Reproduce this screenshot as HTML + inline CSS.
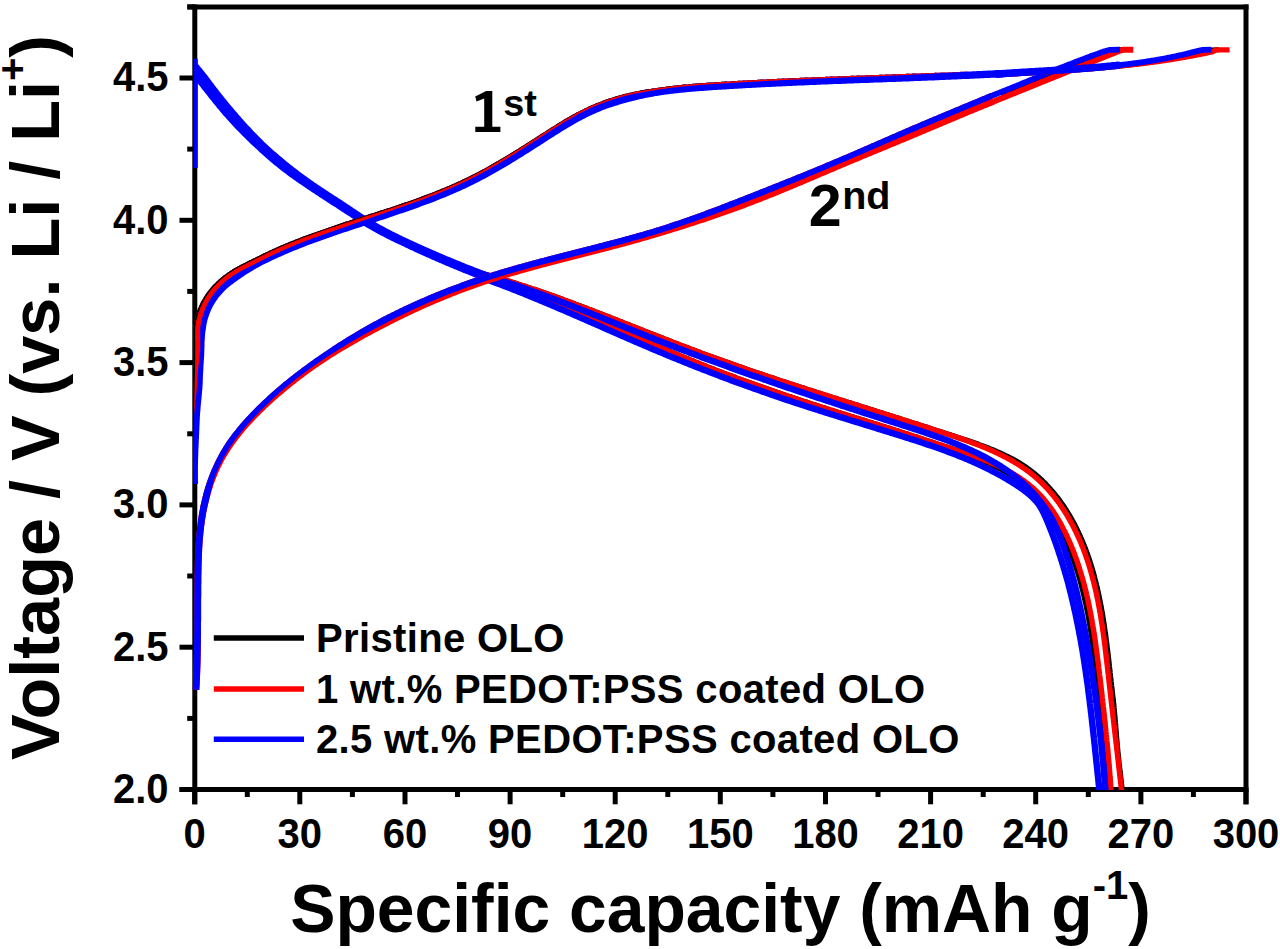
<!DOCTYPE html>
<html><head><meta charset="utf-8"><title>Voltage profile</title>
<style>html,body{margin:0;padding:0;background:#fff;}body{width:1280px;height:949px;overflow:hidden;font-family:"Liberation Sans",sans-serif;}svg{display:block;}</style>
</head><body>
<svg width="1280" height="949" viewBox="0 0 1280 949"><defs><clipPath id="pc"><rect x="192.5" y="0" width="1060" height="790"/></clipPath><clipPath id="pcC"><rect x="193.8" y="0" width="1060" height="792"/></clipPath></defs><line x1="187.4" y1="6.9" x2="1248.5" y2="6.9" stroke="#000" stroke-width="5"/><line x1="194.8" y1="4.4" x2="194.8" y2="804.3" stroke="#000" stroke-width="5"/><line x1="1246" y1="4.4" x2="1246" y2="804.3" stroke="#000" stroke-width="5"/><line x1="179.5" y1="789.5" x2="1248.5" y2="789.5" stroke="#000" stroke-width="5"/><line x1="194.7" y1="789.5" x2="194.7" y2="804.3" stroke="#000" stroke-width="5"/><line x1="247.3" y1="789.5" x2="247.3" y2="797" stroke="#000" stroke-width="5"/><line x1="299.8" y1="789.5" x2="299.8" y2="804.3" stroke="#000" stroke-width="5"/><line x1="352.4" y1="789.5" x2="352.4" y2="797" stroke="#000" stroke-width="5"/><line x1="405.0" y1="789.5" x2="405.0" y2="804.3" stroke="#000" stroke-width="5"/><line x1="457.5" y1="789.5" x2="457.5" y2="797" stroke="#000" stroke-width="5"/><line x1="510.1" y1="789.5" x2="510.1" y2="804.3" stroke="#000" stroke-width="5"/><line x1="562.7" y1="789.5" x2="562.7" y2="797" stroke="#000" stroke-width="5"/><line x1="615.2" y1="789.5" x2="615.2" y2="804.3" stroke="#000" stroke-width="5"/><line x1="667.8" y1="789.5" x2="667.8" y2="797" stroke="#000" stroke-width="5"/><line x1="720.3" y1="789.5" x2="720.3" y2="804.3" stroke="#000" stroke-width="5"/><line x1="772.9" y1="789.5" x2="772.9" y2="797" stroke="#000" stroke-width="5"/><line x1="825.5" y1="789.5" x2="825.5" y2="804.3" stroke="#000" stroke-width="5"/><line x1="878.0" y1="789.5" x2="878.0" y2="797" stroke="#000" stroke-width="5"/><line x1="930.6" y1="789.5" x2="930.6" y2="804.3" stroke="#000" stroke-width="5"/><line x1="983.2" y1="789.5" x2="983.2" y2="797" stroke="#000" stroke-width="5"/><line x1="1035.7" y1="789.5" x2="1035.7" y2="804.3" stroke="#000" stroke-width="5"/><line x1="1088.3" y1="789.5" x2="1088.3" y2="797" stroke="#000" stroke-width="5"/><line x1="1140.9" y1="789.5" x2="1140.9" y2="804.3" stroke="#000" stroke-width="5"/><line x1="1193.4" y1="789.5" x2="1193.4" y2="797" stroke="#000" stroke-width="5"/><line x1="1246.0" y1="789.5" x2="1246.0" y2="804.3" stroke="#000" stroke-width="5"/><line x1="179.5" y1="789.5" x2="194.8" y2="789.5" stroke="#000" stroke-width="5"/><line x1="187.2" y1="718.4" x2="194.8" y2="718.4" stroke="#000" stroke-width="5"/><line x1="179.5" y1="647.2" x2="194.8" y2="647.2" stroke="#000" stroke-width="5"/><line x1="187.2" y1="576.0" x2="194.8" y2="576.0" stroke="#000" stroke-width="5"/><line x1="179.5" y1="504.9" x2="194.8" y2="504.9" stroke="#000" stroke-width="5"/><line x1="187.2" y1="433.8" x2="194.8" y2="433.8" stroke="#000" stroke-width="5"/><line x1="179.5" y1="362.6" x2="194.8" y2="362.6" stroke="#000" stroke-width="5"/><line x1="187.2" y1="291.4" x2="194.8" y2="291.4" stroke="#000" stroke-width="5"/><line x1="179.5" y1="220.3" x2="194.8" y2="220.3" stroke="#000" stroke-width="5"/><line x1="187.2" y1="149.1" x2="194.8" y2="149.1" stroke="#000" stroke-width="5"/><line x1="179.5" y1="78.0" x2="194.8" y2="78.0" stroke="#000" stroke-width="5"/><line x1="187.2" y1="6.9" x2="194.8" y2="6.9" stroke="#000" stroke-width="5"/><g clip-path="url(#pc)"><path d="M480.0 272.9L481.4 273.3L482.8 273.7L484.3 274.1L485.7 274.5L487.2 274.9L488.6 275.3L490.0 275.7L491.5 276.1L492.9 276.5L494.3 276.9L495.8 277.3L497.2 277.7L498.6 278.1L500.1 278.6L501.5 279.0L502.9 279.4L504.3 279.8L505.8 280.3L507.2 280.7L508.6 281.1L510.1 281.6L511.5 282.0L512.9 282.5L514.3 282.9L515.8 283.4L517.2 283.8L518.6 284.3L520.0 284.7L521.5 285.2L522.9 285.7L524.3 286.1L525.7 286.6L527.2 287.1L528.6 287.5L530.0 288.0L531.4 288.5L532.8 289.0L534.3 289.4L535.7 289.9L537.1 290.4L538.5 290.9L539.9 291.4L541.3 291.9L542.8 292.4L544.2 292.9L545.6 293.4L547.0 293.9L548.4 294.4L549.8 294.9L551.3 295.4L552.7 295.9L554.1 296.4L555.5 296.9L556.9 297.4L558.3 297.9L559.7 298.4L561.2 298.9L562.6 299.4L564.0 300.0L565.4 300.5L566.8 301.0L568.2 301.5L569.6 302.0L571.0 302.6L572.5 303.1L573.9 303.6L575.3 304.2L576.7 304.7L578.1 305.2L579.5 305.7L580.9 306.3L582.3 306.8L583.7 307.3L585.1 307.9L586.5 308.4L588.0 309.0L589.4 309.5L590.8 310.0L592.2 310.6L593.6 311.1L595.0 311.7L596.4 312.2L597.8 312.8L599.2 313.3L600.6 313.8L602.0 314.4L603.4 314.9L604.8 315.5L606.2 316.0L607.6 316.6L609.1 317.1L610.5 317.7L611.9 318.2L613.3 318.8L614.7 319.3L616.1 319.9L617.5 320.4L618.9 321.0L620.3 321.5L621.7 322.1L623.1 322.7L624.5 323.2L625.9 323.8L627.3 324.3L628.7 324.9L630.1 325.4L631.5 326.0L632.9 326.5L634.3 327.1L635.7 327.6L637.1 328.2L638.5 328.8L639.9 329.3L641.3 329.9L642.7 330.4L644.2 331.0L645.6 331.5L647.0 332.1L648.4 332.6L649.8 333.2L651.2 333.7L652.6 334.3L654.0 334.8L655.4 335.4L656.8 335.9L658.2 336.5L659.6 337.0L661.0 337.6L662.4 338.1L663.8 338.7L665.2 339.2L666.6 339.8L668.0 340.3L669.4 340.9L670.8 341.4L672.2 342.0L673.6 342.5L675.0 343.1L676.4 343.6L677.8 344.1L679.2 344.7L680.6 345.2L682.0 345.8L683.4 346.3L684.9 346.8L686.3 347.4L687.7 347.9L689.1 348.4L690.5 349.0L691.9 349.5L693.3 350.0L694.7 350.6L696.1 351.1L697.5 351.6L698.9 352.1L700.3 352.7L701.7 353.2L703.1 353.7L704.5 354.2L705.9 354.8L707.3 355.3L708.7 355.8L710.2 356.3L711.6 356.8L713.0 357.3L714.4 357.8L715.8 358.3L717.2 358.9L718.6 359.4L720.0 359.9L721.4 360.4L722.8 360.9L724.2 361.4L725.6 361.9L727.1 362.4L728.5 362.9L729.9 363.4L731.3 363.9L732.7 364.4L734.1 364.9L735.5 365.4L736.9 365.9L738.3 366.4L739.8 366.8L741.2 367.3L742.6 367.8L744.0 368.3L745.4 368.8L746.8 369.3L748.2 369.8L749.6 370.3L751.0 370.7L752.5 371.2L753.9 371.7L755.3 372.2L756.7 372.7L758.1 373.2L759.5 373.6L760.9 374.1L762.4 374.6L763.8 375.1L765.2 375.5L766.6 376.0L768.0 376.5L769.4 377.0L770.9 377.4L772.3 377.9L773.7 378.4L775.1 378.9L776.5 379.3L777.9 379.8L779.4 380.3L780.8 380.7L782.2 381.2L783.6 381.7L785.0 382.1L786.4 382.6L787.9 383.1L789.3 383.5L790.7 384.0L792.1 384.4L793.5 384.9L795.0 385.4L796.4 385.8L797.8 386.3L799.2 386.8L800.7 387.2L802.1 387.7L803.5 388.1L804.9 388.6L806.3 389.1L807.8 389.5L809.2 390.0L810.6 390.4L812.0 390.9L813.5 391.3L814.9 391.8L816.3 392.3L817.7 392.7L819.2 393.2L820.6 393.6L822.0 394.1L823.4 394.5L824.9 395.0L826.3 395.4L827.7 395.9L829.1 396.4L830.6 396.8L832.0 397.3L833.4 397.7L834.9 398.2L836.3 398.6L837.7 399.1L839.1 399.5L840.6 400.0L842.0 400.4L843.4 400.9L844.9 401.3L846.3 401.8L847.7 402.2L849.2 402.7L850.6 403.1L852.0 403.6L853.4 404.0L854.9 404.5L856.3 404.9L857.7 405.4L859.2 405.9L860.6 406.3L862.1 406.8L863.5 407.2L864.9 407.7L866.4 408.1L867.8 408.6L869.2 409.0L870.7 409.5L872.1 409.9L873.5 410.4L875.0 410.8L876.4 411.3L877.9 411.7L879.3 412.2L880.7 412.7L882.2 413.1L883.6 413.6L885.0 414.0L886.5 414.5L887.9 414.9L889.4 415.4L890.8 415.8L892.3 416.3L893.7 416.8L895.1 417.2L896.6 417.7L898.0 418.1L899.5 418.6L900.9 419.0L902.4 419.5L903.8 420.0L905.2 420.4L906.7 420.9L908.1 421.3L909.6 421.8L911.0 422.3L912.5 422.7L913.9 423.2L915.4 423.7L916.8 424.1L918.3 424.6L919.7 425.1L921.2 425.5L922.6 426.0L924.1 426.5L925.5 426.9L927.0 427.4L928.4 427.9L929.9 428.3L931.3 428.8L932.8 429.3L934.2 429.7L935.7 430.2L937.1 430.7L938.6 431.2L940.0 431.6L941.5 432.1L943.0 432.6L944.4 433.0L945.9 433.5L947.3 434.0L948.8 434.4L950.3 434.9L951.7 435.4L953.2 435.8L954.6 436.3L956.1 436.8L957.5 437.3L959.0 437.7L960.5 438.2L961.9 438.7L963.4 439.2L964.8 439.7L966.3 440.1L967.7 440.6L969.2 441.1L970.6 441.6L972.0 442.1L973.5 442.6L974.9 443.1L976.4 443.6L977.8 444.1L979.2 444.7L980.6 445.2L982.1 445.7L983.5 446.2L984.9 446.8L986.3 447.3L987.7 447.9L989.1 448.4L990.5 449.0L991.9 449.5L993.3 450.1L994.7 450.7L996.1 451.3L997.5 451.9L998.9 452.5L1000.2 453.1L1001.6 453.7L1002.9 454.3L1004.3 455.0L1005.6 455.6L1007.0 456.3L1008.3 456.9L1009.7 457.6L1011.0 458.3L1012.3 459.0L1013.6 459.7L1014.9 460.4L1016.2 461.1L1017.5 461.9L1018.7 462.6L1020.0 463.4L1021.3 464.2L1022.5 465.0L1023.7 465.8L1025.0 466.6L1026.2 467.4L1027.4 468.3L1028.6 469.2L1029.8 470.0L1030.9 470.9L1032.1 471.8L1033.3 472.8L1034.4 473.7L1035.5 474.6L1036.7 475.6L1037.8 476.5L1038.9 477.5L1040.0 478.5L1041.1 479.5L1042.1 480.5L1043.2 481.6L1044.2 482.6L1045.3 483.6L1046.3 484.7L1047.3 485.8L1048.3 486.9L1049.3 488.0L1050.3 489.1L1051.3 490.2L1052.3 491.3L1053.2 492.4L1054.2 493.6L1055.1 494.7L1056.0 495.9L1057.0 497.1L1057.9 498.2L1058.8 499.4L1059.7 500.6L1060.5 501.9L1061.4 503.1L1062.3 504.3L1063.1 505.5L1064.0 506.8L1064.8 508.0L1065.6 509.3L1066.4 510.5L1067.2 511.8L1068.0 513.1L1068.8 514.4L1069.6 515.7L1070.3 517.0L1071.1 518.3L1071.8 519.6L1072.5 520.9L1073.3 522.3L1074.0 523.6L1074.7 524.9L1075.4 526.3L1076.1 527.6L1076.7 529.0L1077.4 530.4L1078.1 531.7L1078.7 533.1L1079.4 534.5L1080.0 535.9L1080.6 537.3L1081.2 538.6L1081.8 540.0L1082.4 541.4L1083.0 542.8L1083.6 544.3L1084.2 545.7L1084.7 547.1L1085.3 548.5L1085.8 549.9L1086.3 551.4L1086.9 552.8L1087.4 554.2L1087.9 555.6L1088.4 557.1L1088.9 558.5L1089.4 560.0L1089.8 561.4L1090.3 562.9L1090.8 564.3L1091.2 565.8L1091.7 567.2L1092.1 568.7L1092.5 570.1L1092.9 571.6L1093.4 573.1L1093.8 574.5L1094.2 576.0L1094.6 577.5L1094.9 578.9L1095.3 580.4L1095.7 581.9L1096.1 583.4L1096.4 584.9L1096.8 586.3L1097.1 587.8L1097.5 589.3L1097.8 590.8L1098.1 592.3L1098.5 593.8L1098.8 595.3L1099.1 596.8L1099.4 598.3L1099.7 599.8L1100.0 601.3L1100.3 602.8L1100.6 604.3L1100.9 605.8L1101.2 607.3L1101.4 608.8L1101.7 610.3L1102.0 611.8L1102.2 613.3L1102.5 614.8L1102.7 616.3L1103.0 617.8L1103.2 619.4L1103.5 620.9L1103.7 622.4L1103.9 623.9L1104.2 625.4L1104.4 626.9L1104.6 628.4L1104.8 629.9L1105.0 631.5L1105.2 633.0L1105.5 634.5L1105.7 636.0L1105.9 637.5L1106.1 639.0L1106.3 640.6L1106.5 642.1L1106.7 643.6L1106.8 645.1L1107.0 646.6L1107.2 648.1L1107.4 649.6L1107.6 651.2L1107.8 652.7L1108.0 654.2L1108.1 655.7L1108.3 657.2L1108.5 658.7L1108.7 660.2L1108.8 661.7L1109.0 663.2L1109.2 664.8L1109.3 666.3L1109.5 667.8L1109.7 669.3L1109.9 670.8L1110.0 672.3L1110.2 673.8L1110.4 675.3L1110.5 676.8L1110.7 678.3L1110.9 679.8L1111.0 681.3L1111.2 682.8L1111.4 684.3L1111.5 685.8L1111.7 687.2L1111.9 688.7L1112.0 690.2L1112.2 691.7L1112.4 693.2L1112.5 694.7L1112.7 696.2L1112.9 697.6L1113.1 699.1L1113.2 700.6L1113.4 702.1L1113.6 703.6L1113.7 705.1L1113.9 706.5L1114.0 708.0L1114.2 709.5L1114.3 711.0L1114.4 712.5L1114.6 713.9L1114.7 715.4L1114.8 716.9L1115.0 718.4L1115.1 719.9L1115.2 721.3L1115.3 722.8L1115.5 724.3L1115.6 725.8L1115.7 727.3L1115.8 728.7L1115.9 730.2L1116.1 731.7L1116.2 733.2L1116.3 734.7L1116.4 736.1L1116.5 737.6L1116.7 739.1L1116.8 740.6L1116.9 742.1L1117.1 743.6L1117.2 745.0L1117.3 746.5L1117.5 748.0L1117.6 749.5L1117.7 751.0L1117.9 752.4L1118.0 753.9L1118.2 755.4L1118.4 756.9L1118.5 758.4L1118.7 759.9L1118.9 761.3L1119.0 762.8L1119.2 764.3L1119.4 765.8L1119.5 767.3L1119.7 768.8L1119.9 770.3L1120.0 771.7L1120.2 773.2L1120.4 774.7L1120.5 776.2L1120.7 777.7L1120.9 779.2L1121.1 780.7L1121.2 782.2L1121.4 783.7L1121.6 785.2L1121.7 786.7L1121.9 788.2L1122.1 789.7L1122.2 791.2L1122.4 792.7" fill="none" stroke="#000" stroke-width="5.4" stroke-linejoin="round"/><path d="M480.0 275.5L481.4 276.0L482.9 276.4L484.3 276.9L485.7 277.4L487.1 277.8L488.6 278.3L490.0 278.8L491.4 279.3L492.8 279.8L494.3 280.3L495.7 280.7L497.1 281.2L498.5 281.7L499.9 282.2L501.4 282.7L502.8 283.2L504.2 283.7L505.6 284.3L507.0 284.8L508.4 285.3L509.8 285.8L511.2 286.3L512.6 286.9L514.1 287.4L515.5 287.9L516.9 288.4L518.3 289.0L519.7 289.5L521.1 290.0L522.5 290.6L523.9 291.1L525.3 291.7L526.7 292.2L528.1 292.8L529.5 293.3L530.9 293.9L532.3 294.4L533.7 295.0L535.1 295.5L536.5 296.1L537.9 296.6L539.3 297.2L540.7 297.8L542.1 298.3L543.4 298.9L544.8 299.5L546.2 300.0L547.6 300.6L549.0 301.2L550.4 301.7L551.8 302.3L553.2 302.9L554.6 303.4L556.0 304.0L557.4 304.6L558.8 305.2L560.2 305.7L561.5 306.3L562.9 306.9L564.3 307.5L565.7 308.0L567.1 308.6L568.5 309.2L569.9 309.8L571.3 310.3L572.7 310.9L574.0 311.5L575.4 312.1L576.8 312.7L578.2 313.2L579.6 313.8L581.0 314.4L582.4 315.0L583.8 315.5L585.2 316.1L586.5 316.7L587.9 317.3L589.3 317.8L590.7 318.4L592.1 319.0L593.5 319.6L594.9 320.1L596.3 320.7L597.7 321.3L599.1 321.9L600.4 322.4L601.8 323.0L603.2 323.6L604.6 324.2L606.0 324.7L607.4 325.3L608.8 325.9L610.2 326.5L611.5 327.0L612.9 327.6L614.3 328.2L615.7 328.8L617.1 329.3L618.5 329.9L619.9 330.5L621.3 331.1L622.6 331.6L624.0 332.2L625.4 332.8L626.8 333.4L628.2 334.0L629.6 334.5L630.9 335.1L632.3 335.7L633.7 336.3L635.1 336.8L636.5 337.4L637.9 338.0L639.2 338.6L640.6 339.2L642.0 339.7L643.4 340.3L644.8 340.9L646.1 341.5L647.5 342.1L648.9 342.7L650.3 343.2L651.6 343.8L653.0 344.4L654.4 345.0L655.8 345.6L657.2 346.1L658.5 346.7L659.9 347.3L661.3 347.9L662.7 348.5L664.0 349.1L665.4 349.6L666.8 350.2L668.2 350.8L669.5 351.4L670.9 352.0L672.3 352.5L673.7 353.1L675.1 353.7L676.4 354.3L677.8 354.8L679.2 355.4L680.6 356.0L682.0 356.6L683.3 357.1L684.7 357.7L686.1 358.3L687.5 358.9L688.9 359.4L690.3 360.0L691.6 360.6L693.0 361.1L694.4 361.7L695.8 362.2L697.2 362.8L698.6 363.4L700.0 363.9L701.4 364.5L702.8 365.0L704.2 365.6L705.5 366.1L706.9 366.7L708.3 367.2L709.7 367.8L711.1 368.3L712.5 368.9L713.9 369.4L715.3 370.0L716.7 370.5L718.1 371.1L719.5 371.6L720.9 372.1L722.3 372.7L723.7 373.2L725.2 373.7L726.6 374.3L728.0 374.8L729.4 375.3L730.8 375.9L732.2 376.4L733.6 376.9L735.0 377.4L736.4 378.0L737.8 378.5L739.2 379.0L740.7 379.5L742.1 380.0L743.5 380.5L744.9 381.1L746.3 381.6L747.7 382.1L749.1 382.6L750.6 383.1L752.0 383.6L753.4 384.1L754.8 384.6L756.2 385.1L757.7 385.6L759.1 386.1L760.5 386.6L761.9 387.1L763.3 387.6L764.8 388.1L766.2 388.6L767.6 389.1L769.0 389.6L770.4 390.1L771.9 390.6L773.3 391.1L774.7 391.6L776.1 392.1L777.6 392.6L779.0 393.1L780.4 393.6L781.8 394.0L783.3 394.5L784.7 395.0L786.1 395.5L787.5 396.0L789.0 396.5L790.4 396.9L791.8 397.4L793.3 397.9L794.7 398.4L796.1 398.8L797.5 399.3L799.0 399.8L800.4 400.3L801.8 400.7L803.3 401.2L804.7 401.7L806.1 402.1L807.5 402.6L809.0 403.1L810.4 403.5L811.8 404.0L813.3 404.5L814.7 404.9L816.1 405.4L817.6 405.8L819.0 406.3L820.4 406.8L821.8 407.2L823.3 407.7L824.7 408.1L826.1 408.6L827.6 409.0L829.0 409.5L830.4 410.0L831.9 410.4L833.3 410.9L834.7 411.3L836.1 411.8L837.6 412.2L839.0 412.7L840.4 413.1L841.9 413.6L843.3 414.0L844.7 414.4L846.1 414.9L847.6 415.3L849.0 415.8L850.4 416.2L851.8 416.7L853.3 417.1L854.7 417.5L856.1 418.0L857.6 418.4L859.0 418.9L860.4 419.3L861.8 419.8L863.3 420.2L864.7 420.6L866.1 421.1L867.5 421.5L869.0 422.0L870.4 422.4L871.8 422.8L873.2 423.3L874.7 423.7L876.1 424.2L877.5 424.6L878.9 425.1L880.3 425.5L881.8 426.0L883.2 426.4L884.6 426.8L886.0 427.3L887.5 427.7L888.9 428.2L890.3 428.6L891.7 429.1L893.1 429.5L894.6 430.0L896.0 430.5L897.4 430.9L898.8 431.4L900.2 431.8L901.7 432.3L903.1 432.7L904.5 433.2L905.9 433.7L907.3 434.1L908.8 434.6L910.2 435.1L911.6 435.5L913.0 436.0L914.4 436.5L915.9 436.9L917.3 437.4L918.7 437.9L920.1 438.3L921.6 438.8L923.0 439.3L924.4 439.8L925.8 440.2L927.3 440.7L928.7 441.2L930.1 441.6L931.6 442.1L933.0 442.6L934.4 443.1L935.9 443.6L937.3 444.0L938.8 444.5L940.2 445.0L941.7 445.5L943.1 446.0L944.6 446.5L946.0 446.9L947.5 447.4L948.9 447.9L950.4 448.4L951.8 448.9L953.3 449.4L954.7 449.9L956.2 450.4L957.7 450.9L959.1 451.4L960.6 451.9L962.0 452.5L963.5 453.0L964.9 453.5L966.4 454.0L967.8 454.6L969.2 455.1L970.7 455.6L972.1 456.2L973.6 456.7L975.0 457.3L976.4 457.9L977.8 458.4L979.2 459.0L980.7 459.6L982.1 460.2L983.5 460.8L984.9 461.4L986.3 462.0L987.6 462.6L989.0 463.2L990.4 463.9L991.8 464.5L993.1 465.2L994.5 465.8L995.8 466.5L997.2 467.2L998.5 467.8L999.8 468.5L1001.1 469.2L1002.4 469.9L1003.7 470.7L1005.0 471.4L1006.3 472.1L1007.6 472.9L1008.8 473.6L1010.1 474.4L1011.3 475.2L1012.6 476.0L1013.8 476.8L1015.0 477.6L1016.2 478.4L1017.4 479.2L1018.6 480.0L1019.7 480.9L1020.9 481.7L1022.0 482.6L1023.2 483.5L1024.3 484.4L1025.4 485.2L1026.5 486.1L1027.6 487.1L1028.7 488.0L1029.8 488.9L1030.8 489.9L1031.9 490.8L1032.9 491.8L1034.0 492.8L1035.0 493.7L1036.0 494.7L1037.0 495.8L1038.0 496.8L1038.9 497.8L1039.9 498.9L1040.9 500.0L1041.8 501.1L1042.7 502.2L1043.6 503.3L1044.5 504.4L1045.4 505.5L1046.3 506.7L1047.2 507.8L1048.0 509.0L1048.9 510.2L1049.7 511.4L1050.6 512.6L1051.4 513.8L1052.2 515.0L1053.0 516.3L1053.8 517.5L1054.5 518.7L1055.3 520.0L1056.0 521.3L1056.8 522.6L1057.5 523.8L1058.2 525.1L1059.0 526.4L1059.7 527.8L1060.4 529.1L1061.0 530.4L1061.7 531.7L1062.4 533.1L1063.0 534.4L1063.7 535.8L1064.3 537.1L1065.0 538.5L1065.6 539.8L1066.2 541.2L1066.8 542.6L1067.4 544.0L1068.0 545.3L1068.6 546.7L1069.1 548.1L1069.7 549.5L1070.3 550.9L1070.8 552.3L1071.3 553.7L1071.9 555.1L1072.4 556.5L1072.9 557.9L1073.4 559.3L1073.9 560.7L1074.4 562.2L1074.9 563.6L1075.4 565.0L1075.8 566.4L1076.3 567.8L1076.8 569.3L1077.2 570.7L1077.7 572.1L1078.1 573.6L1078.5 575.0L1079.0 576.4L1079.4 577.9L1079.8 579.3L1080.2 580.7L1080.6 582.2L1081.0 583.6L1081.4 585.1L1081.7 586.5L1082.1 588.0L1082.5 589.4L1082.9 590.9L1083.2 592.3L1083.6 593.8L1083.9 595.2L1084.3 596.7L1084.6 598.2L1084.9 599.6L1085.2 601.1L1085.6 602.5L1085.9 604.0L1086.2 605.5L1086.5 606.9L1086.8 608.4L1087.1 609.9L1087.4 611.4L1087.7 612.8L1088.0 614.3L1088.2 615.8L1088.5 617.3L1088.8 618.7L1089.0 620.2L1089.3 621.7L1089.6 623.2L1089.8 624.6L1090.1 626.1L1090.3 627.6L1090.6 629.1L1090.8 630.6L1091.0 632.1L1091.3 633.6L1091.5 635.0L1091.7 636.5L1092.0 638.0L1092.2 639.5L1092.4 641.0L1092.6 642.5L1092.8 644.0L1093.0 645.5L1093.3 646.9L1093.5 648.4L1093.7 649.9L1093.9 651.4L1094.1 652.9L1094.3 654.4L1094.5 655.9L1094.7 657.4L1094.8 658.9L1095.0 660.4L1095.2 661.9L1095.4 663.4L1095.6 664.9L1095.8 666.3L1096.0 667.8L1096.1 669.3L1096.3 670.8L1096.5 672.3L1096.7 673.8L1096.9 675.3L1097.0 676.8L1097.2 678.3L1097.4 679.8L1097.6 681.3L1097.7 682.8L1097.9 684.3L1098.1 685.7L1098.3 687.2L1098.4 688.7L1098.6 690.2L1098.8 691.7L1099.0 693.2L1099.1 694.7L1099.3 696.2L1099.5 697.6L1099.6 699.1L1099.8 700.6L1100.0 702.1L1100.1 703.6L1100.3 705.1L1100.5 706.6L1100.6 708.0L1100.8 709.5L1101.0 711.0L1101.1 712.5L1101.3 714.0L1101.4 715.5L1101.6 717.0L1101.8 718.4L1101.9 719.9L1102.1 721.4L1102.2 722.9L1102.4 724.4L1102.5 725.9L1102.7 727.4L1102.8 728.8L1103.0 730.3L1103.2 731.8L1103.3 733.3L1103.5 734.8L1103.6 736.3L1103.8 737.8L1103.9 739.2L1104.0 740.7L1104.2 742.2L1104.3 743.7L1104.5 745.2L1104.6 746.7L1104.8 748.2L1104.9 749.7L1105.0 751.2L1105.2 752.7L1105.3 754.1L1105.5 755.6L1105.6 757.1L1105.7 758.6L1105.9 760.1L1106.0 761.6L1106.1 763.1L1106.2 764.6L1106.4 766.1L1106.5 767.6L1106.6 769.1L1106.8 770.6L1106.9 772.1L1107.0 773.6L1107.1 775.1L1107.2 776.6L1107.4 778.1L1107.5 779.6L1107.6 781.1L1107.7 782.6L1107.8 784.1L1107.9 785.6L1108.0 787.2L1108.2 788.7L1108.3 790.2L1108.4 791.7L1108.5 793.2" fill="none" stroke="#000" stroke-width="5.4" stroke-linejoin="round"/><path d="M480.0 272.9L481.4 273.3L482.8 273.7L484.3 274.1L485.7 274.5L487.2 274.9L488.6 275.3L490.0 275.7L491.5 276.1L492.9 276.5L494.3 276.9L495.8 277.3L497.2 277.7L498.6 278.1L500.1 278.6L501.5 279.0L502.9 279.4L504.3 279.8L505.8 280.3L507.2 280.7L508.6 281.1L510.1 281.6L511.5 282.0L512.9 282.5L514.3 282.9L515.8 283.4L517.2 283.8L518.6 284.3L520.0 284.7L521.5 285.2L522.9 285.7L524.3 286.1L525.7 286.6L527.2 287.1L528.6 287.5L530.0 288.0L531.4 288.5L532.8 289.0L534.3 289.4L535.7 289.9L537.1 290.4L538.5 290.9L539.9 291.4L541.3 291.9L542.8 292.4L544.2 292.9L545.6 293.4L547.0 293.9L548.4 294.4L549.8 294.9L551.3 295.4L552.7 295.9L554.1 296.4L555.5 296.9L556.9 297.4L558.3 297.9L559.7 298.4L561.2 298.9L562.6 299.4L564.0 300.0L565.4 300.5L566.8 301.0L568.2 301.5L569.6 302.0L571.0 302.6L572.5 303.1L573.9 303.6L575.3 304.2L576.7 304.7L578.1 305.2L579.5 305.7L580.9 306.3L582.3 306.8L583.7 307.3L585.1 307.9L586.5 308.4L588.0 309.0L589.4 309.5L590.8 310.0L592.2 310.6L593.6 311.1L595.0 311.7L596.4 312.2L597.8 312.8L599.2 313.3L600.6 313.8L602.0 314.4L603.4 314.9L604.8 315.5L606.2 316.0L607.6 316.6L609.1 317.1L610.5 317.7L611.9 318.2L613.3 318.8L614.7 319.3L616.1 319.9L617.5 320.4L618.9 321.0L620.3 321.5L621.7 322.1L623.1 322.7L624.5 323.2L625.9 323.8L627.3 324.3L628.7 324.9L630.1 325.4L631.5 326.0L632.9 326.5L634.3 327.1L635.7 327.6L637.1 328.2L638.5 328.8L639.9 329.3L641.3 329.9L642.7 330.4L644.2 331.0L645.6 331.5L647.0 332.1L648.4 332.6L649.8 333.2L651.2 333.7L652.6 334.3L654.0 334.8L655.4 335.4L656.8 335.9L658.2 336.5L659.6 337.0L661.0 337.6L662.4 338.1L663.8 338.7L665.2 339.2L666.6 339.8L668.0 340.3L669.4 340.9L670.8 341.4L672.2 342.0L673.6 342.5L675.0 343.1L676.4 343.6L677.8 344.1L679.2 344.7L680.6 345.2L682.0 345.8L683.4 346.3L684.9 346.8L686.3 347.4L687.7 347.9L689.1 348.4L690.5 349.0L691.9 349.5L693.3 350.0L694.7 350.6L696.1 351.1L697.5 351.6L698.9 352.1L700.3 352.7L701.7 353.2L703.1 353.7L704.5 354.2L705.9 354.8L707.3 355.3L708.7 355.8L710.2 356.3L711.6 356.8L713.0 357.3L714.4 357.8L715.8 358.3L717.2 358.9L718.6 359.4L720.0 359.9L721.4 360.4L722.8 360.9L724.2 361.4L725.6 361.9L727.1 362.4L728.5 362.9L729.9 363.4L731.3 363.9L732.7 364.4L734.1 364.9L735.5 365.4L736.9 365.9L738.3 366.4L739.8 366.8L741.2 367.3L742.6 367.8L744.0 368.3L745.4 368.8L746.8 369.3L748.2 369.8L749.6 370.3L751.0 370.7L752.5 371.2L753.9 371.7L755.3 372.2L756.7 372.7L758.1 373.2L759.5 373.6L760.9 374.1L762.4 374.6L763.8 375.1L765.2 375.5L766.6 376.0L768.0 376.5L769.4 377.0L770.9 377.4L772.3 377.9L773.7 378.4L775.1 378.9L776.5 379.3L777.9 379.8L779.4 380.3L780.8 380.7L782.2 381.2L783.6 381.7L785.0 382.1L786.4 382.6L787.9 383.1L789.3 383.5L790.7 384.0L792.1 384.4L793.5 384.9L795.0 385.4L796.4 385.8L797.8 386.3L799.2 386.8L800.7 387.2L802.1 387.7L803.5 388.1L804.9 388.6L806.3 389.1L807.8 389.5L809.2 390.0L810.6 390.4L812.0 390.9L813.5 391.3L814.9 391.8L816.3 392.3L817.7 392.7L819.2 393.2L820.6 393.6L822.0 394.1L823.4 394.5L824.9 395.0L826.3 395.4L827.7 395.9L829.1 396.4L830.6 396.8L832.0 397.3L833.4 397.7L834.9 398.2L836.3 398.6L837.7 399.1L839.1 399.5L840.6 400.0L842.0 400.4L843.4 400.9L844.9 401.3L846.3 401.8L847.7 402.2L849.2 402.7L850.6 403.1L852.0 403.6L853.4 404.0L854.9 404.5L856.3 404.9L857.7 405.4L859.2 405.9L860.6 406.3L862.1 406.8L863.5 407.2L864.9 407.7L866.4 408.1L867.8 408.6L869.2 409.0L870.7 409.5L872.1 409.9L873.5 410.4L875.0 410.8L876.4 411.3L877.9 411.7L879.3 412.2L880.7 412.7L882.2 413.1L883.6 413.6L885.0 414.0L886.5 414.5L887.9 414.9L889.4 415.4L890.8 415.8L892.3 416.3L893.7 416.8L895.1 417.2L896.6 417.7L898.0 418.1L899.5 418.6L900.9 419.0L902.4 419.5L903.8 420.0L905.2 420.4L906.7 420.9L908.1 421.3L909.6 421.8L911.0 422.3L912.5 422.7L913.9 423.2L915.4 423.7L916.8 424.1L918.3 424.6L919.7 425.1L921.2 425.5L922.6 426.0L924.1 426.5L925.5 426.9L927.0 427.4L928.4 427.9L929.9 428.3L931.3 428.8L932.8 429.3L934.2 429.7L935.7 430.2L937.1 430.7L938.6 431.2L940.0 431.6L941.5 432.1L942.9 432.6L944.4 433.1L945.9 433.5L947.3 434.0L948.8 434.5L950.2 435.0L951.7 435.5L953.1 436.0L954.6 436.4L956.0 436.9L957.5 437.4L958.9 437.9L960.4 438.4L961.8 438.9L963.3 439.4L964.7 439.9L966.1 440.5L967.6 441.0L969.0 441.5L970.4 442.0L971.9 442.6L973.3 443.1L974.7 443.6L976.1 444.2L977.6 444.7L979.0 445.3L980.4 445.8L981.8 446.4L983.2 447.0L984.6 447.5L986.0 448.1L987.4 448.7L988.8 449.3L990.1 449.9L991.5 450.5L992.9 451.1L994.2 451.7L995.6 452.3L997.0 453.0L998.3 453.6L999.6 454.3L1001.0 454.9L1002.3 455.6L1003.6 456.3L1005.0 456.9L1006.3 457.6L1007.6 458.3L1008.9 459.0L1010.2 459.7L1011.4 460.5L1012.7 461.2L1014.0 461.9L1015.2 462.7L1016.5 463.5L1017.7 464.2L1019.0 465.0L1020.2 465.8L1021.4 466.6L1022.6 467.4L1023.8 468.2L1025.0 469.1L1026.2 469.9L1027.4 470.8L1028.6 471.6L1029.7 472.5L1030.9 473.4L1032.0 474.3L1033.1 475.2L1034.3 476.2L1035.4 477.1L1036.5 478.0L1037.5 479.0L1038.6 480.0L1039.7 481.0L1040.7 482.0L1041.8 483.0L1042.8 484.0L1043.9 485.0L1044.9 486.1L1045.9 487.2L1046.9 488.2L1047.9 489.3L1048.8 490.4L1049.8 491.5L1050.8 492.6L1051.7 493.7L1052.6 494.8L1053.6 496.0L1054.5 497.1L1055.4 498.3L1056.3 499.5L1057.2 500.6L1058.0 501.8L1058.9 503.0L1059.8 504.2L1060.6 505.4L1061.5 506.7L1062.3 507.9L1063.1 509.1L1063.9 510.4L1064.7 511.6L1065.5 512.9L1066.3 514.1L1067.1 515.4L1067.8 516.7L1068.6 518.0L1069.3 519.3L1070.1 520.6L1070.8 521.9L1071.5 523.2L1072.2 524.5L1072.9 525.9L1073.6 527.2L1074.3 528.5L1074.9 529.9L1075.6 531.2L1076.3 532.6L1076.9 534.0L1077.5 535.3L1078.2 536.7L1078.8 538.1L1079.4 539.4L1080.0 540.8L1080.6 542.2L1081.2 543.6L1081.7 545.0L1082.3 546.4L1082.9 547.8L1083.4 549.2L1083.9 550.6L1084.5 552.0L1085.0 553.5L1085.5 554.9L1086.0 556.3L1086.5 557.7L1087.0 559.2L1087.5 560.6L1087.9 562.0L1088.4 563.5L1088.9 564.9L1089.3 566.3L1089.7 567.8L1090.2 569.2L1090.6 570.7L1091.0 572.1L1091.4 573.6L1091.8 575.1L1092.2 576.5L1092.6 578.0L1093.0 579.5L1093.4 580.9L1093.8 582.4L1094.1 583.9L1094.5 585.3L1094.8 586.8L1095.2 588.3L1095.5 589.8L1095.9 591.2L1096.2 592.7L1096.5 594.2L1096.8 595.7L1097.1 597.2L1097.5 598.7L1097.8 600.2L1098.1 601.7L1098.3 603.2L1098.6 604.7L1098.9 606.1L1099.2 607.6L1099.5 609.1L1099.7 610.6L1100.0 612.1L1100.3 613.6L1100.5 615.2L1100.8 616.7L1101.0 618.2L1101.2 619.7L1101.5 621.2L1101.7 622.7L1102.0 624.2L1102.2 625.7L1102.4 627.2L1102.6 628.7L1102.8 630.2L1103.1 631.7L1103.3 633.3L1103.5 634.8L1103.7 636.3L1103.9 637.8L1104.1 639.3L1104.3 640.8L1104.5 642.3L1104.7 643.8L1104.9 645.3L1105.1 646.9L1105.2 648.4L1105.4 649.9L1105.6 651.4L1105.8 652.9L1106.0 654.4L1106.1 655.9L1106.3 657.4L1106.5 658.9L1106.7 660.5L1106.8 662.0L1107.0 663.5L1107.2 665.0L1107.4 666.5L1107.5 668.0L1107.7 669.5L1107.9 671.0L1108.0 672.5L1108.2 674.0L1108.4 675.5L1108.5 677.0L1108.7 678.5L1108.9 680.0L1109.0 681.5L1109.2 683.0L1109.4 684.5L1109.5 686.0L1109.7 687.5L1109.9 689.0L1110.1 690.4L1110.2 691.9L1110.4 693.4L1110.6 694.9L1110.7 696.4L1110.9 697.9L1111.1 699.4L1111.2 700.8L1111.4 702.3L1111.6 703.8L1111.8 705.3L1111.9 706.8L1112.1 708.2L1112.3 709.7L1112.4 711.2L1112.6 712.7L1112.8 714.1L1112.9 715.6L1113.1 717.1L1113.3 718.6L1113.5 720.1L1113.6 721.5L1113.8 723.0L1114.0 724.5L1114.1 726.0L1114.3 727.4L1114.5 728.9L1114.7 730.4L1114.8 731.8L1115.0 733.3L1115.2 734.8L1115.3 736.3L1115.5 737.7L1115.7 739.2L1115.9 740.7L1116.0 742.2L1116.2 743.6L1116.4 745.1L1116.5 746.6L1116.7 748.1L1116.9 749.6L1117.1 751.0L1117.2 752.5L1117.4 754.0L1117.6 755.5L1117.7 757.0L1117.9 758.4L1118.1 759.9L1118.3 761.4L1118.4 762.9L1118.6 764.4L1118.8 765.9L1118.9 767.3L1119.1 768.8L1119.3 770.3L1119.4 771.8L1119.6 773.3L1119.8 774.8L1120.0 776.3L1120.1 777.8L1120.3 779.3L1120.5 780.8L1120.6 782.3L1120.8 783.8L1121.0 785.3L1121.1 786.8L1121.3 788.3L1121.5 789.8L1121.6 791.3L1121.8 792.8" fill="none" stroke="#f00" stroke-width="5.4" stroke-linejoin="round"/><path d="M480.0 275.5L481.4 276.0L482.9 276.4L484.3 276.9L485.7 277.4L487.1 277.8L488.6 278.3L490.0 278.8L491.4 279.3L492.8 279.8L494.3 280.3L495.7 280.7L497.1 281.2L498.5 281.7L499.9 282.2L501.4 282.7L502.8 283.2L504.2 283.7L505.6 284.3L507.0 284.8L508.4 285.3L509.8 285.8L511.2 286.3L512.6 286.9L514.1 287.4L515.5 287.9L516.9 288.4L518.3 289.0L519.7 289.5L521.1 290.0L522.5 290.6L523.9 291.1L525.3 291.7L526.7 292.2L528.1 292.8L529.5 293.3L530.9 293.9L532.3 294.4L533.7 295.0L535.1 295.5L536.5 296.1L537.9 296.6L539.3 297.2L540.7 297.8L542.1 298.3L543.4 298.9L544.8 299.5L546.2 300.0L547.6 300.6L549.0 301.2L550.4 301.7L551.8 302.3L553.2 302.9L554.6 303.4L556.0 304.0L557.4 304.6L558.8 305.2L560.2 305.7L561.5 306.3L562.9 306.9L564.3 307.5L565.7 308.0L567.1 308.6L568.5 309.2L569.9 309.8L571.3 310.3L572.7 310.9L574.0 311.5L575.4 312.1L576.8 312.7L578.2 313.2L579.6 313.8L581.0 314.4L582.4 315.0L583.8 315.5L585.2 316.1L586.5 316.7L587.9 317.3L589.3 317.8L590.7 318.4L592.1 319.0L593.5 319.6L594.9 320.1L596.3 320.7L597.7 321.3L599.1 321.9L600.4 322.4L601.8 323.0L603.2 323.6L604.6 324.2L606.0 324.7L607.4 325.3L608.8 325.9L610.2 326.5L611.5 327.0L612.9 327.6L614.3 328.2L615.7 328.8L617.1 329.3L618.5 329.9L619.9 330.5L621.3 331.1L622.6 331.6L624.0 332.2L625.4 332.8L626.8 333.4L628.2 334.0L629.6 334.5L630.9 335.1L632.3 335.7L633.7 336.3L635.1 336.8L636.5 337.4L637.9 338.0L639.2 338.6L640.6 339.2L642.0 339.7L643.4 340.3L644.8 340.9L646.1 341.5L647.5 342.1L648.9 342.7L650.3 343.2L651.6 343.8L653.0 344.4L654.4 345.0L655.8 345.6L657.2 346.1L658.5 346.7L659.9 347.3L661.3 347.9L662.7 348.5L664.0 349.1L665.4 349.6L666.8 350.2L668.2 350.8L669.5 351.4L670.9 352.0L672.3 352.5L673.7 353.1L675.1 353.7L676.4 354.3L677.8 354.8L679.2 355.4L680.6 356.0L682.0 356.6L683.3 357.1L684.7 357.7L686.1 358.3L687.5 358.9L688.9 359.4L690.3 360.0L691.6 360.6L693.0 361.1L694.4 361.7L695.8 362.2L697.2 362.8L698.6 363.4L700.0 363.9L701.4 364.5L702.8 365.0L704.2 365.6L705.5 366.1L706.9 366.7L708.3 367.2L709.7 367.8L711.1 368.3L712.5 368.9L713.9 369.4L715.3 370.0L716.7 370.5L718.1 371.1L719.5 371.6L720.9 372.1L722.3 372.7L723.7 373.2L725.2 373.7L726.6 374.3L728.0 374.8L729.4 375.3L730.8 375.9L732.2 376.4L733.6 376.9L735.0 377.4L736.4 378.0L737.8 378.5L739.2 379.0L740.7 379.5L742.1 380.0L743.5 380.5L744.9 381.1L746.3 381.6L747.7 382.1L749.1 382.6L750.6 383.1L752.0 383.6L753.4 384.1L754.8 384.6L756.2 385.1L757.7 385.6L759.1 386.1L760.5 386.6L761.9 387.1L763.3 387.6L764.8 388.1L766.2 388.6L767.6 389.1L769.0 389.6L770.4 390.1L771.9 390.6L773.3 391.1L774.7 391.6L776.1 392.1L777.6 392.6L779.0 393.1L780.4 393.6L781.8 394.0L783.3 394.5L784.7 395.0L786.1 395.5L787.5 396.0L789.0 396.5L790.4 396.9L791.8 397.4L793.3 397.9L794.7 398.4L796.1 398.8L797.5 399.3L799.0 399.8L800.4 400.3L801.8 400.7L803.3 401.2L804.7 401.7L806.1 402.1L807.5 402.6L809.0 403.1L810.4 403.5L811.8 404.0L813.3 404.5L814.7 404.9L816.1 405.4L817.6 405.8L819.0 406.3L820.4 406.8L821.8 407.2L823.3 407.7L824.7 408.1L826.1 408.6L827.6 409.0L829.0 409.5L830.4 410.0L831.9 410.4L833.3 410.9L834.7 411.3L836.1 411.8L837.6 412.2L839.0 412.7L840.4 413.1L841.9 413.6L843.3 414.0L844.7 414.4L846.1 414.9L847.6 415.3L849.0 415.8L850.4 416.2L851.8 416.7L853.3 417.1L854.7 417.5L856.1 418.0L857.6 418.4L859.0 418.9L860.4 419.3L861.8 419.8L863.3 420.2L864.7 420.6L866.1 421.1L867.5 421.5L869.0 422.0L870.4 422.4L871.8 422.8L873.2 423.3L874.7 423.7L876.1 424.2L877.5 424.6L878.9 425.1L880.3 425.5L881.8 426.0L883.2 426.4L884.6 426.8L886.0 427.3L887.5 427.7L888.9 428.2L890.3 428.6L891.7 429.1L893.1 429.5L894.6 430.0L896.0 430.5L897.4 430.9L898.8 431.4L900.2 431.8L901.7 432.3L903.1 432.7L904.5 433.2L905.9 433.7L907.3 434.1L908.8 434.6L910.2 435.1L911.6 435.5L913.0 436.0L914.4 436.5L915.9 436.9L917.3 437.4L918.7 437.9L920.1 438.3L921.6 438.8L923.0 439.3L924.4 439.8L925.8 440.2L927.3 440.7L928.7 441.2L930.1 441.6L931.6 442.1L933.0 442.6L934.5 443.1L935.9 443.5L937.3 444.0L938.8 444.5L940.2 444.9L941.7 445.4L943.1 445.9L944.6 446.3L946.1 446.8L947.5 447.3L949.0 447.8L950.4 448.2L951.9 448.7L953.4 449.2L954.8 449.7L956.3 450.1L957.8 450.6L959.2 451.1L960.7 451.6L962.1 452.1L963.6 452.6L965.1 453.1L966.5 453.6L968.0 454.1L969.4 454.6L970.9 455.1L972.3 455.6L973.8 456.1L975.2 456.6L976.7 457.2L978.1 457.7L979.5 458.2L981.0 458.8L982.4 459.3L983.8 459.9L985.2 460.4L986.7 461.0L988.1 461.6L989.5 462.2L990.9 462.8L992.3 463.4L993.7 464.0L995.0 464.6L996.4 465.2L997.8 465.8L999.2 466.5L1000.5 467.1L1001.9 467.8L1003.2 468.4L1004.5 469.1L1005.9 469.8L1007.2 470.5L1008.5 471.2L1009.8 471.9L1011.1 472.6L1012.4 473.4L1013.7 474.1L1014.9 474.9L1016.2 475.7L1017.4 476.4L1018.7 477.2L1019.9 478.0L1021.1 478.9L1022.3 479.7L1023.5 480.5L1024.7 481.4L1025.9 482.3L1027.0 483.1L1028.2 484.0L1029.3 485.0L1030.4 485.9L1031.6 486.8L1032.7 487.8L1033.8 488.7L1034.8 489.7L1035.9 490.7L1036.9 491.7L1038.0 492.8L1039.0 493.8L1040.0 494.9L1041.0 495.9L1042.0 497.0L1043.0 498.1L1043.9 499.2L1044.9 500.4L1045.8 501.5L1046.7 502.6L1047.6 503.8L1048.5 505.0L1049.4 506.2L1050.3 507.4L1051.2 508.6L1052.0 509.8L1052.9 511.0L1053.7 512.2L1054.5 513.5L1055.3 514.7L1056.1 516.0L1056.9 517.3L1057.7 518.6L1058.5 519.9L1059.2 521.2L1060.0 522.5L1060.7 523.8L1061.4 525.1L1062.1 526.4L1062.8 527.8L1063.5 529.1L1064.2 530.5L1064.9 531.8L1065.6 533.2L1066.2 534.6L1066.9 535.9L1067.5 537.3L1068.1 538.7L1068.8 540.1L1069.4 541.5L1070.0 542.9L1070.6 544.3L1071.2 545.7L1071.7 547.1L1072.3 548.5L1072.9 549.9L1073.4 551.3L1074.0 552.7L1074.5 554.1L1075.0 555.5L1075.5 557.0L1076.1 558.4L1076.6 559.8L1077.1 561.2L1077.5 562.7L1078.0 564.1L1078.5 565.5L1079.0 567.0L1079.4 568.4L1079.9 569.9L1080.3 571.3L1080.8 572.7L1081.2 574.2L1081.6 575.6L1082.1 577.1L1082.5 578.5L1082.9 580.0L1083.3 581.4L1083.7 582.9L1084.1 584.4L1084.5 585.8L1084.8 587.3L1085.2 588.7L1085.6 590.2L1085.9 591.7L1086.3 593.1L1086.6 594.6L1087.0 596.1L1087.3 597.5L1087.7 599.0L1088.0 600.5L1088.3 601.9L1088.6 603.4L1088.9 604.9L1089.2 606.4L1089.5 607.9L1089.8 609.3L1090.1 610.8L1090.4 612.3L1090.7 613.8L1091.0 615.3L1091.3 616.7L1091.5 618.2L1091.8 619.7L1092.1 621.2L1092.3 622.7L1092.6 624.2L1092.8 625.7L1093.1 627.2L1093.3 628.6L1093.6 630.1L1093.8 631.6L1094.0 633.1L1094.3 634.6L1094.5 636.1L1094.7 637.6L1095.0 639.1L1095.2 640.6L1095.4 642.1L1095.6 643.6L1095.8 645.1L1096.0 646.6L1096.2 648.1L1096.4 649.6L1096.6 651.0L1096.8 652.5L1097.0 654.0L1097.2 655.5L1097.4 657.0L1097.6 658.5L1097.8 660.0L1098.0 661.5L1098.2 663.0L1098.4 664.5L1098.6 666.0L1098.7 667.5L1098.9 669.0L1099.1 670.5L1099.3 672.0L1099.5 673.5L1099.6 675.0L1099.8 676.5L1100.0 678.0L1100.2 679.5L1100.3 680.9L1100.5 682.4L1100.7 683.9L1100.9 685.4L1101.0 686.9L1101.2 688.4L1101.4 689.9L1101.6 691.4L1101.7 692.9L1101.9 694.4L1102.1 695.8L1102.2 697.3L1102.4 698.8L1102.6 700.3L1102.7 701.8L1102.9 703.3L1103.1 704.8L1103.2 706.3L1103.4 707.7L1103.6 709.2L1103.7 710.7L1103.9 712.2L1104.1 713.7L1104.2 715.2L1104.4 716.7L1104.5 718.1L1104.7 719.6L1104.9 721.1L1105.0 722.6L1105.2 724.1L1105.3 725.6L1105.5 727.1L1105.6 728.6L1105.8 730.0L1105.9 731.5L1106.1 733.0L1106.2 734.5L1106.4 736.0L1106.5 737.5L1106.7 739.0L1106.8 740.5L1107.0 742.0L1107.1 743.4L1107.3 744.9L1107.4 746.4L1107.6 747.9L1107.7 749.4L1107.8 750.9L1108.0 752.4L1108.1 753.9L1108.2 755.4L1108.4 756.9L1108.5 758.4L1108.6 759.9L1108.8 761.4L1108.9 762.9L1109.0 764.4L1109.2 765.9L1109.3 767.4L1109.4 768.9L1109.5 770.4L1109.7 771.9L1109.8 773.4L1109.9 774.9L1110.0 776.4L1110.2 777.9L1110.3 779.4L1110.4 780.9L1110.5 782.4L1110.6 783.9L1110.7 785.4L1110.8 787.0L1110.9 788.5L1111.1 790.0L1111.2 791.5L1111.3 793.0" fill="none" stroke="#f00" stroke-width="5.4" stroke-linejoin="round"/><path d="M480.0 274.2L481.4 274.6L482.8 275.0L484.3 275.4L485.7 275.8L487.2 276.3L488.6 276.7L490.0 277.1L491.5 277.5L492.9 278.0L494.3 278.4L495.7 278.9L497.2 279.3L498.6 279.7L500.0 280.2L501.5 280.6L502.9 281.1L504.3 281.6L505.7 282.0L507.2 282.5L508.6 282.9L510.0 283.4L511.4 283.9L512.9 284.4L514.3 284.8L515.7 285.3L517.1 285.8L518.5 286.3L520.0 286.8L521.4 287.3L522.8 287.7L524.2 288.2L525.6 288.7L527.1 289.2L528.5 289.7L529.9 290.2L531.3 290.7L532.7 291.2L534.1 291.7L535.6 292.2L537.0 292.8L538.4 293.3L539.8 293.8L541.2 294.3L542.6 294.8L544.0 295.3L545.4 295.9L546.8 296.4L548.3 296.9L549.7 297.4L551.1 298.0L552.5 298.5L553.9 299.0L555.3 299.6L556.7 300.1L558.1 300.6L559.5 301.2L560.9 301.7L562.3 302.2L563.7 302.8L565.1 303.3L566.5 303.9L567.9 304.4L569.4 305.0L570.8 305.5L572.2 306.1L573.6 306.6L575.0 307.2L576.4 307.7L577.8 308.3L579.2 308.8L580.6 309.4L582.0 309.9L583.4 310.5L584.8 311.0L586.2 311.6L587.6 312.1L589.0 312.7L590.4 313.3L591.8 313.8L593.2 314.4L594.6 314.9L596.0 315.5L597.4 316.1L598.8 316.6L600.2 317.2L601.6 317.8L603.0 318.3L604.4 318.9L605.8 319.4L607.2 320.0L608.6 320.6L610.0 321.1L611.4 321.7L612.8 322.3L614.2 322.8L615.6 323.4L616.9 324.0L618.3 324.5L619.7 325.1L621.1 325.7L622.5 326.2L623.9 326.8L625.3 327.4L626.7 327.9L628.1 328.5L629.5 329.1L630.9 329.6L632.3 330.2L633.7 330.7L635.1 331.3L636.5 331.9L637.9 332.4L639.3 333.0L640.7 333.6L642.1 334.1L643.5 334.7L644.9 335.2L646.3 335.8L647.7 336.4L649.1 336.9L650.5 337.5L651.9 338.0L653.3 338.6L654.7 339.1L656.1 339.7L657.5 340.2L658.9 340.8L660.3 341.3L661.7 341.9L663.1 342.4L664.5 343.0L665.9 343.5L667.3 344.1L668.7 344.6L670.1 345.2L671.5 345.7L672.9 346.2L674.3 346.8L675.7 347.3L677.1 347.9L678.5 348.4L679.9 348.9L681.3 349.5L682.7 350.0L684.1 350.5L685.5 351.1L686.9 351.6L688.3 352.1L689.7 352.7L691.1 353.2L692.5 353.7L693.9 354.2L695.3 354.8L696.7 355.3L698.1 355.8L699.5 356.3L700.9 356.9L702.3 357.4L703.7 357.9L705.1 358.4L706.5 358.9L707.9 359.5L709.4 360.0L710.8 360.5L712.2 361.0L713.6 361.5L715.0 362.0L716.4 362.6L717.8 363.1L719.2 363.6L720.6 364.1L722.0 364.6L723.4 365.1L724.8 365.6L726.2 366.1L727.6 366.6L729.1 367.1L730.5 367.7L731.9 368.2L733.3 368.7L734.7 369.2L736.1 369.7L737.5 370.2L738.9 370.7L740.3 371.2L741.7 371.7L743.2 372.2L744.6 372.7L746.0 373.2L747.4 373.7L748.8 374.2L750.2 374.7L751.6 375.2L753.0 375.7L754.5 376.2L755.9 376.6L757.3 377.1L758.7 377.6L760.1 378.1L761.5 378.6L762.9 379.1L764.4 379.6L765.8 380.1L767.2 380.6L768.6 381.1L770.0 381.6L771.4 382.0L772.9 382.5L774.3 383.0L775.7 383.5L777.1 384.0L778.5 384.5L779.9 385.0L781.4 385.4L782.8 385.9L784.2 386.4L785.6 386.9L787.0 387.4L788.5 387.9L789.9 388.3L791.3 388.8L792.7 389.3L794.1 389.8L795.6 390.3L797.0 390.7L798.4 391.2L799.8 391.7L801.3 392.2L802.7 392.6L804.1 393.1L805.5 393.6L806.9 394.1L808.4 394.5L809.8 395.0L811.2 395.5L812.6 396.0L814.1 396.4L815.5 396.9L816.9 397.4L818.3 397.9L819.8 398.3L821.2 398.8L822.6 399.3L824.1 399.8L825.5 400.2L826.9 400.7L828.3 401.2L829.8 401.6L831.2 402.1L832.6 402.6L834.1 403.0L835.5 403.5L836.9 404.0L838.4 404.5L839.8 404.9L841.2 405.4L842.6 405.9L844.1 406.3L845.5 406.8L846.9 407.3L848.4 407.7L849.8 408.2L851.2 408.7L852.7 409.1L854.1 409.6L855.6 410.1L857.0 410.5L858.4 411.0L859.9 411.5L861.3 411.9L862.7 412.4L864.2 412.9L865.6 413.3L867.0 413.8L868.5 414.2L869.9 414.7L871.4 415.2L872.8 415.6L874.2 416.1L875.7 416.6L877.1 417.0L878.6 417.5L880.0 418.0L881.4 418.4L882.9 418.9L884.3 419.4L885.8 419.8L887.2 420.3L888.7 420.7L890.1 421.2L891.5 421.7L893.0 422.1L894.4 422.6L895.9 423.1L897.3 423.5L898.8 424.0L900.2 424.5L901.7 424.9L903.1 425.4L904.6 425.8L906.0 426.3L907.5 426.8L908.9 427.2L910.4 427.7L911.8 428.2L913.2 428.6L914.7 429.1L916.1 429.6L917.6 430.1L919.0 430.5L920.5 431.0L921.9 431.5L923.4 432.0L924.8 432.4L926.2 432.9L927.7 433.4L929.1 433.9L930.6 434.4L932.0 434.9L933.4 435.4L934.9 435.9L936.3 436.4L937.7 436.9L939.1 437.4L940.6 437.9L942.0 438.4L943.4 439.0L944.8 439.5L946.2 440.0L947.6 440.5L949.1 441.1L950.5 441.6L951.9 442.2L953.3 442.7L954.7 443.3L956.1 443.8L957.5 444.4L958.9 445.0L960.2 445.5L961.6 446.1L963.0 446.7L964.4 447.3L965.8 447.9L967.1 448.5L968.5 449.1L969.8 449.7L971.2 450.3L972.6 451.0L973.9 451.6L975.3 452.2L976.6 452.9L977.9 453.5L979.3 454.2L980.6 454.9L981.9 455.5L983.2 456.2L984.6 456.9L985.9 457.6L987.2 458.3L988.5 459.0L989.8 459.7L991.0 460.5L992.3 461.2L993.6 462.0L994.9 462.7L996.1 463.5L997.4 464.2L998.7 465.0L999.9 465.8L1001.2 466.6L1002.4 467.4L1003.6 468.2L1004.8 469.1L1006.1 469.9L1007.3 470.8L1008.5 471.6L1009.7 472.5L1010.9 473.4L1012.1 474.2L1013.2 475.1L1014.4 476.1L1015.6 477.0L1016.7 477.9L1017.9 478.8L1019.0 479.8L1020.2 480.8L1021.3 481.7L1022.4 482.7L1023.5 483.7L1024.6 484.7L1025.7 485.7L1026.8 486.7L1027.9 487.8L1028.9 488.8L1030.0 489.9L1031.0 491.0L1032.1 492.0L1033.1 493.1L1034.1 494.2L1035.1 495.3L1036.1 496.4L1037.1 497.6L1038.0 498.7L1039.0 499.9L1039.9 501.0L1040.8 502.2L1041.7 503.4L1042.6 504.6L1043.5 505.8L1044.4 507.0L1045.3 508.2L1046.1 509.4L1046.9 510.7L1047.7 511.9L1048.5 513.2L1049.3 514.4L1050.1 515.7L1050.8 517.0L1051.6 518.3L1052.3 519.6L1053.0 520.9L1053.7 522.3L1054.3 523.6L1055.0 525.0L1055.6 526.3L1056.2 527.7L1056.8 529.0L1057.4 530.4L1058.0 531.8L1058.6 533.2L1059.2 534.6L1059.7 536.0L1060.2 537.4L1060.8 538.8L1061.3 540.2L1061.8 541.6L1062.3 543.1L1062.8 544.5L1063.3 545.9L1063.8 547.3L1064.3 548.8L1064.7 550.2L1065.2 551.6L1065.7 553.1L1066.1 554.5L1066.6 556.0L1067.0 557.4L1067.5 558.9L1067.9 560.3L1068.4 561.8L1068.8 563.2L1069.2 564.6L1069.7 566.1L1070.1 567.6L1070.5 569.0L1070.9 570.5L1071.3 571.9L1071.7 573.4L1072.1 574.8L1072.5 576.3L1072.9 577.8L1073.3 579.2L1073.7 580.7L1074.1 582.1L1074.5 583.6L1074.8 585.1L1075.2 586.5L1075.6 588.0L1075.9 589.5L1076.3 590.9L1076.7 592.4L1077.0 593.9L1077.4 595.3L1077.7 596.8L1078.0 598.3L1078.4 599.7L1078.7 601.2L1079.1 602.7L1079.4 604.2L1079.7 605.6L1080.0 607.1L1080.4 608.6L1080.7 610.0L1081.0 611.5L1081.3 613.0L1081.6 614.5L1081.9 615.9L1082.2 617.4L1082.5 618.9L1082.8 620.3L1083.1 621.8L1083.4 623.3L1083.7 624.8L1084.0 626.2L1084.3 627.7L1084.6 629.2L1084.9 630.6L1085.1 632.1L1085.4 633.6L1085.7 635.1L1086.0 636.5L1086.2 638.0L1086.5 639.5L1086.8 640.9L1087.0 642.4L1087.3 643.9L1087.6 645.4L1087.8 646.8L1088.1 648.3L1088.3 649.8L1088.6 651.3L1088.8 652.7L1089.1 654.2L1089.3 655.7L1089.6 657.2L1089.8 658.6L1090.0 660.1L1090.3 661.6L1090.5 663.1L1090.7 664.5L1091.0 666.0L1091.2 667.5L1091.4 669.0L1091.7 670.5L1091.9 671.9L1092.1 673.4L1092.4 674.9L1092.6 676.4L1092.8 677.9L1093.0 679.3L1093.2 680.8L1093.5 682.3L1093.7 683.8L1093.9 685.3L1094.1 686.8L1094.3 688.3L1094.5 689.7L1094.7 691.2L1094.9 692.7L1095.2 694.2L1095.4 695.7L1095.6 697.2L1095.8 698.7L1096.0 700.2L1096.2 701.7L1096.4 703.2L1096.6 704.7L1096.8 706.1L1097.0 707.6L1097.2 709.1L1097.3 710.6L1097.5 712.1L1097.7 713.6L1097.9 715.1L1098.1 716.6L1098.3 718.1L1098.5 719.6L1098.7 721.1L1098.8 722.6L1099.0 724.1L1099.2 725.6L1099.4 727.1L1099.5 728.6L1099.7 730.1L1099.9 731.6L1100.1 733.1L1100.2 734.6L1100.4 736.1L1100.6 737.6L1100.7 739.1L1100.9 740.6L1101.1 742.1L1101.2 743.6L1101.4 745.1L1101.5 746.6L1101.7 748.1L1101.8 749.6L1102.0 751.1L1102.1 752.6L1102.3 754.1L1102.4 755.6L1102.6 757.1L1102.7 758.6L1102.9 760.1L1103.0 761.6L1103.2 763.1L1103.3 764.6L1103.4 766.1L1103.6 767.6L1103.7 769.1L1103.8 770.6L1104.0 772.1L1104.1 773.6L1104.2 775.1L1104.3 776.6L1104.5 778.1L1104.6 779.6L1104.7 781.0L1104.8 782.5L1104.9 784.0L1105.0 785.5L1105.2 787.0L1105.3 788.5L1105.4 790.0L1105.5 791.5L1105.6 793.0" fill="none" stroke="#00f" stroke-width="6.4" stroke-linejoin="round"/><path d="M480.1 277.0L481.5 277.5L482.9 278.0L484.3 278.5L485.8 279.1L487.2 279.6L488.6 280.1L490.0 280.6L491.4 281.1L492.8 281.7L494.2 282.2L495.6 282.7L497.0 283.2L498.5 283.8L499.9 284.3L501.3 284.8L502.7 285.4L504.1 285.9L505.5 286.4L506.9 287.0L508.3 287.5L509.7 288.1L511.1 288.6L512.5 289.2L513.9 289.7L515.3 290.3L516.7 290.8L518.1 291.4L519.5 291.9L520.9 292.5L522.3 293.1L523.7 293.6L525.0 294.2L526.4 294.7L527.8 295.3L529.2 295.9L530.6 296.4L532.0 297.0L533.4 297.6L534.8 298.2L536.2 298.7L537.6 299.3L539.0 299.9L540.3 300.5L541.7 301.0L543.1 301.6L544.5 302.2L545.9 302.8L547.3 303.4L548.7 304.0L550.0 304.5L551.4 305.1L552.8 305.7L554.2 306.3L555.6 306.9L557.0 307.5L558.3 308.1L559.7 308.7L561.1 309.2L562.5 309.8L563.9 310.4L565.3 311.0L566.6 311.6L568.0 312.2L569.4 312.8L570.8 313.4L572.2 314.0L573.5 314.6L574.9 315.2L576.3 315.8L577.7 316.4L579.0 317.0L580.4 317.6L581.8 318.2L583.2 318.8L584.6 319.4L585.9 320.0L587.3 320.6L588.7 321.2L590.1 321.8L591.4 322.4L592.8 323.0L594.2 323.6L595.6 324.2L596.9 324.8L598.3 325.4L599.7 326.0L601.1 326.6L602.5 327.2L603.8 327.9L605.2 328.5L606.6 329.1L608.0 329.7L609.3 330.3L610.7 330.9L612.1 331.5L613.5 332.1L614.8 332.7L616.2 333.3L617.6 333.9L619.0 334.5L620.3 335.1L621.7 335.7L623.1 336.3L624.5 336.9L625.9 337.5L627.2 338.1L628.6 338.7L630.0 339.3L631.4 339.9L632.7 340.5L634.1 341.1L635.5 341.7L636.9 342.3L638.3 342.9L639.6 343.5L641.0 344.0L642.4 344.6L643.8 345.2L645.2 345.8L646.5 346.4L647.9 347.0L649.3 347.6L650.7 348.2L652.1 348.8L653.4 349.4L654.8 349.9L656.2 350.5L657.6 351.1L659.0 351.7L660.4 352.3L661.7 352.8L663.1 353.4L664.5 354.0L665.9 354.6L667.3 355.2L668.7 355.7L670.1 356.3L671.4 356.9L672.8 357.4L674.2 358.0L675.6 358.6L677.0 359.1L678.4 359.7L679.8 360.3L681.2 360.8L682.6 361.4L684.0 362.0L685.3 362.5L686.7 363.1L688.1 363.6L689.5 364.2L690.9 364.8L692.3 365.3L693.7 365.9L695.1 366.4L696.5 367.0L697.9 367.5L699.3 368.1L700.7 368.6L702.1 369.2L703.5 369.7L704.9 370.3L706.3 370.8L707.7 371.3L709.1 371.9L710.5 372.4L711.9 373.0L713.3 373.5L714.7 374.0L716.1 374.6L717.5 375.1L718.9 375.6L720.3 376.2L721.7 376.7L723.1 377.2L724.5 377.8L725.9 378.3L727.3 378.8L728.7 379.3L730.1 379.9L731.5 380.4L732.9 380.9L734.3 381.4L735.7 381.9L737.1 382.5L738.5 383.0L740.0 383.5L741.4 384.0L742.8 384.5L744.2 385.0L745.6 385.5L747.0 386.1L748.4 386.6L749.8 387.1L751.2 387.6L752.6 388.1L754.1 388.6L755.5 389.1L756.9 389.6L758.3 390.1L759.7 390.6L761.1 391.1L762.6 391.6L764.0 392.1L765.4 392.6L766.8 393.1L768.2 393.6L769.6 394.1L771.1 394.6L772.5 395.0L773.9 395.5L775.3 396.0L776.7 396.5L778.2 397.0L779.6 397.5L781.0 398.0L782.4 398.4L783.8 398.9L785.3 399.4L786.7 399.9L788.1 400.3L789.5 400.8L791.0 401.3L792.4 401.8L793.8 402.2L795.2 402.7L796.7 403.2L798.1 403.6L799.5 404.1L801.0 404.6L802.4 405.0L803.8 405.5L805.3 406.0L806.7 406.4L808.1 406.9L809.5 407.4L811.0 407.8L812.4 408.3L813.8 408.7L815.3 409.2L816.7 409.6L818.1 410.1L819.6 410.6L821.0 411.0L822.4 411.5L823.9 411.9L825.3 412.4L826.7 412.8L828.2 413.3L829.6 413.7L831.0 414.2L832.5 414.6L833.9 415.1L835.4 415.5L836.8 416.0L838.2 416.4L839.7 416.9L841.1 417.3L842.5 417.7L844.0 418.2L845.4 418.6L846.8 419.1L848.3 419.5L849.7 420.0L851.2 420.4L852.6 420.9L854.0 421.3L855.5 421.8L856.9 422.2L858.4 422.6L859.8 423.1L861.2 423.5L862.7 424.0L864.1 424.4L865.5 424.9L867.0 425.3L868.4 425.7L869.9 426.2L871.3 426.6L872.7 427.1L874.2 427.5L875.6 428.0L877.0 428.4L878.5 428.9L879.9 429.3L881.4 429.8L882.8 430.2L884.2 430.6L885.7 431.1L887.1 431.5L888.5 432.0L890.0 432.4L891.4 432.9L892.9 433.3L894.3 433.8L895.7 434.2L897.2 434.7L898.6 435.1L900.0 435.6L901.5 436.0L902.9 436.5L904.3 436.9L905.8 437.4L907.2 437.8L908.7 438.3L910.1 438.8L911.5 439.2L912.9 439.7L914.4 440.1L915.8 440.6L917.2 441.1L918.7 441.5L920.1 442.0L921.5 442.5L923.0 442.9L924.4 443.4L925.8 443.9L927.2 444.4L928.7 444.9L930.1 445.3L931.5 445.8L932.9 446.3L934.3 446.8L935.8 447.3L937.2 447.8L938.6 448.3L940.0 448.8L941.4 449.3L942.8 449.8L944.2 450.3L945.6 450.8L947.1 451.4L948.5 451.9L949.9 452.4L951.3 452.9L952.7 453.5L954.1 454.0L955.5 454.6L956.9 455.1L958.3 455.7L959.6 456.2L961.0 456.8L962.4 457.3L963.8 457.9L965.2 458.5L966.6 459.1L967.9 459.6L969.3 460.2L970.7 460.8L972.1 461.4L973.4 462.0L974.8 462.6L976.2 463.2L977.5 463.9L978.9 464.5L980.2 465.1L981.6 465.8L983.0 466.4L984.3 467.1L985.7 467.7L987.0 468.4L988.3 469.0L989.7 469.7L991.0 470.4L992.3 471.1L993.7 471.8L995.0 472.5L996.3 473.2L997.6 473.9L999.0 474.6L1000.3 475.3L1001.6 476.1L1002.9 476.8L1004.2 477.6L1005.5 478.3L1006.8 479.1L1008.1 479.9L1009.4 480.6L1010.7 481.4L1011.9 482.2L1013.2 483.0L1014.5 483.8L1015.8 484.6L1017.0 485.5L1018.3 486.3L1019.6 487.2L1020.8 488.0L1022.1 488.9L1023.3 489.8L1024.5 490.7L1025.7 491.6L1026.9 492.5L1028.0 493.4L1029.2 494.4L1030.3 495.4L1031.4 496.4L1032.5 497.4L1033.5 498.4L1034.5 499.5L1035.5 500.6L1036.5 501.7L1037.4 502.8L1038.3 503.9L1039.1 505.1L1039.9 506.3L1040.7 507.6L1041.4 508.8L1042.1 510.1L1042.8 511.4L1043.5 512.7L1044.1 514.0L1044.7 515.4L1045.3 516.7L1045.9 518.1L1046.5 519.5L1047.1 520.8L1047.7 522.2L1048.2 523.6L1048.8 525.0L1049.4 526.4L1049.9 527.8L1050.5 529.2L1051.0 530.6L1051.6 532.0L1052.1 533.4L1052.7 534.8L1053.2 536.2L1053.7 537.6L1054.2 539.1L1054.8 540.5L1055.3 541.9L1055.8 543.3L1056.3 544.8L1056.8 546.2L1057.3 547.6L1057.8 549.0L1058.3 550.5L1058.7 551.9L1059.2 553.4L1059.7 554.8L1060.2 556.2L1060.6 557.7L1061.1 559.1L1061.5 560.5L1062.0 562.0L1062.4 563.4L1062.9 564.9L1063.3 566.3L1063.7 567.8L1064.2 569.2L1064.6 570.6L1065.0 572.1L1065.4 573.5L1065.9 575.0L1066.3 576.4L1066.7 577.9L1067.1 579.3L1067.5 580.8L1067.9 582.2L1068.3 583.7L1068.6 585.1L1069.0 586.6L1069.4 588.0L1069.8 589.5L1070.1 591.0L1070.5 592.4L1070.9 593.9L1071.2 595.3L1071.6 596.8L1071.9 598.3L1072.3 599.7L1072.6 601.2L1073.0 602.6L1073.3 604.1L1073.7 605.6L1074.0 607.0L1074.3 608.5L1074.6 610.0L1075.0 611.4L1075.3 612.9L1075.6 614.4L1075.9 615.8L1076.2 617.3L1076.5 618.8L1076.8 620.2L1077.1 621.7L1077.4 623.2L1077.7 624.6L1078.0 626.1L1078.3 627.6L1078.6 629.1L1078.9 630.5L1079.2 632.0L1079.4 633.5L1079.7 635.0L1080.0 636.4L1080.3 637.9L1080.5 639.4L1080.8 640.9L1081.1 642.3L1081.3 643.8L1081.6 645.3L1081.8 646.8L1082.1 648.2L1082.3 649.7L1082.6 651.2L1082.8 652.7L1083.1 654.2L1083.3 655.7L1083.5 657.1L1083.8 658.6L1084.0 660.1L1084.2 661.6L1084.5 663.1L1084.7 664.6L1084.9 666.0L1085.1 667.5L1085.4 669.0L1085.6 670.5L1085.8 672.0L1086.0 673.5L1086.2 675.0L1086.4 676.4L1086.6 677.9L1086.8 679.4L1087.0 680.9L1087.3 682.4L1087.5 683.9L1087.7 685.4L1087.9 686.9L1088.1 688.4L1088.2 689.8L1088.4 691.3L1088.6 692.8L1088.8 694.3L1089.0 695.8L1089.2 697.3L1089.4 698.8L1089.6 700.3L1089.8 701.8L1089.9 703.3L1090.1 704.8L1090.3 706.3L1090.5 707.7L1090.7 709.2L1090.8 710.7L1091.0 712.2L1091.2 713.7L1091.4 715.2L1091.5 716.7L1091.7 718.2L1091.9 719.7L1092.0 721.2L1092.2 722.7L1092.4 724.2L1092.5 725.7L1092.7 727.2L1092.9 728.7L1093.0 730.2L1093.2 731.7L1093.4 733.2L1093.5 734.7L1093.7 736.2L1093.9 737.7L1094.0 739.1L1094.2 740.6L1094.3 742.1L1094.5 743.6L1094.7 745.1L1094.8 746.6L1095.0 748.1L1095.1 749.6L1095.3 751.1L1095.4 752.6L1095.6 754.1L1095.8 755.6L1095.9 757.1L1096.1 758.6L1096.2 760.1L1096.4 761.6L1096.5 763.1L1096.7 764.6L1096.9 766.1L1097.0 767.6L1097.2 769.1L1097.3 770.6L1097.5 772.1L1097.6 773.6L1097.8 775.1L1098.0 776.6L1098.1 778.1L1098.3 779.6L1098.4 781.1L1098.6 782.6L1098.7 784.1L1098.9 785.6L1099.1 787.0L1099.2 788.5L1099.4 790.0L1099.5 791.5L1099.7 793.0" fill="none" stroke="#00f" stroke-width="6.4" stroke-linejoin="round"/><g clip-path="url(#pcC)"><path d="M192.5 58.2L193.6 59.4L194.6 60.5L195.7 61.6L196.7 62.8L197.8 63.9L198.8 65.1L199.8 66.3L200.8 67.5L201.8 68.6L202.7 69.8L203.7 71.0L204.7 72.2L205.6 73.4L206.6 74.6L207.5 75.8L208.4 77.1L209.4 78.3L210.3 79.5L211.2 80.7L212.1 81.9L213.0 83.1L213.9 84.3L214.8 85.5L215.8 86.7L216.7 87.9L217.6 89.1L218.5 90.3L219.4 91.4L220.3 92.6L221.2 93.8L222.2 95.0L223.1 96.1L224.0 97.3L225.0 98.4L225.9 99.6L226.9 100.8L227.8 101.9L228.7 103.1L229.7 104.2L230.6 105.3L231.6 106.5L232.6 107.6L233.5 108.8L234.5 109.9L235.4 111.0L236.4 112.1L237.4 113.3L238.4 114.4L239.3 115.5L240.3 116.6L241.3 117.7L242.3 118.9L243.3 120.0L244.2 121.1L245.2 122.2L246.2 123.3L247.2 124.4L248.2 125.5L249.2 126.5L250.3 127.6L251.3 128.7L252.3 129.8L253.3 130.9L254.3 131.9L255.4 133.0L256.4 134.1L257.4 135.1L258.5 136.2L259.5 137.2L260.6 138.3L261.6 139.3L262.7 140.3L263.7 141.4L264.8 142.4L265.9 143.4L267.0 144.4L268.0 145.4L269.1 146.4L270.2 147.4L271.3 148.4L272.4 149.4L273.5 150.4L274.6 151.4L275.8 152.3L276.9 153.3L278.0 154.3L279.1 155.2L280.2 156.2L281.4 157.1L282.5 158.1L283.6 159.0L284.8 160.0L285.9 160.9L287.1 161.9L288.2 162.8L289.4 163.7L290.5 164.7L291.7 165.6L292.9 166.5L294.0 167.4L295.2 168.3L296.4 169.2L297.6 170.1L298.7 171.0L299.9 171.9L301.1 172.8L302.3 173.7L303.5 174.6L304.7 175.5L306.0 176.3L307.2 177.2L308.4 178.1L309.6 178.9L310.8 179.8L312.1 180.7L313.3 181.5L314.5 182.4L315.8 183.2L317.0 184.1L318.2 184.9L319.5 185.7L320.7 186.6L322.0 187.4L323.3 188.2L324.5 189.1L325.8 189.9L327.0 190.7L328.3 191.6L329.6 192.4L330.8 193.2L332.1 194.0L333.3 194.9L334.6 195.7L335.9 196.5L337.1 197.3L338.4 198.2L339.7 199.0L340.9 199.8L342.2 200.6L343.5 201.5L344.7 202.3L346.0 203.1L347.2 204.0L348.5 204.8L349.8 205.6L351.0 206.5L352.3 207.3L353.5 208.2L354.8 209.0L356.0 209.8L357.3 210.7L358.5 211.5L359.8 212.3L361.0 213.2L362.2 214.0L363.5 214.8L364.7 215.6L366.0 216.4L367.2 217.2L368.5 218.0L369.7 218.7L371.0 219.5L372.2 220.3L373.5 221.0L374.8 221.8L376.0 222.5L377.3 223.3L378.6 224.0L379.9 224.7L381.2 225.4L382.5 226.1L383.8 226.8L385.1 227.5L386.4 228.2L387.7 228.9L389.0 229.6L390.4 230.3L391.7 231.0L393.0 231.7L394.3 232.3L395.7 233.0L397.0 233.6L398.4 234.3L399.7 235.0L401.0 235.6L402.4 236.3L403.7 236.9L405.1 237.5L406.5 238.2L407.8 238.8L409.2 239.4L410.5 240.1L411.9 240.7L413.3 241.3L414.6 242.0L416.0 242.6L417.4 243.2L418.7 243.8L420.1 244.4L421.5 245.1L422.9 245.7L424.2 246.3L425.6 246.9L427.0 247.5L428.4 248.1L429.7 248.7L431.1 249.3L432.5 249.9L433.9 250.5L435.3 251.1L436.6 251.7L438.0 252.3L439.4 252.9L440.8 253.5L442.2 254.1L443.6 254.7L445.0 255.3L446.4 255.9L447.7 256.4L449.1 257.0L450.5 257.6L451.9 258.2L453.3 258.7L454.7 259.3L456.1 259.9L457.5 260.5L458.9 261.0L460.3 261.6L461.7 262.2L463.1 262.7L464.5 263.3L465.8 263.9L467.2 264.4L468.6 265.0L470.0 265.5L471.4 266.1L472.8 266.6L474.2 267.2L475.6 267.7L477.0 268.3L478.4 268.8L479.8 269.3L481.2 269.9L482.7 270.4L484.1 270.9L485.5 271.4L486.9 271.9L488.3 272.4L489.7 272.9L491.1 273.4L492.5 273.9L493.9 274.4L495.3 274.9L496.8 275.5L498.2 276.0L499.6 276.5L501.0 277.0L502.4 277.5L503.8 278.0L505.2 278.5L506.6 279.0L503.2 288.4L501.8 287.9L500.4 287.3L499.0 286.8L497.6 286.3L496.2 285.8L494.7 285.2L493.3 284.7L491.9 284.1L490.5 283.6L489.1 283.0L487.7 282.5L486.3 281.9L484.9 281.4L483.5 280.8L482.1 280.3L480.7 279.7L479.3 279.1L477.9 278.6L476.5 278.0L475.1 277.4L473.7 276.9L472.3 276.3L470.9 275.8L469.4 275.2L468.0 274.6L466.6 274.1L465.2 273.5L463.8 272.9L462.4 272.4L461.0 271.8L459.6 271.2L458.2 270.7L456.8 270.1L455.4 269.5L454.0 268.9L452.6 268.3L451.2 267.8L449.8 267.2L448.4 266.6L447.0 266.0L445.6 265.4L444.2 264.8L442.8 264.2L441.4 263.6L440.0 263.0L438.6 262.4L437.2 261.8L435.8 261.2L434.4 260.6L433.1 260.0L431.7 259.4L430.3 258.8L428.9 258.1L427.5 257.5L426.1 256.9L424.7 256.3L423.4 255.7L422.0 255.0L420.6 254.4L419.2 253.8L417.8 253.2L416.4 252.5L415.1 251.9L413.7 251.3L412.3 250.6L410.9 250.0L409.6 249.4L408.2 248.7L406.8 248.1L405.4 247.4L404.1 246.8L402.7 246.1L401.3 245.5L400.0 244.8L398.6 244.2L397.2 243.5L395.9 242.9L394.5 242.2L393.1 241.6L391.8 240.9L390.4 240.2L389.0 239.5L387.7 238.9L386.3 238.2L385.0 237.5L383.6 236.8L382.3 236.1L380.9 235.4L379.6 234.7L378.3 234.0L376.9 233.2L375.6 232.5L374.2 231.8L372.9 231.0L371.6 230.3L370.3 229.5L369.0 228.8L367.6 228.0L366.3 227.2L365.0 226.5L363.7 225.7L362.4 224.9L361.1 224.1L359.8 223.2L358.5 222.4L357.3 221.6L356.0 220.8L354.7 220.0L353.5 219.1L352.2 218.3L351.0 217.5L349.7 216.6L348.4 215.8L347.2 215.0L345.9 214.2L344.7 213.4L343.4 212.5L342.2 211.7L340.9 210.9L339.6 210.1L338.4 209.3L337.1 208.4L335.9 207.6L334.6 206.8L333.3 206.0L332.0 205.2L330.8 204.4L329.5 203.5L328.2 202.7L327.0 201.9L325.7 201.1L324.4 200.2L323.2 199.4L321.9 198.6L320.6 197.8L319.3 196.9L318.1 196.1L316.8 195.3L315.5 194.4L314.3 193.6L313.0 192.7L311.7 191.9L310.5 191.1L309.2 190.2L307.9 189.4L306.7 188.5L305.4 187.7L304.2 186.8L302.9 186.0L301.6 185.1L300.4 184.3L299.1 183.4L297.9 182.5L296.6 181.7L295.4 180.8L294.1 179.9L292.9 179.0L291.6 178.1L290.4 177.3L289.2 176.4L287.9 175.5L286.7 174.5L285.5 173.6L284.3 172.7L283.1 171.8L281.9 170.9L280.7 169.9L279.5 169.0L278.3 168.0L277.1 167.1L275.9 166.1L274.7 165.2L273.5 164.2L272.4 163.2L271.2 162.2L270.0 161.3L268.9 160.3L267.7 159.3L266.6 158.3L265.5 157.3L264.3 156.3L263.2 155.2L262.1 154.2L260.9 153.2L259.8 152.2L258.7 151.2L257.6 150.1L256.4 149.1L255.3 148.1L254.2 147.0L253.1 146.0L252.0 145.0L250.9 143.9L249.8 142.9L248.7 141.8L247.6 140.7L246.5 139.7L245.4 138.6L244.4 137.5L243.3 136.5L242.2 135.4L241.1 134.3L240.1 133.2L239.0 132.1L237.9 131.1L236.9 130.0L235.8 128.9L234.8 127.8L233.7 126.7L232.7 125.5L231.7 124.4L230.6 123.3L229.6 122.2L228.6 121.1L227.6 119.9L226.5 118.8L225.5 117.6L224.5 116.5L223.5 115.4L222.5 114.2L221.5 113.0L220.5 111.9L219.6 110.7L218.6 109.6L217.6 108.4L216.6 107.2L215.7 106.0L214.7 104.8L213.7 103.7L212.8 102.5L211.8 101.3L210.9 100.1L209.9 98.9L209.0 97.7L208.0 96.5L207.1 95.3L206.1 94.1L205.2 92.9L204.3 91.7L203.3 90.6L202.4 89.4L201.5 88.2L200.6 87.0L199.6 85.8L198.7 84.7L197.8 83.5L196.8 82.3L195.9 81.2L195.0 80.0L194.0 78.9L193.1 77.8L192.2 76.6L191.2 75.5L190.3 74.4L189.3 73.3L188.4 72.2L187.4 71.1L186.4 70.0L185.5 69.0L184.5 67.9L183.4 66.8Z" fill="#00f"/></g><path d="M1001.1 95.2L1002.0 94.8L1002.9 94.5L1003.9 94.1L1004.8 93.7L1005.8 93.4L1006.7 93.0L1007.6 92.6L1008.6 92.2L1009.5 91.9L1010.5 91.5L1011.4 91.1L1012.3 90.7L1013.3 90.4L1014.2 90.0L1015.2 89.6L1016.1 89.2L1017.0 88.9L1018.0 88.5L1018.9 88.1L1019.9 87.7L1020.8 87.4L1021.7 87.0L1022.7 86.6L1023.6 86.2L1024.6 85.8L1025.5 85.5L1026.4 85.1L1027.4 84.7L1028.3 84.3L1029.3 84.0L1030.2 83.6L1031.1 83.2L1032.1 82.8L1033.0 82.4L1034.0 82.1L1034.9 81.7L1035.8 81.3L1036.8 80.9L1037.7 80.5L1038.6 80.2L1039.6 79.8L1040.5 79.4L1041.5 79.0L1042.4 78.6L1043.3 78.3L1044.3 77.9L1045.2 77.5L1046.1 77.1L1047.1 76.7L1048.0 76.4L1049.0 76.0L1049.9 75.6L1050.8 75.2L1051.8 74.8L1052.7 74.5L1053.7 74.1L1054.6 73.7L1055.5 73.3L1056.5 72.9L1057.4 72.6L1058.3 72.2L1059.3 71.8L1060.2 71.4L1061.2 71.0L1062.1 70.7L1063.0 70.3L1064.0 69.9L1064.9 69.5L1065.8 69.1L1066.8 68.8L1067.7 68.4L1068.7 68.0L1069.6 67.6L1070.5 67.2L1071.5 66.9L1072.4 66.5L1073.4 66.1L1074.3 65.7L1075.2 65.4L1076.2 65.0L1077.1 64.6L1078.1 64.2L1079.0 63.8L1079.9 63.5L1080.9 63.1L1081.8 62.7L1082.7 62.3L1083.7 62.0L1084.6 61.6L1085.6 61.2L1086.5 60.8L1087.4 60.5L1088.4 60.1L1089.3 59.7L1090.3 59.3L1091.2 59.0L1092.1 58.6L1093.1 58.2L1094.0 57.8L1095.0 57.5L1095.9 57.1L1096.9 56.7L1097.8 56.4L1098.7 56.0L1099.7 55.6L1100.6 55.2L1101.6 54.9L1102.5 54.5L1103.4 54.1L1104.4 53.8L1105.3 53.4L1106.3 53.0L1107.2 52.7L1108.2 52.3L1109.1 51.9L1110.0 51.6L1111.0 51.2L1111.9 50.8L1116.0 49.8L1122.5 49.6" fill="none" stroke="#000" stroke-width="5.0" stroke-linejoin="round"/><path d="M985.5 104.7L986.4 104.4L987.3 104.0L988.3 103.6L989.2 103.2L990.1 102.9L991.1 102.5L992.0 102.1L992.9 101.7L993.9 101.3L994.8 101.0L995.8 100.6L996.7 100.2L997.6 99.8L998.6 99.5L999.5 99.1L1000.4 98.7L1001.4 98.3L1002.3 98.0L1003.2 97.6L1004.2 97.2L1005.1 96.8L1006.0 96.5L1007.0 96.1L1007.9 95.7L1008.8 95.3L1009.8 94.9L1010.7 94.6L1011.6 94.2L1012.6 93.8L1013.5 93.4L1014.4 93.1L1015.4 92.7L1016.3 92.3L1017.2 91.9L1018.2 91.5L1019.1 91.2L1020.0 90.8L1021.0 90.4L1021.9 90.0L1022.8 89.7L1023.8 89.3L1024.7 88.9L1025.6 88.5L1026.6 88.1L1027.5 87.8L1028.4 87.4L1029.4 87.0L1030.3 86.6L1031.2 86.3L1032.2 85.9L1033.1 85.5L1034.0 85.1L1035.0 84.7L1035.9 84.4L1036.8 84.0L1037.8 83.6L1038.7 83.2L1039.6 82.9L1040.6 82.5L1041.5 82.1L1042.4 81.7L1043.4 81.3L1044.3 81.0L1045.2 80.6L1046.2 80.2L1047.1 79.8L1048.0 79.5L1049.0 79.1L1049.9 78.7L1050.9 78.3L1051.8 77.9L1052.7 77.6L1053.7 77.2L1054.6 76.8L1055.5 76.4L1056.5 76.1L1057.4 75.7L1058.3 75.3L1059.3 74.9L1060.2 74.6L1061.1 74.2L1062.1 73.8L1063.0 73.4L1063.9 73.0L1064.9 72.7L1065.8 72.3L1066.7 71.9L1067.7 71.5L1068.6 71.2L1069.5 70.8L1070.5 70.4L1071.4 70.0L1072.3 69.7L1073.3 69.3L1074.2 68.9L1075.1 68.5L1076.1 68.2L1077.0 67.8L1077.9 67.4L1078.9 67.0L1079.8 66.6L1080.7 66.3L1081.7 65.9L1082.6 65.5L1083.5 65.1L1084.5 64.8L1085.4 64.4L1086.4 64.0L1087.3 63.6L1088.2 63.3L1089.2 62.9L1090.1 62.5L1091.0 62.1L1092.0 61.8L1092.9 61.4L1093.8 61.0L1094.8 60.7L1095.7 60.3L1096.6 59.9L1097.6 59.5L1098.5 59.2L1099.4 58.8L1100.4 58.4L1101.3 58.0L1102.3 57.7L1103.2 57.3L1104.1 56.9L1105.1 56.5L1106.0 56.2L1106.9 55.8L1107.9 55.4L1108.8 55.1L1109.7 54.7L1110.7 54.3L1111.6 53.9L1112.5 53.6L1113.5 53.2L1114.4 52.8L1115.4 52.5L1116.3 52.1L1117.2 51.7L1118.2 51.3L1119.1 51.0L1120.0 50.6L1121.0 50.2L1124.0 49.7L1133.3 49.7" fill="none" stroke="#f00" stroke-width="6.0" stroke-linejoin="round"/><path d="M985.9 97.9L986.9 97.6L987.8 97.2L988.8 96.8L989.7 96.5L990.7 96.1L991.6 95.7L992.5 95.4L993.5 95.0L994.4 94.6L995.4 94.3L996.3 93.9L997.2 93.5L998.2 93.2L999.1 92.8L1000.1 92.4L1001.0 92.0L1001.9 91.7L1002.9 91.3L1003.8 90.9L1004.8 90.5L1005.7 90.2L1006.6 89.8L1007.6 89.4L1008.5 89.0L1009.5 88.7L1010.4 88.3L1011.3 87.9L1012.3 87.5L1013.2 87.1L1014.1 86.8L1015.1 86.4L1016.0 86.0L1017.0 85.6L1017.9 85.2L1018.8 84.9L1019.8 84.5L1020.7 84.1L1021.6 83.7L1022.6 83.3L1023.5 82.9L1024.5 82.6L1025.4 82.2L1026.3 81.8L1027.3 81.4L1028.2 81.0L1029.1 80.6L1030.1 80.3L1031.0 79.9L1031.9 79.5L1032.9 79.1L1033.8 78.7L1034.8 78.3L1035.7 78.0L1036.6 77.6L1037.6 77.2L1038.5 76.8L1039.4 76.4L1040.4 76.0L1041.3 75.7L1042.3 75.3L1043.2 74.9L1044.1 74.5L1045.1 74.1L1046.0 73.7L1046.9 73.4L1047.9 73.0L1048.8 72.6L1049.8 72.2L1050.7 71.8L1051.6 71.5L1052.6 71.1L1053.5 70.7L1054.4 70.3L1055.4 69.9L1056.3 69.6L1057.3 69.2L1058.2 68.8L1059.1 68.4L1060.1 68.1L1061.0 67.7L1062.0 67.3L1062.9 66.9L1063.8 66.6L1064.8 66.2L1065.7 65.8L1066.7 65.4L1067.6 65.1L1068.5 64.7L1069.5 64.3L1070.4 64.0L1071.4 63.6L1072.3 63.2L1073.2 62.9L1074.2 62.5L1075.1 62.1L1076.1 61.8L1077.0 61.4L1078.0 61.0L1078.9 60.7L1079.8 60.3L1080.8 60.0L1081.7 59.6L1082.7 59.2L1083.6 58.9L1084.6 58.5L1085.5 58.2L1086.5 57.8L1087.4 57.5L1088.4 57.1L1089.3 56.8L1090.2 56.4L1091.2 56.1L1092.1 55.7L1093.1 55.4L1094.0 55.0L1095.0 54.7L1095.9 54.3L1096.9 54.0L1097.8 53.7L1098.8 53.3L1099.7 53.0L1100.7 52.6L1101.6 52.3L1102.6 52.0L1103.5 51.6L1104.5 51.3L1105.5 51.0L1106.4 50.7L1110.0 49.8L1120.0 49.6" fill="none" stroke="#00f" stroke-width="5.8" stroke-linejoin="round"/><path d="M192.5 689.6L192.6 688.2L192.7 686.7L192.8 685.2L192.9 683.7L192.9 682.2L193.0 680.8L193.1 679.3L193.1 677.8L193.2 676.3L193.3 674.9L193.3 673.4L193.4 671.9L193.4 670.4L193.5 668.9L193.5 667.5L193.6 666.0L193.6 664.5L193.7 663.0L193.7 661.5L193.7 660.0L193.8 658.5L193.8 657.1L193.9 655.6L193.9 654.1L193.9 652.6L193.9 651.1L194.0 649.6L194.0 648.1L194.0 646.6L194.0 645.1L194.1 643.6L194.1 642.2L194.1 640.7L194.1 639.2L194.1 637.7L194.1 636.2L194.2 634.7L194.2 633.2L194.2 631.7L194.2 630.2L194.2 628.7L194.2 627.2L194.2 625.7L194.2 624.2L194.2 622.7L194.2 621.2L194.2 619.7L194.3 618.1L194.3 616.6L194.3 615.1L194.3 613.6L194.3 612.1L194.3 610.6L194.3 609.1L194.3 607.6L194.3 606.1L194.3 604.6L194.3 603.0L194.3 601.5L194.3 600.0L194.3 598.5L194.3 597.0L194.3 595.5L194.4 593.9L194.4 592.4L194.4 590.9L194.4 589.4L194.4 587.9L194.4 586.3L194.4 584.8L194.4 583.3L194.5 581.8L194.5 580.2L194.5 578.7L194.5 577.2L194.5 575.7L194.6 574.1L194.6 572.6L194.6 571.1L194.6 569.5L194.7 568.0L194.7 566.5L194.7 564.9L194.8 563.4L194.8 561.9L194.9 560.3L194.9 558.8L195.0 557.3L195.0 555.7L195.1 554.2L195.2 552.7L195.2 551.1L195.3 549.6L195.4 548.1L195.5 546.5L195.6 545.0L195.7 543.5L195.8 541.9L195.9 540.4L196.0 538.9L196.1 537.4L196.3 535.8L196.4 534.3L196.5 532.8L196.7 531.3L196.9 529.7L197.0 528.2L197.2 526.7L197.4 525.2L197.6 523.7L197.8 522.1L198.0 520.6L198.2 519.1L198.4 517.6L198.6 516.1L198.9 514.6L199.1 513.1L199.4 511.6L199.7 510.1L200.0 508.6L200.2 507.1L200.5 505.6L200.9 504.1L201.2 502.7L201.5 501.2L201.9 499.7L202.2 498.2L202.6 496.8L203.0 495.3L203.3 493.8L203.7 492.4L204.1 490.9L204.6 489.5L205.0 488.0L205.4 486.6L205.9 485.2L206.4 483.7L206.8 482.3L207.3 480.9L207.8 479.4L208.4 478.0L208.9 476.6L209.4 475.2L210.0 473.8L210.5 472.4L211.1 471.0L211.7 469.6L212.3 468.3L212.9 466.9L213.5 465.5L214.2 464.2L214.8 462.8L215.4 461.4L216.1 460.1L216.8 458.7L217.5 457.4L218.2 456.1L218.9 454.8L219.6 453.4L220.4 452.1L221.1 450.8L221.9 449.5L222.7 448.2L223.4 446.9L224.2 445.6L225.1 444.4L225.9 443.1L226.7 441.8L227.6 440.6L228.4 439.4L229.3 438.1L230.2 436.9L231.1 435.7L232.0 434.5L232.9 433.3L233.9 432.1L234.8 430.9L235.8 429.7L236.7 428.5L237.7 427.3L238.7 426.2L239.6 425.0L240.6 423.8L241.6 422.7L242.6 421.5L243.6 420.4L244.7 419.3L245.7 418.1L246.7 417.0L247.8 415.9L248.8 414.8L249.8 413.7L250.9 412.6L252.0 411.5L253.0 410.4L254.1 409.3L255.2 408.2L256.3 407.1L257.3 406.1L258.4 405.0L259.5 403.9L260.6 402.9L261.7 401.8L262.8 400.8L263.9 399.7L265.1 398.7L266.2 397.7L267.3 396.6L268.4 395.6L269.6 394.6L270.7 393.5L271.8 392.5L273.0 391.5L274.1 390.5L275.3 389.5L276.4 388.5L277.6 387.5L278.7 386.5L279.9 385.5L281.1 384.6L282.2 383.6L283.4 382.6L284.6 381.6L285.8 380.7L286.9 379.7L288.1 378.7L289.3 377.8L290.5 376.8L291.7 375.9L292.9 375.0L294.1 374.0L295.3 373.1L296.5 372.2L297.7 371.2L299.0 370.3L300.2 369.4L301.4 368.5L302.6 367.6L303.8 366.7L305.1 365.8L306.3 364.9L307.5 364.0L308.8 363.1L310.0 362.2L311.2 361.3L312.5 360.4L313.7 359.5L315.0 358.6L316.2 357.8L317.5 356.9L318.7 356.0L320.0 355.2L321.2 354.3L322.5 353.4L323.8 352.6L325.0 351.7L326.3 350.9L327.5 350.0L328.8 349.2L330.1 348.3L331.4 347.5L332.6 346.6L333.9 345.8L335.2 345.0L336.5 344.1L337.7 343.3L339.0 342.5L340.3 341.7L341.6 340.9L342.9 340.1L344.2 339.2L345.5 338.4L346.8 337.6L348.1 336.8L349.4 336.1L350.7 335.3L352.0 334.5L353.3 333.7L354.6 332.9L355.9 332.1L357.2 331.4L358.5 330.6L359.8 329.8L361.1 329.1L362.4 328.3L363.8 327.5L365.1 326.8L366.4 326.0L367.7 325.3L369.0 324.6L370.4 323.8L371.7 323.1L373.0 322.3L374.3 321.6L375.7 320.9L377.0 320.2L378.3 319.5L379.7 318.8L381.0 318.0L382.4 317.3L383.7 316.6L385.0 316.0L386.4 315.3L387.7 314.6L389.1 313.9L390.4 313.2L391.8 312.5L393.1 311.9L394.5 311.2L395.8 310.5L397.2 309.9L398.5 309.2L399.9 308.5L401.3 307.9L402.6 307.2L404.0 306.6L405.4 306.0L406.7 305.3L408.1 304.7L409.5 304.0L410.8 303.4L412.2 302.8L413.6 302.2L414.9 301.5L416.3 300.9L417.7 300.3L419.1 299.7L420.4 299.1L421.8 298.5L423.2 297.9L424.6 297.3L426.0 296.7L427.3 296.1L428.7 295.5L430.1 294.9L431.5 294.3L432.9 293.8L434.3 293.2L435.7 292.6L437.1 292.0L438.5 291.5L439.9 290.9L441.3 290.3L442.7 289.8L444.1 289.2L445.5 288.7L446.9 288.1L448.3 287.6L449.7 287.1L451.1 286.5L452.5 286.0L453.9 285.4L455.3 284.9L456.7 284.4L458.1 283.9L459.5 283.4L460.9 282.8L462.4 282.3L463.8 281.8L465.2 281.3L466.6 280.8L468.0 280.3L469.4 279.8L470.9 279.3L472.3 278.8L473.7 278.3L475.1 277.8L476.6 277.4L478.0 276.9L479.4 276.4L480.9 275.9L482.3 275.5L483.7 275.0L485.2 274.5L486.6 274.1L488.0 273.6L489.5 273.2L490.9 272.7L492.4 272.3L493.8 271.8L495.2 271.4L496.7 270.9L498.1 270.5L499.6 270.1L501.0 269.6L502.5 269.2L503.9 268.8L505.3 268.3L506.8 267.9L508.2 267.5L509.7 267.1L511.1 266.7L512.6 266.2L514.0 265.8L515.5 265.4L516.9 265.0L518.4 264.6L519.9 264.2L521.3 263.8L522.8 263.4L524.2 263.0L525.7 262.6L527.1 262.2L528.6 261.8L530.0 261.4L531.5 261.0L533.0 260.6L534.4 260.2L535.9 259.8L537.3 259.4L538.8 259.0L540.3 258.6L541.7 258.3L543.2 257.9L544.6 257.5L546.1 257.1L547.6 256.7L549.0 256.3L550.5 255.9L551.9 255.6L553.4 255.2L554.9 254.8L556.3 254.4L557.8 254.1L559.3 253.7L560.7 253.3L562.2 252.9L563.6 252.6L565.1 252.2L566.6 251.8L568.0 251.4L569.5 251.1L571.0 250.7L572.4 250.3L573.9 249.9L575.3 249.6L576.8 249.2L578.3 248.8L579.7 248.5L581.2 248.1L582.7 247.7L584.1 247.3L585.6 247.0L587.0 246.6L588.5 246.2L590.0 245.9L591.4 245.5L592.9 245.1L594.3 244.7L595.8 244.4L597.3 244.0L598.7 243.6L600.2 243.2L601.6 242.9L603.1 242.5L604.6 242.1L606.0 241.7L607.5 241.3L608.9 241.0L610.4 240.6L611.8 240.2L613.3 239.8L614.8 239.4L616.2 239.1L617.7 238.7L619.1 238.3L620.6 237.9L622.0 237.5L623.5 237.1L624.9 236.7L626.4 236.3L627.8 235.9L629.3 235.5L630.7 235.1L632.2 234.7L633.6 234.3L635.1 233.9L636.5 233.5L637.9 233.1L639.4 232.7L640.8 232.3L642.3 231.9L643.7 231.5L645.2 231.0L646.6 230.6L648.0 230.2L649.5 229.8L650.9 229.4L652.3 228.9L653.8 228.5L655.2 228.1L656.6 227.6L658.1 227.2L659.5 226.7L660.9 226.3L662.3 225.8L663.8 225.4L665.2 224.9L666.6 224.5L668.0 224.0L669.5 223.5L670.9 223.1L672.3 222.6L673.7 222.1L675.1 221.6L676.5 221.2L678.0 220.7L679.4 220.2L680.8 219.7L682.2 219.2L683.6 218.7L685.0 218.3L686.4 217.8L687.9 217.3L689.3 216.8L690.7 216.3L692.1 215.8L693.5 215.3L694.9 214.8L696.3 214.2L697.7 213.7L699.1 213.2L700.5 212.7L701.9 212.2L703.3 211.7L704.7 211.2L706.1 210.6L707.5 210.1L708.9 209.6L710.3 209.1L711.7 208.5L713.1 208.0L714.5 207.5L715.9 207.0L717.3 206.4L718.7 205.9L720.1 205.4L721.5 204.8L722.9 204.3L724.3 203.8L725.7 203.2L727.1 202.7L728.5 202.1L729.9 201.6L731.3 201.1L732.7 200.5L734.0 200.0L735.4 199.4L736.8 198.9L738.2 198.3L739.6 197.8L741.0 197.3L742.4 196.7L743.8 196.2L745.2 195.6L746.6 195.1L748.0 194.5L749.4 194.0L750.7 193.4L752.1 192.9L753.5 192.3L754.9 191.8L756.3 191.2L757.7 190.7L759.1 190.1L760.5 189.6L761.9 189.0L763.3 188.5L764.7 187.9L766.1 187.4L767.4 186.8L768.8 186.3L770.2 185.7L771.6 185.2L773.0 184.6L774.4 184.1L775.8 183.5L777.2 183.0L778.6 182.4L780.0 181.8L781.4 181.3L782.7 180.7L784.1 180.2L785.5 179.6L786.9 179.1L788.3 178.5L789.7 177.9L791.1 177.4L792.5 176.8L793.9 176.2L795.2 175.7L796.6 175.1L798.0 174.6L799.4 174.0L800.8 173.4L802.2 172.9L803.6 172.3L805.0 171.7L806.4 171.2L807.7 170.6L809.1 170.0L810.5 169.4L811.9 168.9L813.3 168.3L814.7 167.7L816.1 167.2L817.5 166.6L818.8 166.0L820.2 165.4L821.6 164.9L823.0 164.3L824.4 163.7L825.8 163.1L827.1 162.5L828.5 162.0L829.9 161.4L831.3 160.8L832.7 160.2L834.1 159.6L835.5 159.1L836.8 158.5L838.2 157.9L839.6 157.3L841.0 156.7L842.4 156.1L843.8 155.5L845.1 154.9L846.5 154.4L847.9 153.8L849.3 153.2L850.7 152.6L852.0 152.0L853.4 151.4L854.8 150.8L856.2 150.2L857.6 149.6L858.9 149.0L860.3 148.4L861.7 147.8L863.1 147.2L864.4 146.6L865.8 146.0L867.2 145.4L868.6 144.8L870.0 144.2L871.3 143.6L872.7 143.0L874.1 142.4L875.5 141.8L876.8 141.2L878.2 140.6L879.6 140.0L881.0 139.4L882.4 138.8L883.7 138.2L885.1 137.6L886.5 137.0L887.9 136.4L889.2 135.8L890.6 135.2L892.0 134.6L893.4 134.0L894.8 133.4L896.1 132.8L897.5 132.2L898.9 131.6L900.3 131.0L901.7 130.4L903.0 129.8L904.4 129.2L905.8 128.6L907.2 128.0L908.6 127.4L909.9 126.8L911.3 126.2L912.7 125.6L914.1 125.0L915.5 124.5L916.9 123.9L918.3 123.3L919.6 122.7L921.0 122.1L922.4 121.5L923.8 120.9L925.2 120.3L926.6 119.8L928.0 119.2L929.3 118.6L930.7 118.0L932.1 117.4L933.5 116.8L934.9 116.3L936.3 115.7L937.7 115.1L939.0 114.5L940.4 113.9L941.8 113.3L943.2 112.8L944.6 112.2L946.0 111.6L947.4 111.0L948.8 110.4L950.1 109.9L951.5 109.3L952.9 108.7L954.3 108.1L955.7 107.5L957.1 106.9L958.5 106.4L959.9 105.8L961.3 105.2L962.6 104.6L964.0 104.1L965.4 103.5L966.8 102.9L968.2 102.3L969.6 101.7L971.0 101.2L972.4 100.6L973.8 100.0L975.2 99.4L976.5 98.9L977.9 98.3L979.3 97.7L980.7 97.1L982.1 96.6L983.5 96.0L984.9 95.4L986.3 94.9L987.7 94.3L989.1 93.7L990.5 93.1L995.0 104.2L993.6 104.8L992.2 105.4L990.8 106.0L989.5 106.5L988.1 107.1L986.7 107.7L985.3 108.2L983.9 108.8L982.5 109.4L981.1 110.0L979.7 110.5L978.4 111.1L977.0 111.7L975.6 112.3L974.2 112.8L972.8 113.4L971.4 114.0L970.0 114.6L968.6 115.1L967.3 115.7L965.9 116.3L964.5 116.9L963.1 117.4L961.7 118.0L960.3 118.6L958.9 119.2L957.6 119.8L956.2 120.3L954.8 120.9L953.4 121.5L952.0 122.1L950.6 122.7L949.2 123.2L947.9 123.8L946.5 124.4L945.1 125.0L943.7 125.6L942.3 126.2L940.9 126.7L939.5 127.3L938.2 127.9L936.8 128.5L935.4 129.1L934.0 129.7L932.6 130.2L931.2 130.8L929.9 131.4L928.5 132.0L927.1 132.6L925.7 133.2L924.3 133.7L922.9 134.3L921.5 134.9L920.2 135.5L918.8 136.1L917.4 136.7L916.0 137.3L914.6 137.8L913.2 138.4L911.8 139.0L910.5 139.6L909.1 140.2L907.7 140.7L906.3 141.3L904.9 141.9L903.5 142.5L902.1 143.0L900.7 143.6L899.4 144.2L898.0 144.8L896.6 145.3L895.2 145.9L893.8 146.5L892.4 147.1L891.0 147.6L889.6 148.2L888.2 148.8L886.9 149.4L885.5 149.9L884.1 150.5L882.7 151.1L881.3 151.7L879.9 152.2L878.5 152.8L877.1 153.4L875.7 154.0L874.3 154.5L873.0 155.1L871.6 155.7L870.2 156.3L868.8 156.8L867.4 157.4L866.0 158.0L864.6 158.6L863.2 159.1L861.8 159.7L860.5 160.3L859.1 160.9L857.7 161.4L856.3 162.0L854.9 162.6L853.5 163.2L852.1 163.8L850.7 164.3L849.4 164.9L848.0 165.5L846.6 166.1L845.2 166.7L843.8 167.3L842.4 167.8L841.0 168.4L839.7 169.0L838.3 169.6L836.9 170.2L835.5 170.8L834.1 171.4L832.7 171.9L831.4 172.5L830.0 173.1L828.6 173.7L827.2 174.3L825.8 174.9L824.4 175.5L823.1 176.1L821.7 176.6L820.3 177.2L818.9 177.8L817.5 178.4L816.1 179.0L814.8 179.6L813.4 180.2L812.0 180.8L810.6 181.3L809.2 181.9L807.8 182.5L806.4 183.1L805.1 183.7L803.7 184.3L802.3 184.9L800.9 185.4L799.5 186.0L798.1 186.6L796.7 187.2L795.4 187.8L794.0 188.3L792.6 188.9L791.2 189.5L789.8 190.1L788.4 190.7L787.0 191.2L785.6 191.8L784.2 192.4L782.9 193.0L781.5 193.5L780.1 194.1L778.7 194.7L777.3 195.2L775.9 195.8L774.5 196.4L773.1 196.9L771.7 197.5L770.3 198.0L768.9 198.6L767.5 199.2L766.1 199.7L764.7 200.3L763.3 200.8L761.9 201.4L760.5 201.9L759.1 202.5L757.7 203.0L756.3 203.6L754.9 204.1L753.5 204.7L752.1 205.2L750.7 205.7L749.3 206.3L747.9 206.8L746.5 207.3L745.1 207.9L743.7 208.4L742.2 208.9L740.8 209.4L739.4 210.0L738.0 210.5L736.6 211.0L735.2 211.5L733.8 212.0L732.4 212.5L730.9 213.0L729.5 213.6L728.1 214.1L726.7 214.6L725.3 215.1L723.8 215.6L722.4 216.1L721.0 216.6L719.6 217.1L718.2 217.6L716.7 218.0L715.3 218.5L713.9 219.0L712.5 219.5L711.0 220.0L709.6 220.5L708.2 221.0L706.8 221.4L705.3 221.9L703.9 222.4L702.5 222.9L701.0 223.3L699.6 223.8L698.2 224.3L696.7 224.8L695.3 225.2L693.9 225.7L692.4 226.2L691.0 226.6L689.6 227.1L688.1 227.5L686.7 228.0L685.3 228.5L683.8 228.9L682.4 229.4L681.0 229.8L679.5 230.3L678.1 230.7L676.6 231.2L675.2 231.6L673.8 232.1L672.3 232.5L670.9 233.0L669.4 233.4L668.0 233.8L666.5 234.3L665.1 234.7L663.6 235.2L662.2 235.6L660.8 236.0L659.3 236.5L657.9 236.9L656.4 237.3L655.0 237.8L653.5 238.2L652.1 238.6L650.6 239.0L649.2 239.5L647.7 239.9L646.3 240.3L644.8 240.7L643.4 241.1L641.9 241.6L640.5 242.0L639.0 242.4L637.5 242.8L636.1 243.2L634.6 243.6L633.2 244.0L631.7 244.4L630.3 244.8L628.8 245.2L627.3 245.6L625.9 246.0L624.4 246.4L623.0 246.8L621.5 247.2L620.0 247.6L618.6 248.0L617.1 248.4L615.7 248.7L614.2 249.1L612.7 249.5L611.3 249.9L609.8 250.3L608.4 250.7L606.9 251.1L605.4 251.4L604.0 251.8L602.5 252.2L601.0 252.6L599.6 252.9L598.1 253.3L596.7 253.7L595.2 254.1L593.7 254.5L592.3 254.8L590.8 255.2L589.3 255.6L587.9 256.0L586.4 256.3L584.9 256.7L583.5 257.1L582.0 257.4L580.6 257.8L579.1 258.2L577.6 258.6L576.2 258.9L574.7 259.3L573.2 259.7L571.8 260.1L570.3 260.4L568.9 260.8L567.4 261.2L565.9 261.6L564.5 261.9L563.0 262.3L561.6 262.7L560.1 263.1L558.7 263.4L557.2 263.8L555.7 264.2L554.3 264.6L552.8 264.9L551.4 265.3L549.9 265.7L548.5 266.1L547.0 266.5L545.6 266.9L544.1 267.2L542.6 267.6L541.2 268.0L539.7 268.4L538.3 268.8L536.8 269.2L535.4 269.6L534.0 270.0L532.5 270.4L531.1 270.8L529.6 271.2L528.2 271.6L526.7 272.0L525.3 272.4L523.8 272.8L522.4 273.2L521.0 273.6L519.5 274.0L518.1 274.4L516.6 274.9L515.2 275.3L513.8 275.7L512.3 276.1L510.9 276.6L509.5 277.0L508.0 277.4L506.6 277.8L505.2 278.3L503.8 278.7L502.3 279.1L500.9 279.6L499.5 280.0L498.1 280.5L496.6 280.9L495.2 281.4L493.8 281.8L492.4 282.3L491.0 282.8L489.6 283.2L488.1 283.7L486.7 284.1L485.3 284.6L483.9 285.1L482.5 285.6L481.1 286.0L479.7 286.5L478.3 287.0L476.9 287.5L475.5 288.0L474.1 288.5L472.7 289.0L471.3 289.5L469.9 290.0L468.5 290.5L467.1 291.0L465.7 291.5L464.3 292.0L462.9 292.6L461.5 293.1L460.2 293.6L458.8 294.1L457.4 294.7L456.0 295.2L454.6 295.7L453.2 296.3L451.9 296.8L450.5 297.4L449.1 297.9L447.7 298.5L446.4 299.0L445.0 299.6L443.6 300.2L442.2 300.7L440.9 301.3L439.5 301.9L438.1 302.4L436.8 303.0L435.4 303.6L434.0 304.2L432.7 304.8L431.3 305.3L430.0 305.9L428.6 306.5L427.2 307.1L425.9 307.7L424.5 308.3L423.2 308.9L421.8 309.5L420.5 310.2L419.1 310.8L417.8 311.4L416.4 312.0L415.1 312.6L413.7 313.3L412.4 313.9L411.0 314.5L409.7 315.2L408.4 315.8L407.0 316.4L405.7 317.1L404.3 317.7L403.0 318.4L401.7 319.0L400.3 319.7L399.0 320.3L397.7 321.0L396.3 321.7L395.0 322.3L393.7 323.0L392.3 323.7L391.0 324.3L389.7 325.0L388.4 325.7L387.0 326.4L385.7 327.1L384.4 327.7L383.1 328.4L381.7 329.1L380.4 329.8L379.1 330.5L377.8 331.2L376.5 331.9L375.1 332.6L373.8 333.3L372.5 334.0L371.2 334.7L369.9 335.4L368.6 336.1L367.2 336.9L365.9 337.6L364.6 338.3L363.3 339.0L362.0 339.7L360.7 340.5L359.4 341.2L358.1 341.9L356.8 342.7L355.5 343.4L354.2 344.2L352.9 344.9L351.6 345.7L350.3 346.4L349.0 347.2L347.7 347.9L346.4 348.7L345.1 349.5L343.8 350.2L342.5 351.0L341.2 351.8L340.0 352.6L338.7 353.3L337.4 354.1L336.1 354.9L334.8 355.7L333.6 356.5L332.3 357.3L331.0 358.1L329.8 358.9L328.5 359.7L327.3 360.6L326.0 361.4L324.7 362.2L323.5 363.0L322.2 363.9L321.0 364.7L319.8 365.5L318.5 366.4L317.3 367.2L316.0 368.1L314.8 369.0L313.6 369.8L312.4 370.7L311.1 371.6L309.9 372.4L308.7 373.3L307.5 374.2L306.3 375.1L305.1 376.0L303.9 376.9L302.7 377.8L301.5 378.7L300.3 379.6L299.1 380.5L297.9 381.4L296.8 382.3L295.6 383.3L294.4 384.2L293.2 385.1L292.1 386.1L290.9 387.0L289.7 388.0L288.6 388.9L287.4 389.8L286.3 390.8L285.1 391.8L284.0 392.7L282.8 393.7L281.7 394.7L280.6 395.6L279.4 396.6L278.3 397.6L277.2 398.6L276.0 399.6L274.9 400.6L273.8 401.5L272.7 402.5L271.6 403.6L270.5 404.6L269.4 405.6L268.3 406.6L267.2 407.6L266.1 408.6L265.0 409.7L264.0 410.7L262.9 411.7L261.8 412.8L260.8 413.8L259.7 414.9L258.7 415.9L257.6 417.0L256.6 418.1L255.5 419.1L254.5 420.2L253.5 421.3L252.5 422.4L251.5 423.4L250.5 424.5L249.5 425.6L248.5 426.7L247.5 427.8L246.5 428.9L245.6 430.1L244.6 431.2L243.7 432.3L242.8 433.4L241.8 434.6L240.9 435.7L240.0 436.9L239.1 438.0L238.2 439.2L237.4 440.3L236.5 441.5L235.6 442.7L234.8 443.8L233.9 445.0L233.1 446.2L232.3 447.4L231.5 448.6L230.7 449.8L229.9 451.0L229.1 452.2L228.3 453.4L227.6 454.7L226.8 455.9L226.1 457.1L225.4 458.4L224.7 459.6L224.0 460.9L223.3 462.1L222.7 463.4L222.0 464.7L221.4 466.0L220.7 467.3L220.1 468.6L219.5 469.9L218.9 471.2L218.3 472.5L217.8 473.8L217.2 475.2L216.7 476.5L216.1 477.8L215.6 479.2L215.1 480.5L214.6 481.9L214.1 483.3L213.6 484.6L213.2 486.0L212.7 487.4L212.3 488.7L211.8 490.1L211.4 491.5L211.0 492.9L210.6 494.3L210.2 495.7L209.8 497.1L209.4 498.5L209.1 499.9L208.7 501.4L208.4 502.8L208.0 504.2L207.7 505.6L207.4 507.1L207.1 508.5L206.8 510.0L206.5 511.4L206.2 512.8L206.0 514.3L205.7 515.8L205.5 517.2L205.2 518.7L205.0 520.1L204.8 521.6L204.6 523.1L204.4 524.5L204.2 526.0L204.0 527.5L203.9 529.0L203.7 530.5L203.5 532.0L203.4 533.4L203.2 534.9L203.1 536.4L203.0 537.9L202.8 539.4L202.7 540.9L202.6 542.4L202.5 543.9L202.4 545.4L202.3 546.9L202.2 548.4L202.1 550.0L202.1 551.5L202.0 553.0L201.9 554.5L201.9 556.0L201.8 557.5L201.7 559.0L201.7 560.6L201.6 562.1L201.6 563.6L201.6 565.1L201.5 566.6L201.5 568.2L201.5 569.7L201.4 571.2L201.4 572.7L201.4 574.2L201.3 575.8L201.3 577.3L201.3 578.8L201.3 580.3L201.3 581.8L201.3 583.4L201.2 584.9L201.2 586.4L201.2 587.9L201.2 589.4L201.2 591.0L201.2 592.5L201.2 594.0L201.2 595.5L201.2 597.0L201.1 598.5L201.1 600.1L201.1 601.6L201.1 603.1L201.1 604.6L201.1 606.1L201.1 607.6L201.1 609.1L201.1 610.6L201.1 612.1L201.1 613.7L201.1 615.2L201.1 616.7L201.1 618.2L201.1 619.7L201.1 621.2L201.0 622.7L201.0 624.2L201.0 625.7L201.0 627.2L201.0 628.7L201.0 630.2L201.0 631.7L201.0 633.2L201.0 634.7L201.0 636.2L200.9 637.7L200.9 639.2L200.9 640.7L200.9 642.2L200.9 643.7L200.8 645.2L200.8 646.7L200.8 648.2L200.8 649.7L200.7 651.2L200.7 652.7L200.7 654.2L200.7 655.7L200.6 657.2L200.6 658.7L200.6 660.2L200.5 661.7L200.5 663.2L200.4 664.7L200.4 666.2L200.3 667.7L200.3 669.2L200.2 670.7L200.2 672.2L200.1 673.6L200.1 675.1L200.0 676.6L199.9 678.1L199.9 679.6L199.8 681.1L199.7 682.6L199.7 684.1L199.6 685.6L199.5 687.1L199.4 688.5L199.3 690.0Z" fill="#f00"/><path d="M192.5 689.6L192.6 688.2L192.7 686.7L192.8 685.2L192.9 683.7L192.9 682.2L193.0 680.8L193.1 679.3L193.1 677.8L193.2 676.3L193.3 674.9L193.3 673.4L193.4 671.9L193.4 670.4L193.5 668.9L193.5 667.5L193.6 666.0L193.6 664.5L193.7 663.0L193.7 661.5L193.7 660.0L193.8 658.5L193.8 657.1L193.9 655.6L193.9 654.1L193.9 652.6L193.9 651.1L194.0 649.6L194.0 648.1L194.0 646.6L194.0 645.1L194.1 643.6L194.1 642.2L194.1 640.7L194.1 639.2L194.1 637.7L194.1 636.2L194.2 634.7L194.2 633.2L194.2 631.7L194.2 630.2L194.2 628.7L194.2 627.2L194.2 625.7L194.2 624.2L194.2 622.7L194.2 621.2L194.2 619.7L194.3 618.1L194.3 616.6L194.3 615.1L194.3 613.6L194.3 612.1L194.3 610.6L194.3 609.1L194.3 607.6L194.3 606.1L194.3 604.6L194.3 603.0L194.3 601.5L194.3 600.0L194.3 598.5L194.3 597.0L194.3 595.5L194.4 593.9L194.4 592.4L194.4 590.9L194.4 589.4L194.4 587.9L194.4 586.3L194.4 584.8L194.4 583.3L194.5 581.8L194.5 580.2L194.5 578.7L194.5 577.2L194.5 575.7L194.6 574.1L194.6 572.6L194.6 571.1L194.6 569.5L194.7 568.0L194.7 566.5L194.7 564.9L194.8 563.4L194.8 561.9L194.9 560.3L194.9 558.8L195.0 557.3L195.0 555.7L195.1 554.2L195.2 552.7L195.2 551.1L195.3 549.6L195.4 548.1L195.5 546.5L195.6 545.0L195.7 543.5L195.8 541.9L195.9 540.4L196.0 538.9L196.1 537.4L196.3 535.8L196.4 534.3L196.5 532.8L196.7 531.3L196.9 529.7L197.0 528.2L197.2 526.7L197.4 525.2L197.6 523.7L197.8 522.1L198.0 520.6L198.2 519.1L198.4 517.6L198.6 516.1L198.9 514.6L199.1 513.1L199.4 511.6L199.7 510.1L200.0 508.6L200.2 507.1L200.5 505.6L200.9 504.1L201.2 502.7L201.5 501.2L201.9 499.7L202.2 498.2L202.6 496.8L203.0 495.3L203.3 493.8L203.7 492.4L204.1 490.9L204.6 489.5L205.0 488.0L205.4 486.6L205.9 485.2L206.4 483.7L206.8 482.3L207.3 480.9L207.8 479.4L208.4 478.0L208.9 476.6L209.4 475.2L210.0 473.8L210.5 472.4L211.1 471.0L211.7 469.6L212.3 468.3L212.9 466.9L213.5 465.5L214.2 464.2L214.8 462.8L215.4 461.4L216.1 460.1L216.8 458.7L217.5 457.4L218.2 456.1L218.9 454.8L219.6 453.4L220.4 452.1L221.1 450.8L221.9 449.5L222.7 448.2L223.4 446.9L224.2 445.6L225.1 444.4L225.9 443.1L226.7 441.8L227.6 440.6L228.4 439.4L229.3 438.1L230.2 436.9L231.1 435.7L232.0 434.5L232.9 433.3L233.9 432.1L234.8 430.9L235.8 429.7L236.7 428.5L237.7 427.3L238.7 426.2L239.6 425.0L240.6 423.8L241.6 422.7L242.6 421.5L243.6 420.4L244.7 419.3L245.7 418.1L246.7 417.0L247.8 415.9L248.8 414.8L249.8 413.7L250.9 412.6L252.0 411.5L253.0 410.4L254.1 409.3L255.2 408.2L256.3 407.1L257.3 406.1L258.4 405.0L259.5 403.9L260.6 402.9L261.7 401.8L262.8 400.8L263.9 399.7L265.1 398.7L266.2 397.7L267.3 396.6L268.4 395.6L269.6 394.6L270.7 393.5L271.8 392.5L273.0 391.5L274.1 390.5L275.3 389.5L276.4 388.5L277.6 387.5L278.7 386.5L279.9 385.5L281.1 384.6L282.2 383.6L283.4 382.6L284.6 381.6L285.8 380.7L286.9 379.7L288.1 378.7L289.3 377.8L290.5 376.8L291.7 375.9L292.9 375.0L294.1 374.0L295.3 373.1L296.5 372.2L297.7 371.2L299.0 370.3L300.2 369.4L301.4 368.5L302.6 367.6L303.8 366.7L305.1 365.8L306.3 364.9L307.5 364.0L308.8 363.1L310.0 362.2L311.2 361.3L312.5 360.4L313.7 359.5L315.0 358.6L316.2 357.8L317.5 356.9L318.7 356.0L320.0 355.2L321.2 354.3L322.5 353.4L323.8 352.6L325.0 351.7L326.3 350.9L327.5 350.0L328.8 349.2L330.1 348.3L331.4 347.5L332.6 346.6L333.9 345.8L335.2 345.0L336.5 344.1L337.7 343.3L339.0 342.5L340.3 341.7L341.6 340.9L342.9 340.1L344.2 339.2L345.5 338.4L346.8 337.6L348.1 336.8L349.4 336.1L350.7 335.3L352.0 334.5L353.3 333.7L354.6 332.9L355.9 332.1L357.2 331.4L358.5 330.6L359.8 329.8L361.1 329.1L362.4 328.3L363.8 327.5L365.1 326.8L366.4 326.0L367.7 325.3L369.0 324.6L370.4 323.8L371.7 323.1L373.0 322.3L374.3 321.6L375.7 320.9L377.0 320.2L378.3 319.5L379.7 318.8L381.0 318.0L382.4 317.3L383.7 316.6L385.0 316.0L386.4 315.3L387.7 314.6L389.1 313.9L390.4 313.2L391.8 312.5L393.1 311.9L394.5 311.2L395.8 310.5L397.2 309.9L398.5 309.2L399.9 308.5L401.3 307.9L402.6 307.2L404.0 306.6L405.4 306.0L406.7 305.3L408.1 304.7L409.5 304.0L410.8 303.4L412.2 302.8L413.6 302.2L414.9 301.5L416.3 300.9L417.7 300.3L419.1 299.7L420.4 299.1L421.8 298.5L423.2 297.9L424.6 297.3L426.0 296.7L427.3 296.1L428.7 295.5L430.1 294.9L431.5 294.3L432.9 293.8L434.3 293.2L435.7 292.6L437.1 292.0L438.5 291.5L439.9 290.9L441.3 290.3L442.7 289.8L444.1 289.2L445.5 288.7L446.9 288.1L448.3 287.6L449.7 287.1L451.1 286.5L452.5 286.0L453.9 285.4L455.3 284.9L456.7 284.4L458.1 283.9L459.5 283.4L460.9 282.8L462.4 282.3L463.8 281.8L465.2 281.3L466.6 280.8L468.0 280.3L469.4 279.8L470.9 279.3L472.3 278.8L473.7 278.3L475.1 277.8L476.6 277.4L478.0 276.9L479.4 276.4L480.9 275.9L482.3 275.5L483.7 275.0L485.2 274.5L486.6 274.1L488.0 273.6L489.5 273.2L490.9 272.7L492.4 272.3L493.8 271.8L495.2 271.4L496.7 270.9L498.1 270.5L499.6 270.1L501.0 269.6L502.5 269.2L503.9 268.8L505.3 268.3L506.8 267.9L508.2 267.5L509.7 267.1L511.1 266.7L512.6 266.2L514.0 265.8L515.5 265.4L516.9 265.0L518.4 264.6L519.9 264.2L521.3 263.8L522.8 263.4L524.2 263.0L525.7 262.6L527.1 262.2L528.6 261.8L530.0 261.4L531.5 261.0L533.0 260.6L534.4 260.2L535.9 259.8L537.3 259.4L538.8 259.0L540.3 258.6L541.7 258.3L543.2 257.9L544.6 257.5L546.1 257.1L547.6 256.7L549.0 256.3L550.5 255.9L551.9 255.6L553.4 255.2L554.9 254.8L556.3 254.4L557.8 254.1L559.3 253.7L560.7 253.3L562.2 252.9L563.6 252.6L565.1 252.2L566.6 251.8L568.0 251.4L569.5 251.1L571.0 250.7L572.4 250.3L573.9 249.9L575.3 249.6L576.8 249.2L578.3 248.8L579.7 248.5L581.2 248.1L582.7 247.7L584.1 247.3L585.6 247.0L587.0 246.6L588.5 246.2L590.0 245.9L591.4 245.5L592.9 245.1L594.3 244.7L595.8 244.4L597.3 244.0L598.7 243.6L600.2 243.2L601.6 242.9L603.1 242.5L604.6 242.1L606.0 241.7L607.5 241.3L608.9 241.0L610.4 240.6L611.8 240.2L613.3 239.8L614.8 239.4L616.2 239.1L617.7 238.7L619.1 238.3L620.6 237.9L622.0 237.5L623.5 237.1L624.9 236.7L626.4 236.3L627.8 235.9L629.3 235.5L630.7 235.1L632.2 234.7L633.6 234.3L635.1 233.9L636.5 233.5L637.9 233.1L639.4 232.7L640.8 232.3L642.3 231.9L643.7 231.5L645.2 231.0L646.6 230.6L648.0 230.2L649.5 229.8L650.9 229.4L652.3 228.9L653.8 228.5L655.2 228.1L656.6 227.6L658.1 227.2L659.5 226.7L660.9 226.3L662.3 225.8L663.8 225.4L665.2 224.9L666.6 224.5L668.0 224.0L669.5 223.5L670.9 223.1L672.3 222.6L673.7 222.1L675.1 221.6L676.5 221.2L678.0 220.7L679.4 220.2L680.8 219.7L682.2 219.2L683.6 218.7L685.0 218.3L686.4 217.8L687.9 217.3L689.3 216.8L690.7 216.3L692.1 215.8L693.5 215.3L694.9 214.8L696.3 214.2L697.7 213.7L699.1 213.2L700.5 212.7L701.9 212.2L703.3 211.7L704.7 211.2L706.1 210.6L707.5 210.1L708.9 209.6L710.3 209.1L711.7 208.5L713.1 208.0L714.5 207.5L715.9 207.0L717.3 206.4L718.7 205.9L720.1 205.4L721.5 204.8L722.9 204.3L724.3 203.8L725.7 203.2L727.1 202.7L728.5 202.1L729.9 201.6L731.3 201.1L732.7 200.5L734.0 200.0L735.4 199.4L736.8 198.9L738.2 198.3L739.6 197.8L741.0 197.3L742.4 196.7L743.8 196.2L745.2 195.6L746.6 195.1L748.0 194.5L749.4 194.0L750.7 193.4L752.1 192.9L753.5 192.3L754.9 191.8L756.3 191.2L757.7 190.7L759.1 190.1L760.5 189.6L761.9 189.0L763.3 188.5L764.7 187.9L766.1 187.4L767.4 186.8L768.8 186.3L770.2 185.7L771.6 185.2L773.0 184.6L774.4 184.1L775.8 183.5L777.2 183.0L778.6 182.4L780.0 181.8L781.4 181.3L782.7 180.7L784.1 180.2L785.5 179.6L786.9 179.1L788.3 178.5L789.7 177.9L791.1 177.4L792.5 176.8L793.9 176.2L795.2 175.7L796.6 175.1L798.0 174.6L799.4 174.0L800.8 173.4L802.2 172.9L803.6 172.3L805.0 171.7L806.4 171.2L807.7 170.6L809.1 170.0L810.5 169.4L811.9 168.9L813.3 168.3L814.7 167.7L816.1 167.2L817.5 166.6L818.8 166.0L820.2 165.4L821.6 164.9L823.0 164.3L824.4 163.7L825.8 163.1L827.1 162.5L828.5 162.0L829.9 161.4L831.3 160.8L832.7 160.2L834.1 159.6L835.5 159.1L836.8 158.5L838.2 157.9L839.6 157.3L841.0 156.7L842.4 156.1L843.8 155.5L845.1 154.9L846.5 154.4L847.9 153.8L849.3 153.2L850.7 152.6L852.0 152.0L853.4 151.4L854.8 150.8L856.2 150.2L857.6 149.6L858.9 149.0L860.3 148.4L861.7 147.8L863.1 147.2L864.4 146.6L865.8 146.0L867.2 145.4L868.6 144.8L870.0 144.2L871.3 143.6L872.7 143.0L874.1 142.4L875.5 141.8L876.8 141.2L878.2 140.6L879.6 140.0L881.0 139.4L882.4 138.8L883.7 138.2L885.1 137.6L886.5 137.0L887.9 136.4L889.2 135.8L890.6 135.2L892.0 134.6L893.4 134.0L894.8 133.4L896.1 132.8L897.5 132.2L898.9 131.6L900.3 131.0L901.7 130.4L903.0 129.8L904.4 129.2L905.8 128.6L907.2 128.0L908.6 127.4L909.9 126.8L911.3 126.2L912.7 125.6L914.1 125.0L915.5 124.5L916.9 123.9L918.3 123.3L919.6 122.7L921.0 122.1L922.4 121.5L923.8 120.9L925.2 120.3L926.6 119.8L928.0 119.2L929.3 118.6L930.7 118.0L932.1 117.4L933.5 116.8L934.9 116.3L936.3 115.7L937.7 115.1L939.0 114.5L940.4 113.9L941.8 113.3L943.2 112.8L944.6 112.2L946.0 111.6L947.4 111.0L948.8 110.4L950.1 109.9L951.5 109.3L952.9 108.7L954.3 108.1L955.7 107.5L957.1 106.9L958.5 106.4L959.9 105.8L961.3 105.2L962.6 104.6L964.0 104.1L965.4 103.5L966.8 102.9L968.2 102.3L969.6 101.7L971.0 101.2L972.4 100.6L973.8 100.0L975.2 99.4L976.5 98.9L977.9 98.3L979.3 97.7L980.7 97.1L982.1 96.6L983.5 96.0L984.9 95.4L986.3 94.9L987.7 94.3L989.1 93.7L990.5 93.1L992.7 98.6L991.3 99.1L989.9 99.7L988.5 100.3L987.1 100.9L985.7 101.4L984.3 102.0L983.0 102.6L981.6 103.1L980.2 103.7L978.8 104.3L977.4 104.9L976.0 105.4L974.6 106.0L973.2 106.6L971.8 107.2L970.5 107.8L969.1 108.3L967.7 108.9L966.3 109.5L964.9 110.1L963.5 110.6L962.1 111.2L960.7 111.8L959.4 112.4L958.0 113.0L956.6 113.5L955.2 114.1L953.8 114.7L952.4 115.3L951.0 115.9L949.7 116.4L948.3 117.0L946.9 117.6L945.5 118.2L944.1 118.8L942.7 119.4L941.3 119.9L939.9 120.5L938.6 121.1L937.2 121.7L935.8 122.3L934.4 122.9L933.0 123.4L931.6 124.0L930.2 124.6L928.9 125.2L927.5 125.8L926.1 126.4L924.7 127.0L923.3 127.5L921.9 128.1L920.6 128.7L919.2 129.3L917.8 129.9L916.4 130.5L915.0 131.1L913.6 131.7L912.3 132.2L910.9 132.8L909.5 133.4L908.1 134.0L906.7 134.6L905.3 135.2L904.0 135.8L902.6 136.4L901.2 137.0L899.8 137.6L898.4 138.2L897.1 138.8L895.7 139.4L894.3 140.0L892.9 140.6L891.5 141.2L890.2 141.8L888.8 142.4L887.4 143.0L886.0 143.6L884.6 144.2L883.3 144.8L881.9 145.4L880.5 146.0L879.1 146.6L877.8 147.2L876.4 147.8L875.0 148.4L873.6 149.0L872.2 149.6L870.9 150.2L869.5 150.8L868.1 151.4L866.7 152.0L865.3 152.6L864.0 153.2L862.6 153.8L861.2 154.4L859.8 155.0L858.4 155.5L857.1 156.1L855.7 156.7L854.3 157.3L852.9 157.9L851.5 158.5L850.2 159.1L848.8 159.7L847.4 160.3L846.0 160.9L844.6 161.5L843.2 162.1L841.9 162.6L840.5 163.2L839.1 163.8L837.7 164.4L836.3 165.0L834.9 165.6L833.6 166.2L832.2 166.7L830.8 167.3L829.4 167.9L828.0 168.5L826.6 169.1L825.3 169.7L823.9 170.2L822.5 170.8L821.1 171.4L819.7 172.0L818.3 172.6L816.9 173.2L815.6 173.7L814.2 174.3L812.8 174.9L811.4 175.5L810.0 176.1L808.6 176.6L807.3 177.2L805.9 177.8L804.5 178.4L803.1 178.9L801.7 179.5L800.3 180.1L798.9 180.7L797.5 181.2L796.2 181.8L794.8 182.4L793.4 183.0L792.0 183.5L790.6 184.1L789.2 184.7L787.8 185.2L786.4 185.8L785.0 186.4L783.7 187.0L782.3 187.5L780.9 188.1L779.5 188.6L778.1 189.2L776.7 189.8L775.3 190.3L773.9 190.9L772.5 191.5L771.1 192.0L769.7 192.6L768.3 193.1L767.0 193.7L765.6 194.2L764.2 194.8L762.8 195.4L761.4 195.9L760.0 196.5L758.6 197.0L757.2 197.6L755.8 198.1L754.4 198.7L753.0 199.2L751.6 199.8L750.2 200.3L748.8 200.9L747.4 201.4L746.0 202.0L744.6 202.5L743.2 203.0L741.8 203.6L740.4 204.1L739.0 204.7L737.6 205.2L736.2 205.8L734.8 206.3L733.4 206.9L732.0 207.4L730.6 208.0L729.2 208.5L727.8 209.0L726.4 209.6L725.0 210.1L723.6 210.6L722.2 211.2L720.8 211.7L719.4 212.3L718.0 212.8L716.6 213.3L715.2 213.9L713.8 214.4L712.4 214.9L711.0 215.4L709.6 216.0L708.2 216.5L706.8 217.0L705.4 217.5L704.0 218.0L702.6 218.6L701.1 219.1L699.7 219.6L698.3 220.1L696.9 220.6L695.5 221.1L694.1 221.6L692.7 222.1L691.3 222.6L689.8 223.1L688.4 223.6L687.0 224.1L685.6 224.6L684.2 225.1L682.7 225.6L681.3 226.1L679.9 226.6L678.5 227.1L677.0 227.5L675.6 228.0L674.2 228.5L672.8 229.0L671.3 229.4L669.9 229.9L668.5 230.4L667.0 230.8L665.6 231.3L664.2 231.8L662.7 232.2L661.3 232.7L659.9 233.1L658.4 233.6L657.0 234.0L655.5 234.4L654.1 234.9L652.7 235.3L651.2 235.7L649.8 236.2L648.3 236.6L646.9 237.0L645.4 237.4L644.0 237.8L642.5 238.3L641.1 238.7L639.6 239.1L638.2 239.5L636.7 239.9L635.3 240.3L633.8 240.7L632.4 241.1L630.9 241.5L629.5 241.9L628.0 242.3L626.6 242.7L625.1 243.1L623.6 243.5L622.2 243.9L620.7 244.3L619.3 244.7L617.8 245.1L616.4 245.5L614.9 245.8L613.4 246.2L612.0 246.6L610.5 247.0L609.1 247.4L607.6 247.8L606.1 248.1L604.7 248.5L603.2 248.9L601.8 249.3L600.3 249.7L598.8 250.0L597.4 250.4L595.9 250.8L594.4 251.2L593.0 251.5L591.5 251.9L590.1 252.3L588.6 252.7L587.1 253.0L585.7 253.4L584.2 253.8L582.7 254.2L581.3 254.5L579.8 254.9L578.4 255.3L576.9 255.7L575.4 256.0L574.0 256.4L572.5 256.8L571.0 257.2L569.6 257.5L568.1 257.9L566.7 258.3L565.2 258.7L563.7 259.0L562.3 259.4L560.8 259.8L559.4 260.2L557.9 260.5L556.4 260.9L555.0 261.3L553.5 261.7L552.1 262.0L550.6 262.4L549.2 262.8L547.7 263.2L546.2 263.6L544.8 264.0L543.3 264.3L541.9 264.7L540.4 265.1L539.0 265.5L537.5 265.9L536.1 266.3L534.6 266.7L533.2 267.1L531.7 267.5L530.3 267.9L528.8 268.3L527.4 268.7L525.9 269.1L524.5 269.5L523.0 269.9L521.6 270.3L520.1 270.7L518.7 271.1L517.2 271.5L515.8 271.9L514.4 272.3L512.9 272.7L511.5 273.1L510.0 273.6L508.6 274.0L507.2 274.4L505.7 274.8L504.3 275.3L502.9 275.7L501.4 276.1L500.0 276.6L498.6 277.0L497.1 277.4L495.7 277.9L494.3 278.3L492.8 278.8L491.4 279.2L490.0 279.7L488.6 280.1L487.1 280.6L485.7 281.1L484.3 281.5L482.9 282.0L481.5 282.5L480.0 282.9L478.6 283.4L477.2 283.9L475.8 284.4L474.4 284.9L473.0 285.3L471.6 285.8L470.2 286.3L468.8 286.8L467.4 287.3L466.0 287.8L464.5 288.3L463.1 288.8L461.7 289.3L460.3 289.9L458.9 290.4L457.6 290.9L456.2 291.4L454.8 292.0L453.4 292.5L452.0 293.0L450.6 293.6L449.2 294.1L447.8 294.6L446.4 295.2L445.0 295.7L443.7 296.3L442.3 296.8L440.9 297.4L439.5 298.0L438.1 298.5L436.8 299.1L435.4 299.7L434.0 300.3L432.6 300.8L431.3 301.4L429.9 302.0L428.5 302.6L427.2 303.2L425.8 303.8L424.4 304.4L423.1 305.0L421.7 305.6L420.3 306.2L419.0 306.9L417.6 307.5L416.3 308.1L414.9 308.7L413.6 309.3L412.2 310.0L410.9 310.6L409.5 311.2L408.2 311.9L406.8 312.5L405.5 313.2L404.1 313.8L402.8 314.5L401.4 315.1L400.1 315.8L398.7 316.4L397.4 317.1L396.1 317.8L394.7 318.4L393.4 319.1L392.1 319.8L390.7 320.5L389.4 321.1L388.0 321.8L386.7 322.5L385.4 323.2L384.1 323.9L382.7 324.6L381.4 325.3L380.1 326.0L378.7 326.7L377.4 327.4L376.1 328.1L374.8 328.8L373.4 329.5L372.1 330.2L370.8 330.9L369.5 331.6L368.2 332.4L366.9 333.1L365.5 333.8L364.2 334.5L362.9 335.3L361.6 336.0L360.3 336.8L359.0 337.5L357.7 338.2L356.4 339.0L355.1 339.7L353.7 340.5L352.4 341.3L351.1 342.0L349.8 342.8L348.5 343.6L347.3 344.3L346.0 345.1L344.7 345.9L343.4 346.7L342.1 347.4L340.8 348.2L339.5 349.0L338.2 349.8L337.0 350.6L335.7 351.4L334.4 352.2L333.1 353.0L331.9 353.8L330.6 354.7L329.3 355.5L328.1 356.3L326.8 357.1L325.5 358.0L324.3 358.8L323.0 359.6L321.8 360.5L320.5 361.3L319.3 362.2L318.0 363.0L316.8 363.9L315.5 364.7L314.3 365.6L313.1 366.5L311.8 367.4L310.6 368.2L309.4 369.1L308.2 370.0L306.9 370.9L305.7 371.8L304.5 372.7L303.3 373.6L302.1 374.5L300.9 375.4L299.7 376.3L298.5 377.2L297.3 378.1L296.1 379.1L294.9 380.0L293.7 380.9L292.6 381.9L291.4 382.8L290.2 383.8L289.1 384.7L287.9 385.7L286.7 386.7L285.6 387.6L284.4 388.6L283.3 389.6L282.2 390.6L281.0 391.6L279.9 392.6L278.8 393.6L277.6 394.6L276.5 395.6L275.4 396.6L274.3 397.6L273.2 398.6L272.1 399.6L271.0 400.7L269.9 401.7L268.8 402.7L267.7 403.8L266.6 404.8L265.5 405.9L264.5 406.9L263.4 408.0L262.3 409.0L261.3 410.1L260.2 411.1L259.2 412.2L258.1 413.3L257.1 414.4L256.0 415.4L255.0 416.5L254.0 417.6L252.9 418.7L251.9 419.8L250.9 420.9L249.9 422.0L248.9 423.1L247.9 424.2L246.9 425.4L246.0 426.5L245.0 427.6L244.0 428.7L243.1 429.9L242.1 431.0L241.2 432.2L240.3 433.3L239.3 434.5L238.4 435.6L237.5 436.8L236.6 438.0L235.8 439.1L234.9 440.3L234.0 441.5L233.2 442.7L232.3 443.9L231.5 445.1L230.7 446.3L229.9 447.6L229.1 448.8L228.3 450.0L227.6 451.3L226.8 452.5L226.1 453.8L225.3 455.0L224.6 456.3L223.9 457.5L223.2 458.8L222.5 460.1L221.9 461.4L221.2 462.7L220.6 464.0L219.9 465.3L219.3 466.6L218.7 467.9L218.1 469.2L217.5 470.6L216.9 471.9L216.4 473.3L215.9 474.6L215.4 476.0L214.9 477.4L214.4 478.7L214.0 480.1L213.6 481.5L213.2 482.9L212.8 484.3L212.4 485.7L212.1 487.2L211.7 488.6L211.4 490.0L211.1 491.4L210.7 492.8L210.4 494.3L210.1 495.7L209.7 497.1L209.4 498.5L209.1 499.9L208.7 501.4L208.4 502.8L208.0 504.2L207.7 505.6L207.4 507.1L207.1 508.5L206.8 510.0L206.5 511.4L206.2 512.8L206.0 514.3L205.7 515.8L205.5 517.2L205.2 518.7L205.0 520.1L204.8 521.6L204.6 523.1L204.4 524.5L204.2 526.0L204.0 527.5L203.9 529.0L203.7 530.5L203.5 532.0L203.4 533.4L203.2 534.9L203.1 536.4L203.0 537.9L202.8 539.4L202.7 540.9L202.6 542.4L202.5 543.9L202.4 545.4L202.3 546.9L202.2 548.4L202.1 550.0L202.1 551.5L202.0 553.0L201.9 554.5L201.9 556.0L201.8 557.5L201.7 559.0L201.7 560.6L201.6 562.1L201.6 563.6L201.6 565.1L201.5 566.6L201.5 568.2L201.5 569.7L201.4 571.2L201.4 572.7L201.4 574.2L201.3 575.8L201.3 577.3L201.3 578.8L201.3 580.3L201.3 581.8L201.3 583.4L201.2 584.9L201.2 586.4L201.2 587.9L201.2 589.4L201.2 591.0L201.2 592.5L201.2 594.0L201.2 595.5L201.2 597.0L201.1 598.5L201.1 600.1L201.1 601.6L201.1 603.1L201.1 604.6L201.1 606.1L201.1 607.6L201.1 609.1L201.1 610.6L201.1 612.1L201.1 613.7L201.1 615.2L201.1 616.7L201.1 618.2L201.1 619.7L201.1 621.2L201.0 622.7L201.0 624.2L201.0 625.7L201.0 627.2L201.0 628.7L201.0 630.2L201.0 631.7L201.0 633.2L201.0 634.7L201.0 636.2L200.9 637.7L200.9 639.2L200.9 640.7L200.9 642.2L200.9 643.7L200.8 645.2L200.8 646.7L200.8 648.2L200.8 649.7L200.7 651.2L200.7 652.7L200.7 654.2L200.7 655.7L200.6 657.2L200.6 658.7L200.6 660.2L200.5 661.7L200.5 663.2L200.4 664.7L200.4 666.2L200.3 667.7L200.3 669.2L200.2 670.7L200.2 672.2L200.1 673.6L200.1 675.1L200.0 676.6L199.9 678.1L199.9 679.6L199.8 681.1L199.7 682.6L199.7 684.1L199.6 685.6L199.5 687.1L199.4 688.5L199.3 690.0Z" fill="#00f"/><path d="M995.4 75.1L996.4 75.0L997.4 75.0L998.4 74.9L999.4 74.8L1000.4 74.8L1001.4 74.7L1002.4 74.6L1003.4 74.6L1004.4 74.5L1005.4 74.4L1006.4 74.4L1007.4 74.3L1008.4 74.2L1009.4 74.2L1010.5 74.1L1011.5 74.0L1012.5 74.0L1013.5 73.9L1014.5 73.9L1015.5 73.8L1016.5 73.7L1017.5 73.7L1018.5 73.6L1019.5 73.6L1020.5 73.5L1021.5 73.4L1022.5 73.4L1023.5 73.3L1024.5 73.2L1025.5 73.2L1026.5 73.1L1027.5 73.1L1028.5 73.0L1029.5 72.9L1030.5 72.9L1031.5 72.8L1032.5 72.8L1033.6 72.7L1034.6 72.6L1035.6 72.6L1036.6 72.5L1037.6 72.5L1038.6 72.4L1039.6 72.3L1040.6 72.3L1041.6 72.2L1042.6 72.2L1043.6 72.1L1044.6 72.0L1045.6 72.0L1046.6 71.9L1047.6 71.9L1048.6 71.8L1049.6 71.7L1050.6 71.7L1051.6 71.6L1052.6 71.5L1053.7 71.5L1054.7 71.4L1055.7 71.4L1056.7 71.3L1057.7 71.2L1058.7 71.2L1059.7 71.1L1060.7 71.0L1061.7 71.0L1062.7 70.9L1063.7 70.8L1064.7 70.8L1065.7 70.7L1066.7 70.6L1067.7 70.6L1068.7 70.5L1069.7 70.4L1070.7 70.4L1071.7 70.3L1072.7 70.2L1073.8 70.1L1074.8 70.1L1075.8 70.0L1076.8 69.9L1077.8 69.8L1078.8 69.8L1079.8 69.7L1080.8 69.6L1081.8 69.5L1082.8 69.5L1083.8 69.4L1084.8 69.3L1085.8 69.2L1086.8 69.2L1087.8 69.1L1088.8 69.0L1089.8 68.9L1090.8 68.8L1091.8 68.7L1092.8 68.7L1093.8 68.6L1094.8 68.5L1095.8 68.4L1096.8 68.3L1097.8 68.2L1098.8 68.1L1099.8 68.1L1100.8 68.0L1101.8 67.9L1102.8 67.8L1103.8 67.7L1104.9 67.6L1105.9 67.5L1106.9 67.4L1107.9 67.3L1108.9 67.2L1109.9 67.1L1110.9 67.0L1111.9 66.9L1112.9 66.8L1113.9 66.7L1114.9 66.6L1115.9 66.5L1116.9 66.4L1117.9 66.3L1118.9 66.2L1119.9 66.0L1120.9 65.9L1121.9 65.8L1122.9 65.7L1123.9 65.6L1124.9 65.5L1125.9 65.4L1126.9 65.2L1127.9 65.1L1128.8 65.0L1129.8 64.9L1130.8 64.7L1131.8 64.6L1132.8 64.5L1133.8 64.4L1134.8 64.2L1135.8 64.1L1136.8 64.0L1137.8 63.8L1138.8 63.7L1139.8 63.6L1140.8 63.4L1141.8 63.3L1142.8 63.2L1143.8 63.0L1144.8 62.9L1145.8 62.7L1146.8 62.6L1147.8 62.4L1148.8 62.3L1149.8 62.1L1150.8 62.0L1151.8 61.8L1152.7 61.7L1153.7 61.5L1154.7 61.3L1155.7 61.2L1156.7 61.0L1157.7 60.9L1158.7 60.7L1159.7 60.5L1160.7 60.4L1161.7 60.2L1162.7 60.0L1163.7 59.8L1164.6 59.7L1165.6 59.5L1166.6 59.3L1167.6 59.1L1168.6 58.9L1169.6 58.8L1170.6 58.6L1171.6 58.4L1172.6 58.2L1173.5 58.0L1174.5 57.8L1175.5 57.6L1176.5 57.4L1177.5 57.2L1178.5 57.0L1179.5 56.8L1180.5 56.6L1181.4 56.4L1182.4 56.2L1183.4 56.0L1184.4 55.8L1185.4 55.5L1186.4 55.3L1187.3 55.1L1188.3 54.9L1189.3 54.7L1190.3 54.4L1191.3 54.2L1192.3 54.0L1193.2 53.7L1194.2 53.5L1195.2 53.3L1196.2 53.0L1197.2 52.8L1198.1 52.5L1199.1 52.3L1200.1 52.1L1201.1 51.8L1202.1 51.6L1203.0 51.3L1204.0 51.0L1205.0 50.8L1206.0 50.5L1206.9 50.3L1211.0 49.9L1219.0 49.7" fill="none" stroke="#000" stroke-width="5.0" stroke-linejoin="round"/><path d="M995.4 75.1L996.4 75.0L997.4 74.9L998.4 74.9L999.4 74.8L1000.4 74.8L1001.4 74.7L1002.4 74.6L1003.4 74.6L1004.4 74.5L1005.4 74.4L1006.4 74.4L1007.4 74.3L1008.4 74.3L1009.4 74.2L1010.5 74.1L1011.5 74.1L1012.5 74.0L1013.5 73.9L1014.5 73.9L1015.5 73.8L1016.5 73.8L1017.5 73.7L1018.5 73.6L1019.5 73.6L1020.5 73.5L1021.5 73.5L1022.5 73.4L1023.5 73.3L1024.5 73.3L1025.5 73.2L1026.5 73.1L1027.5 73.1L1028.5 73.0L1029.5 73.0L1030.5 72.9L1031.5 72.8L1032.5 72.8L1033.5 72.7L1034.5 72.7L1035.5 72.6L1036.5 72.5L1037.6 72.5L1038.6 72.4L1039.6 72.3L1040.6 72.3L1041.6 72.2L1042.6 72.2L1043.6 72.1L1044.6 72.0L1045.6 72.0L1046.6 71.9L1047.6 71.8L1048.6 71.8L1049.6 71.7L1050.6 71.6L1051.6 71.6L1052.6 71.5L1053.6 71.5L1054.6 71.4L1055.6 71.3L1056.6 71.3L1057.6 71.2L1058.6 71.1L1059.7 71.1L1060.7 71.0L1061.7 70.9L1062.7 70.9L1063.7 70.8L1064.7 70.7L1065.7 70.6L1066.7 70.6L1067.7 70.5L1068.7 70.4L1069.7 70.4L1070.7 70.3L1071.7 70.2L1072.7 70.2L1073.7 70.1L1074.7 70.0L1075.7 69.9L1076.7 69.9L1077.7 69.8L1078.7 69.7L1079.7 69.6L1080.7 69.6L1081.7 69.5L1082.7 69.4L1083.7 69.3L1084.8 69.3L1085.8 69.2L1086.8 69.1L1087.8 69.0L1088.8 68.9L1089.8 68.9L1090.8 68.8L1091.8 68.7L1092.8 68.6L1093.8 68.5L1094.8 68.5L1095.8 68.4L1096.8 68.3L1097.8 68.2L1098.8 68.1L1099.8 68.0L1100.8 67.9L1101.8 67.9L1102.8 67.8L1103.8 67.7L1104.8 67.6L1105.8 67.5L1106.8 67.4L1107.8 67.3L1108.8 67.2L1109.8 67.1L1110.8 67.0L1111.8 66.9L1112.8 66.8L1113.8 66.7L1114.8 66.6L1115.8 66.6L1116.8 66.5L1117.8 66.4L1118.8 66.3L1119.8 66.2L1120.8 66.0L1121.8 65.9L1122.8 65.8L1123.8 65.7L1124.8 65.6L1125.8 65.5L1126.8 65.4L1127.8 65.3L1128.8 65.2L1129.8 65.1L1130.8 65.0L1131.8 64.9L1132.8 64.8L1133.8 64.6L1134.8 64.5L1135.8 64.4L1136.8 64.3L1137.8 64.2L1138.8 64.1L1139.8 63.9L1140.8 63.8L1141.8 63.7L1142.8 63.6L1143.8 63.4L1144.8 63.3L1145.8 63.2L1146.8 63.1L1147.8 62.9L1148.8 62.8L1149.8 62.7L1150.8 62.5L1151.8 62.4L1152.8 62.3L1153.8 62.1L1154.8 62.0L1155.8 61.9L1156.8 61.7L1157.8 61.6L1158.7 61.5L1159.7 61.3L1160.7 61.2L1161.7 61.0L1162.7 60.9L1163.7 60.7L1164.7 60.6L1165.7 60.4L1166.7 60.3L1167.7 60.1L1168.7 60.0L1169.7 59.8L1170.7 59.7L1171.7 59.5L1172.7 59.4L1173.7 59.2L1174.6 59.0L1175.6 58.9L1176.6 58.7L1177.6 58.5L1178.6 58.4L1179.6 58.2L1180.6 58.0L1181.6 57.9L1182.6 57.7L1183.6 57.5L1184.6 57.4L1185.5 57.2L1186.5 57.0L1187.5 56.8L1188.5 56.6L1189.5 56.5L1190.5 56.3L1191.5 56.1L1192.5 55.9L1193.4 55.7L1194.4 55.5L1195.4 55.3L1196.4 55.2L1197.4 55.0L1198.4 54.8L1199.4 54.6L1200.4 54.4L1201.3 54.2L1202.3 54.0L1203.3 53.8L1204.3 53.6L1205.3 53.4L1206.3 53.2L1207.3 52.9L1208.2 52.7L1209.2 52.5L1210.2 52.3L1211.2 52.1L1212.2 51.9L1216.0 49.9L1229.6 49.8" fill="none" stroke="#f00" stroke-width="5.2" stroke-linejoin="round"/><path d="M995.4 74.2L996.4 74.1L997.4 74.0L998.4 74.0L999.4 73.9L1000.4 73.8L1001.4 73.7L1002.4 73.7L1003.4 73.6L1004.4 73.5L1005.4 73.5L1006.4 73.4L1007.4 73.3L1008.4 73.2L1009.4 73.2L1010.4 73.1L1011.4 73.0L1012.4 73.0L1013.4 72.9L1014.4 72.8L1015.4 72.8L1016.4 72.7L1017.4 72.7L1018.4 72.6L1019.4 72.5L1020.4 72.5L1021.4 72.4L1022.5 72.3L1023.5 72.3L1024.5 72.2L1025.5 72.2L1026.5 72.1L1027.5 72.0L1028.5 72.0L1029.5 71.9L1030.5 71.8L1031.5 71.8L1032.5 71.7L1033.5 71.7L1034.5 71.6L1035.5 71.5L1036.5 71.5L1037.5 71.4L1038.5 71.4L1039.5 71.3L1040.5 71.2L1041.5 71.2L1042.6 71.1L1043.6 71.1L1044.6 71.0L1045.6 70.9L1046.6 70.9L1047.6 70.8L1048.6 70.8L1049.6 70.7L1050.6 70.6L1051.6 70.6L1052.6 70.5L1053.6 70.5L1054.6 70.4L1055.6 70.3L1056.6 70.3L1057.6 70.2L1058.6 70.1L1059.6 70.1L1060.7 70.0L1061.7 69.9L1062.7 69.9L1063.7 69.8L1064.7 69.8L1065.7 69.7L1066.7 69.6L1067.7 69.6L1068.7 69.5L1069.7 69.4L1070.7 69.4L1071.7 69.3L1072.7 69.2L1073.7 69.1L1074.7 69.1L1075.7 69.0L1076.7 68.9L1077.7 68.9L1078.8 68.8L1079.8 68.7L1080.8 68.6L1081.8 68.6L1082.8 68.5L1083.8 68.4L1084.8 68.3L1085.8 68.3L1086.8 68.2L1087.8 68.1L1088.8 68.0L1089.8 67.9L1090.8 67.9L1091.8 67.8L1092.8 67.7L1093.8 67.6L1094.8 67.5L1095.8 67.4L1096.8 67.4L1097.8 67.3L1098.8 67.2L1099.8 67.1L1100.8 67.0L1101.8 66.9L1102.8 66.8L1103.8 66.7L1104.8 66.6L1105.8 66.5L1106.8 66.4L1107.8 66.3L1108.9 66.2L1109.9 66.1L1110.9 66.0L1111.9 65.9L1112.9 65.8L1113.9 65.7L1114.9 65.6L1115.9 65.5L1116.9 65.4L1117.9 65.3L1118.9 65.2L1119.9 65.1" fill="none" stroke="#00f" stroke-width="7.4" stroke-linejoin="round"/><path d="M1100.8 67.0L1101.8 66.9L1102.8 66.8L1103.8 66.7L1104.8 66.6L1105.8 66.5L1106.8 66.4L1107.8 66.3L1108.9 66.2L1109.9 66.1L1110.9 66.0L1111.9 65.9L1112.9 65.8L1113.9 65.7L1114.9 65.6L1115.9 65.5L1116.9 65.4L1117.9 65.3L1118.9 65.2L1119.9 65.1L1120.9 65.0L1121.9 64.9L1122.9 64.7L1123.9 64.6L1124.9 64.5L1125.9 64.4L1126.8 64.3L1127.8 64.1L1128.8 64.0L1129.8 63.9L1130.8 63.8L1131.8 63.6L1132.8 63.5L1133.8 63.4L1134.8 63.2L1135.8 63.1L1136.8 63.0L1137.8 62.8L1138.8 62.7L1139.8 62.6L1140.8 62.4L1141.8 62.3L1142.8 62.1L1143.8 62.0L1144.8 61.8L1145.8 61.7L1146.8 61.5L1147.8 61.4L1148.8 61.2L1149.8 61.1L1150.7 60.9L1151.7 60.7L1152.7 60.6L1153.7 60.4L1154.7 60.3L1155.7 60.1L1156.7 59.9L1157.7 59.7L1158.7 59.6L1159.7 59.4L1160.7 59.2L1161.6 59.0L1162.6 58.8L1163.6 58.7L1164.6 58.5L1165.6 58.3L1166.6 58.1L1167.6 57.9L1168.6 57.7L1169.6 57.5L1170.5 57.3L1171.5 57.1L1172.5 56.9L1173.5 56.7L1174.5 56.5L1175.5 56.3L1176.5 56.1L1177.4 55.9L1178.4 55.7L1179.4 55.4L1180.4 55.2L1181.4 55.0L1182.4 54.8L1183.3 54.5L1184.3 54.3L1185.3 54.1L1186.3 53.9L1187.3 53.6L1188.2 53.4L1189.2 53.1L1190.2 52.9L1191.2 52.6L1192.2 52.4L1193.1 52.1L1194.1 51.9L1195.1 51.6L1196.1 51.4L1197.1 51.1L1198.0 50.9L1203.0 49.8L1211.3 49.6" fill="none" stroke="#00f" stroke-width="5.8" stroke-linejoin="round"/><path d="M193.4 484.1L193.4 482.5L193.3 481.0L193.3 479.5L193.3 478.0L193.2 476.5L193.2 475.0L193.2 473.5L193.2 472.0L193.2 470.5L193.1 469.0L193.1 467.5L193.1 466.0L193.1 464.5L193.1 462.9L193.1 461.4L193.1 459.9L193.1 458.4L193.1 456.9L193.1 455.4L193.1 453.9L193.1 452.4L193.1 450.9L193.1 449.4L193.1 447.9L193.1 446.4L193.1 444.9L193.1 443.4L193.2 441.9L193.2 440.3L193.2 438.8L193.2 437.3L193.3 435.8L193.3 434.3L193.3 432.8L193.4 431.3L193.4 429.8L193.4 428.3L193.5 426.8L193.5 425.3L193.6 423.8L193.7 422.3L193.7 420.8L193.8 419.3L193.8 417.8L193.9 416.3L193.9 414.8L193.9 413.3L193.9 411.8L193.9 410.3L193.9 408.8L193.9 407.3L193.9 405.8L193.9 404.3L193.9 402.8L193.8 401.3L193.8 399.8L193.8 398.3L193.8 396.8L193.8 395.3L193.7 393.8L193.7 392.3L193.7 390.8L193.7 389.3L193.7 387.8L193.7 386.3L193.7 384.8L193.7 383.3L193.7 381.8L193.8 380.3L193.8 378.8L193.9 377.3L193.9 375.9L193.9 374.4L193.9 372.9L193.9 371.4L193.9 369.9L193.9 368.4L193.8 366.9L193.8 365.4L193.8 363.9L193.7 362.4L193.7 360.9L193.7 359.4L193.6 357.9L193.6 356.4L193.6 354.9L193.5 353.4L193.5 351.9L193.5 350.4L193.5 348.9L193.5 347.3L193.5 345.8L193.5 344.3L193.5 342.8L193.4 341.2L193.4 339.7L193.3 338.1L193.3 336.5L193.3 335.0L193.3 333.4L193.4 331.8L193.5 330.1L193.4 328.5L193.5 326.9L193.7 325.3L194.0 323.6L194.3 322.0L194.6 320.4L195.0 318.8L195.4 317.2L195.8 315.6L196.2 314.1L196.7 312.5L197.3 311.0L197.8 309.5L198.4 308.0L199.1 306.5L199.7 305.0L200.4 303.5L201.1 302.1L201.9 300.7L202.7 299.3L203.5 297.9L204.3 296.5L205.2 295.2L206.1 293.8L207.0 292.5L208.0 291.2L209.0 290.0L210.0 288.7L211.0 287.5L212.1 286.3L213.2 285.1L214.3 284.0L215.4 282.9L216.5 281.8L217.7 280.7L218.9 279.6L220.1 278.6L221.3 277.6L222.5 276.6L223.7 275.6L225.0 274.7L226.3 273.7L227.5 272.8L228.8 271.9L230.1 271.0L231.4 270.2L232.8 269.3L234.1 268.5L235.5 267.8L236.8 267.0L238.2 266.2L239.6 265.5L240.9 264.8L242.3 264.1L243.7 263.4L245.1 262.7L246.5 262.0L247.9 261.3L249.3 260.6L250.6 259.9L252.0 259.3L253.4 258.6L254.8 257.9L256.1 257.2L257.5 256.6L258.9 255.9L260.2 255.2L261.6 254.5L263.0 253.8L264.4 253.2L265.7 252.5L267.1 251.9L268.5 251.2L269.9 250.6L271.3 249.9L272.7 249.3L274.0 248.7L275.4 248.1L276.8 247.4L278.2 246.8L279.6 246.2L281.0 245.6L282.4 245.0L283.8 244.4L285.2 243.8L286.6 243.3L288.0 242.7L289.4 242.1L290.8 241.5L292.2 241.0L293.6 240.4L295.1 239.8L296.5 239.3L297.9 238.7L299.3 238.2L300.7 237.6L302.1 237.1L303.5 236.6L305.0 236.0L306.4 235.5L307.8 235.0L309.2 234.5L310.6 233.9L312.1 233.4L313.5 232.9L314.9 232.4L316.3 231.9L317.8 231.4L319.2 230.9L320.6 230.4L322.0 229.9L323.5 229.4L324.9 228.9L326.3 228.4L327.7 227.9L329.2 227.4L330.6 226.9L332.0 226.4L333.5 225.9L334.9 225.4L336.3 225.0L337.8 224.5L339.2 224.0L340.6 223.5L342.1 223.1L343.5 222.6L344.9 222.1L346.4 221.6L347.8 221.2L349.2 220.7L350.7 220.3L352.1 219.8L353.5 219.3L355.0 218.9L356.4 218.4L357.8 217.9L359.3 217.5L360.7 217.0L362.1 216.6L363.6 216.1L365.0 215.7L366.4 215.2L367.9 214.7L369.3 214.3L370.7 213.8L372.2 213.4L373.6 212.9L375.0 212.5L376.5 212.0L377.9 211.5L379.3 211.1L380.7 210.6L382.2 210.2L383.6 209.7L385.0 209.2L386.4 208.8L387.9 208.3L389.3 207.9L390.7 207.4L392.1 206.9L393.6 206.5L395.0 206.0L396.4 205.5L397.8 205.0L399.2 204.6L400.6 204.1L402.1 203.6L403.5 203.1L404.9 202.6L406.3 202.2L407.7 201.7L409.1 201.2L410.5 200.7L411.9 200.2L413.3 199.7L414.7 199.2L416.1 198.7L417.5 198.2L418.9 197.7L420.3 197.2L421.7 196.6L423.1 196.1L424.5 195.6L425.9 195.1L427.3 194.6L428.7 194.0L430.1 193.5L431.4 193.0L432.8 192.4L434.2 191.9L435.6 191.3L437.0 190.8L438.3 190.2L439.7 189.7L441.1 189.1L442.5 188.6L443.8 188.0L445.2 187.4L446.6 186.8L447.9 186.3L449.3 185.7L450.6 185.1L452.0 184.5L453.3 183.9L454.7 183.3L456.0 182.7L457.4 182.1L458.7 181.5L460.1 180.9L461.4 180.2L462.8 179.6L464.1 179.0L465.4 178.3L466.8 177.7L468.1 177.0L469.4 176.4L470.7 175.7L472.0 175.1L473.4 174.4L474.7 173.7L476.0 173.0L477.3 172.4L478.6 171.7L479.9 171.0L481.3 170.3L482.6 169.6L483.9 168.9L485.2 168.2L486.5 167.4L487.8 166.7L489.1 166.0L490.4 165.3L491.7 164.5L493.0 163.8L494.3 163.1L495.6 162.3L496.8 161.6L498.1 160.8L499.4 160.1L500.7 159.3L502.0 158.5L503.3 157.8L504.6 157.0L505.9 156.2L507.1 155.5L508.4 154.7L509.7 153.9L511.0 153.1L512.3 152.4L513.5 151.6L514.8 150.8L516.1 150.0L517.4 149.2L518.7 148.4L519.9 147.6L521.2 146.8L522.5 146.0L523.8 145.2L525.0 144.4L526.3 143.6L527.6 142.8L528.8 142.0L530.1 141.2L531.4 140.3L532.7 139.5L533.9 138.7L535.2 137.9L536.5 137.1L537.7 136.3L539.0 135.5L540.3 134.6L541.6 133.8L542.8 133.0L544.1 132.2L545.4 131.4L546.7 130.5L547.9 129.7L549.2 128.9L550.5 128.1L551.8 127.3L553.1 126.5L554.4 125.7L555.6 124.9L556.9 124.1L558.2 123.3L559.5 122.5L560.8 121.7L562.1 120.9L563.4 120.1L564.7 119.3L566.0 118.6L567.4 117.8L568.7 117.1L570.0 116.3L571.3 115.6L572.6 114.8L574.0 114.1L575.3 113.4L576.6 112.6L578.0 111.9L579.3 111.2L580.7 110.5L582.0 109.9L583.4 109.2L584.7 108.5L586.1 107.9L587.5 107.2L588.8 106.6L590.2 106.0L591.6 105.3L593.0 104.7L594.4 104.2L595.8 103.6L597.2 103.0L598.6 102.4L600.0 101.9L601.4 101.4L602.8 100.8L604.2 100.3L605.6 99.8L607.0 99.3L608.5 98.8L609.9 98.3L611.3 97.9L612.7 97.4L614.2 97.0L615.6 96.5L617.1 96.1L618.5 95.7L619.9 95.3L621.4 94.9L622.8 94.5L624.3 94.1L625.8 93.7L627.2 93.4L628.7 93.0L630.2 92.7L631.6 92.4L633.1 92.1L634.6 91.8L636.1 91.5L637.5 91.2L639.0 90.9L640.5 90.6L642.0 90.3L643.5 90.1L645.0 89.8L646.4 89.6L647.9 89.3L649.4 89.1L650.9 88.9L652.4 88.6L653.9 88.4L655.4 88.2L656.9 87.9L658.4 87.7L659.9 87.5L661.4 87.3L662.9 87.1L664.4 86.9L665.9 86.7L667.4 86.5L668.9 86.3L670.4 86.1L671.9 85.9L673.4 85.8L674.9 85.6L676.5 85.4L678.0 85.3L679.5 85.1L681.0 84.9L682.5 84.8L684.0 84.6L685.5 84.5L687.0 84.4L688.6 84.2L690.1 84.1L691.6 84.0L693.1 83.8L694.6 83.7L696.1 83.6L697.7 83.5L699.2 83.3L700.7 83.2L702.2 83.1L703.7 83.0L705.3 82.9L706.8 82.8L708.3 82.7L709.8 82.6L711.3 82.5L712.8 82.4L714.4 82.3L715.9 82.2L717.4 82.1L718.9 82.0L720.4 81.9L721.9 81.8L723.5 81.7L725.0 81.6L726.5 81.5L728.0 81.4L729.5 81.4L731.0 81.3L732.5 81.2L734.1 81.1L735.6 81.0L737.1 80.9L738.6 80.8L740.1 80.7L741.6 80.7L743.1 80.6L744.6 80.5L746.1 80.4L747.7 80.3L749.2 80.2L750.7 80.2L752.2 80.1L753.7 80.0L755.2 79.9L756.7 79.9L758.2 79.8L759.7 79.7L761.3 79.6L762.8 79.5L764.3 79.5L765.8 79.4L767.3 79.3L768.8 79.3L770.3 79.2L771.8 79.1L773.3 79.0L774.8 79.0L776.3 78.9L777.8 78.8L779.4 78.8L780.9 78.7L782.4 78.6L783.9 78.5L785.4 78.5L786.9 78.4L788.4 78.3L789.9 78.3L791.4 78.2L792.9 78.1L794.4 78.1L795.9 78.0L797.4 78.0L798.9 77.9L800.4 77.8L801.9 77.8L803.4 77.7L805.0 77.6L806.5 77.6L808.0 77.5L809.5 77.5L811.0 77.4L812.5 77.3L814.0 77.3L815.5 77.2L817.0 77.2L818.5 77.1L820.0 77.0L821.5 77.0L823.0 76.9L824.5 76.9L826.0 76.8L827.5 76.7L829.0 76.7L830.5 76.6L832.0 76.6L833.5 76.5L835.0 76.5L836.5 76.4L838.0 76.3L839.5 76.3L841.0 76.2L842.5 76.2L844.0 76.1L845.5 76.1L847.0 76.0L848.5 76.0L850.0 75.9L851.5 75.8L853.0 75.8L854.5 75.7L856.0 75.7L857.5 75.6L859.0 75.6L860.5 75.5L862.0 75.5L863.5 75.4L865.0 75.4L866.5 75.3L868.0 75.2L869.5 75.2L871.0 75.1L872.5 75.1L874.0 75.0L875.5 75.0L877.0 74.9L878.5 74.9L880.0 74.8L881.5 74.8L883.0 74.7L884.5 74.7L886.0 74.6L887.5 74.5L889.0 74.5L890.5 74.4L892.0 74.4L893.5 74.3L895.0 74.3L896.5 74.2L898.0 74.2L899.5 74.1L901.0 74.1L902.5 74.0L903.9 74.0L905.4 73.9L906.9 73.8L908.4 73.8L909.9 73.7L911.4 73.7L912.9 73.6L914.4 73.6L915.9 73.5L917.4 73.5L918.9 73.4L920.4 73.4L921.9 73.3L923.4 73.3L924.9 73.2L926.4 73.1L927.9 73.1L929.4 73.0L930.9 73.0L932.4 72.9L933.9 72.9L935.4 72.8L936.9 72.8L938.4 72.7L939.8 72.7L941.3 72.6L942.8 72.5L944.3 72.5L945.8 72.4L947.3 72.4L948.8 72.3L950.3 72.3L951.8 72.2L953.3 72.1L954.8 72.1L956.3 72.0L957.8 71.9L959.3 71.9L960.8 71.8L962.3 71.8L963.8 71.7L965.3 71.6L966.8 71.6L968.2 71.5L969.7 71.4L971.2 71.4L972.7 71.3L974.2 71.2L975.7 71.2L977.2 71.1L978.7 71.0L980.2 70.9L981.7 70.9L983.2 70.8L984.7 70.7L986.2 70.7L987.7 70.6L989.2 70.5L990.7 70.4L992.2 70.4L993.6 70.3L995.1 70.2L996.6 70.1L998.1 70.1L999.6 70.0L1001.1 69.9L1002.6 69.8L1003.0 77.2L1001.5 77.3L1000.0 77.4L998.5 77.5L997.0 77.5L995.5 77.6L994.0 77.7L992.5 77.8L991.0 77.8L989.5 77.9L988.0 78.0L986.5 78.1L985.0 78.1L983.5 78.2L982.0 78.3L980.5 78.3L979.0 78.4L977.6 78.5L976.1 78.5L974.6 78.6L973.1 78.7L971.6 78.7L970.1 78.8L968.6 78.9L967.1 78.9L965.6 79.0L964.1 79.1L962.6 79.1L961.1 79.2L959.6 79.3L958.1 79.3L956.6 79.4L955.1 79.5L953.6 79.5L952.1 79.6L950.6 79.7L949.1 79.7L947.6 79.8L946.1 79.8L944.6 79.9L943.1 80.0L941.6 80.0L940.1 80.1L938.6 80.2L937.2 80.2L935.7 80.3L934.2 80.4L932.7 80.4L931.2 80.5L929.7 80.5L928.2 80.6L926.7 80.7L925.2 80.7L923.7 80.8L922.2 80.8L920.7 80.9L919.2 81.0L917.7 81.0L916.2 81.1L914.7 81.1L913.2 81.2L911.7 81.3L910.2 81.3L908.7 81.4L907.2 81.4L905.7 81.5L904.2 81.5L902.7 81.6L901.2 81.7L899.7 81.7L898.2 81.8L896.7 81.8L895.2 81.9L893.7 81.9L892.2 82.0L890.8 82.0L889.3 82.1L887.8 82.1L886.3 82.2L884.8 82.3L883.3 82.3L881.8 82.4L880.3 82.4L878.8 82.5L877.3 82.5L875.8 82.6L874.3 82.6L872.8 82.7L871.3 82.7L869.8 82.8L868.3 82.9L866.8 82.9L865.3 83.0L863.8 83.0L862.3 83.1L860.8 83.1L859.3 83.2L857.8 83.2L856.3 83.3L854.8 83.3L853.3 83.4L851.8 83.5L850.3 83.5L848.8 83.6L847.3 83.6L845.8 83.7L844.3 83.7L842.8 83.8L841.3 83.9L839.8 83.9L838.3 84.0L836.8 84.0L835.3 84.1L833.8 84.1L832.3 84.2L830.8 84.3L829.3 84.3L827.8 84.4L826.3 84.4L824.8 84.5L823.3 84.6L821.8 84.6L820.3 84.7L818.8 84.7L817.3 84.8L815.8 84.9L814.3 84.9L812.8 85.0L811.3 85.0L809.8 85.1L808.3 85.2L806.8 85.2L805.3 85.3L803.8 85.4L802.3 85.4L800.8 85.5L799.3 85.6L797.8 85.6L796.3 85.7L794.8 85.8L793.2 85.8L791.7 85.9L790.2 86.0L788.7 86.0L787.2 86.1L785.7 86.2L784.2 86.2L782.7 86.3L781.2 86.4L779.7 86.4L778.2 86.5L776.7 86.6L775.2 86.7L773.7 86.7L772.2 86.8L770.7 86.9L769.2 87.0L767.7 87.0L766.2 87.1L764.7 87.2L763.2 87.3L761.6 87.3L760.1 87.4L758.6 87.5L757.1 87.6L755.6 87.7L754.1 87.7L752.6 87.8L751.1 87.9L749.6 88.0L748.1 88.1L746.6 88.1L745.1 88.2L743.6 88.3L742.0 88.4L740.5 88.5L739.0 88.6L737.5 88.7L736.0 88.7L734.5 88.8L733.0 88.9L731.5 89.0L730.0 89.1L728.5 89.2L727.0 89.3L725.4 89.4L723.9 89.5L722.4 89.6L720.9 89.7L719.4 89.8L717.9 89.8L716.4 89.9L714.9 90.0L713.4 90.1L711.8 90.2L710.3 90.3L708.8 90.4L707.3 90.6L705.8 90.7L704.3 90.8L702.8 90.9L701.3 91.0L699.8 91.1L698.3 91.2L696.8 91.3L695.3 91.5L693.8 91.6L692.3 91.7L690.8 91.8L689.3 92.0L687.8 92.1L686.3 92.3L684.8 92.4L683.3 92.5L681.8 92.7L680.3 92.8L678.8 93.0L677.3 93.2L675.8 93.3L674.3 93.5L672.8 93.7L671.4 93.8L669.9 94.0L668.4 94.2L666.9 94.4L665.4 94.6L664.0 94.8L662.5 95.0L661.0 95.2L659.5 95.4L658.1 95.7L656.6 95.9L655.2 96.1L653.7 96.4L652.2 96.7L650.8 96.9L649.3 97.2L647.9 97.5L646.4 97.8L645.0 98.1L643.6 98.4L642.1 98.7L640.7 99.0L639.3 99.3L637.8 99.7L636.4 100.0L635.0 100.4L633.6 100.7L632.2 101.1L630.8 101.4L629.3 101.8L627.9 102.2L626.5 102.6L625.1 102.9L623.7 103.3L622.3 103.7L620.9 104.1L619.6 104.5L618.2 105.0L616.8 105.4L615.4 105.8L614.0 106.3L612.6 106.7L611.3 107.2L609.9 107.6L608.5 108.1L607.2 108.6L605.8 109.1L604.5 109.6L603.1 110.1L601.8 110.6L600.4 111.2L599.1 111.7L597.8 112.3L596.5 112.8L595.1 113.4L593.8 114.0L592.5 114.6L591.2 115.2L589.9 115.8L588.6 116.4L587.3 117.1L586.0 117.7L584.7 118.4L583.4 119.1L582.1 119.7L580.8 120.4L579.5 121.1L578.2 121.8L576.9 122.5L575.6 123.3L574.3 124.0L573.1 124.7L571.8 125.5L570.5 126.2L569.2 127.0L568.0 127.7L566.7 128.5L565.4 129.2L564.1 130.0L562.9 130.8L561.6 131.6L560.3 132.4L559.1 133.2L557.8 134.0L556.5 134.8L555.2 135.6L554.0 136.4L552.7 137.2L551.4 138.0L550.2 138.8L548.9 139.6L547.6 140.5L546.4 141.3L545.1 142.1L543.8 142.9L542.5 143.7L541.3 144.5L540.0 145.4L538.7 146.2L537.4 147.0L536.2 147.8L534.9 148.6L533.6 149.5L532.3 150.3L531.1 151.1L529.8 151.9L528.5 152.7L527.2 153.5L525.9 154.3L524.7 155.1L523.4 155.9L522.1 156.7L520.8 157.5L519.5 158.3L518.2 159.1L516.9 159.9L515.6 160.7L514.3 161.5L513.0 162.3L511.8 163.1L510.5 163.9L509.2 164.7L507.9 165.4L506.6 166.2L505.3 167.0L503.9 167.8L502.6 168.5L501.3 169.3L500.0 170.1L498.7 170.8L497.4 171.6L496.1 172.3L494.8 173.1L493.4 173.8L492.1 174.5L490.8 175.3L489.5 176.0L488.1 176.7L486.8 177.5L485.5 178.2L484.1 178.9L482.8 179.6L481.5 180.3L480.1 181.0L478.8 181.7L477.4 182.4L476.1 183.1L474.7 183.8L473.4 184.4L472.0 185.1L470.7 185.8L469.3 186.4L468.0 187.1L466.6 187.7L465.2 188.4L463.9 189.0L462.5 189.6L461.1 190.3L459.7 190.9L458.4 191.5L457.0 192.1L455.6 192.7L454.2 193.3L452.8 193.9L451.5 194.5L450.1 195.1L448.7 195.7L447.3 196.3L445.9 196.9L444.5 197.4L443.1 198.0L441.7 198.6L440.3 199.1L438.9 199.7L437.5 200.3L436.1 200.8L434.7 201.4L433.3 201.9L431.9 202.4L430.5 203.0L429.1 203.5L427.7 204.0L426.3 204.6L424.8 205.1L423.4 205.6L422.0 206.1L420.6 206.6L419.2 207.2L417.8 207.7L416.4 208.2L414.9 208.7L413.5 209.2L412.1 209.7L410.7 210.2L409.3 210.7L407.8 211.2L406.4 211.7L405.0 212.2L403.6 212.7L402.2 213.2L400.7 213.6L399.3 214.1L397.9 214.6L396.5 215.1L395.0 215.6L393.6 216.1L392.2 216.5L390.7 217.0L389.3 217.5L387.9 218.0L386.5 218.5L385.0 218.9L383.6 219.4L382.2 219.9L380.7 220.3L379.3 220.8L377.9 221.3L376.5 221.8L375.0 222.2L373.6 222.7L372.2 223.2L370.7 223.6L369.3 224.1L367.9 224.6L366.5 225.1L365.0 225.5L363.6 226.0L362.2 226.5L360.8 226.9L359.3 227.4L357.9 227.9L356.5 228.3L355.0 228.8L353.6 229.3L352.2 229.8L350.8 230.2L349.3 230.7L347.9 231.2L346.5 231.7L345.1 232.1L343.7 232.6L342.2 233.1L340.8 233.6L339.4 234.0L338.0 234.5L336.5 235.0L335.1 235.5L333.7 236.0L332.3 236.5L330.9 236.9L329.5 237.4L328.0 237.9L326.6 238.4L325.2 238.9L323.8 239.4L322.4 239.9L321.0 240.4L319.6 240.9L318.2 241.4L316.8 241.9L315.4 242.5L314.0 243.0L312.6 243.5L311.2 244.0L309.8 244.5L308.4 245.1L307.0 245.6L305.6 246.1L304.2 246.7L302.8 247.2L301.4 247.8L300.0 248.3L298.6 248.9L297.3 249.4L295.9 250.0L294.5 250.5L293.1 251.1L291.7 251.7L290.4 252.2L289.0 252.8L287.6 253.4L286.2 254.0L284.9 254.6L283.5 255.2L282.1 255.8L280.8 256.4L279.4 257.0L278.1 257.6L276.7 258.2L275.4 258.8L274.0 259.5L272.7 260.1L271.3 260.7L270.0 261.4L268.6 262.0L267.3 262.7L265.9 263.3L264.6 264.0L263.3 264.6L261.9 265.3L260.6 266.0L259.3 266.7L258.0 267.4L256.7 268.1L255.4 268.9L254.1 269.6L252.8 270.4L251.5 271.2L250.3 271.9L249.0 272.7L247.7 273.5L246.5 274.3L245.2 275.1L244.0 275.9L242.8 276.7L241.6 277.6L240.4 278.4L239.2 279.2L238.0 280.0L236.8 280.9L235.7 281.7L234.5 282.5L233.4 283.4L232.3 284.2L231.1 285.1L230.1 285.9L229.0 286.8L227.9 287.7L226.9 288.6L225.9 289.6L224.9 290.5L223.9 291.5L223.0 292.4L222.1 293.4L221.2 294.4L220.3 295.4L219.4 296.5L218.6 297.5L217.8 298.6L217.0 299.7L216.3 300.8L215.5 301.9L214.8 303.0L214.1 304.2L213.4 305.3L212.8 306.5L212.2 307.7L211.6 308.9L211.0 310.2L210.5 311.4L210.0 312.6L209.5 313.9L209.0 315.2L208.6 316.4L208.2 317.7L207.8 319.0L207.4 320.3L207.1 321.7L206.8 323.0L206.5 324.3L206.3 325.7L206.1 327.0L205.9 328.4L205.8 329.8L205.4 331.1L205.3 332.6L205.1 334.0L205.0 335.5L204.9 336.9L204.8 338.4L204.7 339.9L204.6 341.4L204.5 342.9L204.5 344.4L204.5 345.9L204.4 347.5L204.4 349.0L204.3 350.5L204.3 352.0L204.2 353.5L204.2 355.0L204.1 356.6L204.0 358.1L203.9 359.6L203.8 361.1L203.7 362.6L203.6 364.1L203.5 365.6L203.4 367.1L203.4 368.6L203.3 370.1L203.2 371.6L203.1 373.1L203.0 374.6L202.9 376.1L202.9 377.6L202.8 379.1L202.8 380.6L202.7 382.1L202.7 383.6L202.6 385.1L202.5 386.6L202.4 388.1L202.3 389.6L202.1 391.1L202.0 392.6L201.9 394.1L201.7 395.6L201.6 397.1L201.5 398.6L201.3 400.1L201.2 401.6L201.0 403.1L200.9 404.6L200.7 406.1L200.6 407.6L200.5 409.1L200.4 410.6L200.2 412.1L200.1 413.5L200.0 415.0L199.9 416.5L199.8 418.0L199.8 419.5L199.7 421.0L199.6 422.5L199.6 424.0L199.5 425.5L199.4 427.0L199.4 428.5L199.3 430.0L199.2 431.5L199.2 433.0L199.1 434.5L199.0 436.0L199.0 437.5L198.9 439.0L198.8 440.5L198.8 442.0L198.7 443.5L198.6 445.0L198.6 446.5L198.5 448.0L198.4 449.5L198.4 451.0L198.3 452.5L198.3 454.0L198.2 455.5L198.2 457.0L198.1 458.5L198.1 460.0L198.0 461.5L198.0 463.0L198.0 464.5L197.9 466.0L197.9 467.5L197.9 469.0L197.9 470.5L197.9 472.0L197.9 473.5L197.9 475.0L197.9 476.5L197.9 478.0L197.9 479.5L197.9 481.0L198.0 482.5L198.0 484.0Z" fill="#00f"/><path d="M193.4 484.1L193.4 482.5L193.3 481.0L193.3 479.5L193.3 478.0L193.2 476.5L193.2 475.0L193.2 473.5L193.2 472.0L193.2 470.5L193.1 469.0L193.1 467.5L193.1 466.0L193.1 464.5L193.1 462.9L193.1 461.4L193.1 459.9L193.1 458.4L193.1 456.9L193.1 455.4L193.1 453.9L193.1 452.4L193.1 450.9L193.1 449.4L193.1 447.9L193.1 446.4L193.1 444.9L193.1 443.4L193.2 441.9L193.2 440.3L193.2 438.8L193.2 437.3L193.3 435.8L193.3 434.3L193.3 432.8L193.4 431.3L193.4 429.8L193.4 428.3L193.5 426.8L193.5 425.3L193.6 423.8L193.7 422.3L193.7 420.8L193.8 419.3L193.8 417.8L193.9 416.3L193.9 414.8L193.9 413.3L193.9 411.8L193.9 410.3L193.9 408.8L193.9 407.3L193.9 405.8L193.9 404.3L193.9 402.8L193.8 401.3L193.8 399.8L193.8 398.3L193.8 396.8L193.8 395.3L193.7 393.8L193.7 392.3L193.7 390.8L193.7 389.3L193.7 387.8L193.7 386.3L193.7 384.8L193.7 383.3L193.7 381.8L193.8 380.3L193.8 378.8L193.9 377.3L193.9 375.9L193.9 374.4L193.9 372.9L193.9 371.4L193.9 369.9L193.9 368.4L193.8 366.9L193.8 365.4L193.8 363.9L193.7 362.4L193.7 360.9L193.7 359.4L193.6 357.9L193.6 356.4L193.6 354.9L193.5 353.4L193.5 351.9L193.5 350.4L193.5 348.9L193.5 347.3L193.5 345.8L193.5 344.3L193.5 342.8L193.4 341.2L193.4 339.7L193.3 338.1L193.3 336.5L193.3 335.0L193.3 333.4L193.4 331.8L193.5 330.1L193.4 328.5L193.5 326.9L193.7 325.3L194.0 323.6L194.3 322.0L194.6 320.4L195.0 318.8L195.4 317.2L195.8 315.6L196.2 314.1L196.7 312.5L197.3 311.0L197.8 309.5L198.4 308.0L199.1 306.5L199.7 305.0L200.4 303.5L201.1 302.1L201.9 300.7L202.7 299.3L203.5 297.9L204.3 296.5L205.2 295.2L206.1 293.8L207.0 292.5L208.0 291.2L209.0 290.0L210.0 288.7L211.0 287.5L212.1 286.3L213.2 285.1L214.3 284.0L215.4 282.9L216.5 281.8L217.7 280.7L218.9 279.6L220.1 278.6L221.3 277.6L222.5 276.6L223.7 275.6L225.0 274.7L226.3 273.7L227.5 272.8L228.8 271.9L230.1 271.0L231.4 270.2L232.8 269.3L234.1 268.5L235.5 267.8L236.8 267.0L238.2 266.2L239.6 265.5L240.9 264.8L242.3 264.1L243.7 263.4L245.1 262.7L246.5 262.0L247.9 261.3L249.3 260.6L250.6 259.9L252.0 259.3L253.4 258.6L254.8 257.9L256.1 257.2L257.5 256.6L258.9 255.9L260.2 255.2L261.6 254.5L263.0 253.8L264.4 253.2L265.7 252.5L267.1 251.9L268.5 251.2L269.9 250.6L271.3 249.9L272.7 249.3L274.0 248.7L275.4 248.1L276.8 247.4L278.2 246.8L279.6 246.2L281.0 245.6L282.4 245.0L283.8 244.4L285.2 243.8L286.6 243.3L288.0 242.7L289.4 242.1L290.8 241.5L292.2 241.0L293.6 240.4L295.1 239.8L296.5 239.3L297.9 238.7L299.3 238.2L300.7 237.6L302.1 237.1L303.5 236.6L305.0 236.0L306.4 235.5L307.8 235.0L309.2 234.5L310.6 233.9L312.1 233.4L313.5 232.9L314.9 232.4L316.3 231.9L317.8 231.4L319.2 230.9L320.6 230.4L322.0 229.9L323.5 229.4L324.9 228.9L326.3 228.4L327.7 227.9L329.2 227.4L330.6 226.9L332.0 226.4L333.5 225.9L334.9 225.4L336.3 225.0L337.8 224.5L339.2 224.0L340.6 223.5L342.1 223.1L343.5 222.6L344.9 222.1L346.4 221.6L347.8 221.2L349.2 220.7L350.7 220.3L352.1 219.8L353.5 219.3L355.0 218.9L356.4 218.4L357.8 217.9L359.3 217.5L360.7 217.0L362.1 216.6L363.6 216.1L365.0 215.7L366.4 215.2L367.9 214.7L369.3 214.3L370.7 213.8L372.2 213.4L373.6 212.9L375.0 212.5L376.5 212.0L377.9 211.5L379.3 211.1L380.7 210.6L382.2 210.2L383.6 209.7L385.0 209.2L386.4 208.8L387.9 208.3L389.3 207.9L390.7 207.4L392.1 206.9L393.6 206.5L395.0 206.0L396.4 205.5L397.8 205.0L399.2 204.6L400.6 204.1L402.1 203.6L403.5 203.1L404.9 202.6L406.3 202.2L407.7 201.7L409.1 201.2L410.5 200.7L411.9 200.2L413.3 199.7L414.7 199.2L416.1 198.7L417.5 198.2L418.9 197.7L420.3 197.2L421.7 196.6L423.1 196.1L424.5 195.6L425.9 195.1L427.3 194.6L428.7 194.0L430.1 193.5L431.4 193.0L432.8 192.4L434.2 191.9L435.6 191.3L437.0 190.8L438.3 190.2L439.7 189.7L441.1 189.1L442.5 188.6L443.8 188.0L445.2 187.4L446.6 186.8L447.9 186.3L449.3 185.7L450.6 185.1L452.0 184.5L453.3 183.9L454.7 183.3L456.0 182.7L457.4 182.1L458.7 181.5L460.1 180.9L461.4 180.2L462.8 179.6L464.1 179.0L465.4 178.3L466.8 177.7L468.1 177.0L469.4 176.4L470.7 175.7L472.0 175.1L473.4 174.4L474.7 173.7L476.0 173.0L477.3 172.4L478.6 171.7L479.9 171.0L481.3 170.3L482.6 169.6L483.9 168.9L485.2 168.2L486.5 167.4L487.8 166.7L489.1 166.0L490.4 165.3L491.7 164.5L493.0 163.8L494.3 163.1L495.6 162.3L496.8 161.6L498.1 160.8L499.4 160.1L500.7 159.3L502.0 158.5L503.3 157.8L504.6 157.0L505.9 156.2L507.1 155.5L508.4 154.7L509.7 153.9L511.0 153.1L512.3 152.4L513.5 151.6L514.8 150.8L516.1 150.0L517.4 149.2L518.7 148.4L519.9 147.6L521.2 146.8L522.5 146.0L523.8 145.2L525.0 144.4L526.3 143.6L527.6 142.8L528.8 142.0L530.1 141.2L531.4 140.3L532.7 139.5L533.9 138.7L535.2 137.9L536.5 137.1L537.7 136.3L539.0 135.5L540.3 134.6L541.6 133.8L542.8 133.0L544.1 132.2L545.4 131.4L546.7 130.5L547.9 129.7L549.2 128.9L550.5 128.1L551.8 127.3L553.1 126.5L554.4 125.7L555.6 124.9L556.9 124.1L558.2 123.3L559.5 122.5L560.8 121.7L562.1 120.9L563.4 120.1L564.7 119.3L566.0 118.6L567.4 117.8L568.7 117.1L570.0 116.3L571.3 115.6L572.6 114.8L574.0 114.1L575.3 113.4L576.6 112.6L578.0 111.9L579.3 111.2L580.7 110.5L582.0 109.9L583.4 109.2L584.7 108.5L586.1 107.9L587.5 107.2L588.8 106.6L590.2 106.0L591.6 105.3L593.0 104.7L594.4 104.2L595.8 103.6L597.2 103.0L598.6 102.4L600.0 101.9L601.4 101.4L602.8 100.8L604.2 100.3L605.6 99.8L607.0 99.3L608.5 98.8L609.9 98.3L611.3 97.9L612.7 97.4L614.2 97.0L615.6 96.5L617.1 96.1L618.5 95.7L619.9 95.3L621.4 94.9L622.8 94.5L624.3 94.1L625.8 93.7L627.2 93.4L628.7 93.0L630.2 92.7L631.6 92.4L633.1 92.1L634.6 91.8L636.1 91.5L637.5 91.2L639.0 90.9L640.5 90.6L642.0 90.3L643.5 90.1L645.0 89.8L646.4 89.6L647.9 89.3L649.4 89.1L650.9 88.9L652.4 88.6L653.9 88.4L655.4 88.2L656.9 87.9L658.4 87.7L659.9 87.5L661.4 87.3L662.9 87.1L664.4 86.9L665.9 86.7L667.4 86.5L668.9 86.3L670.4 86.1L671.9 85.9L673.4 85.8L674.9 85.6L676.5 85.4L678.0 85.3L679.5 85.1L681.0 84.9L682.5 84.8L684.0 84.6L685.5 84.5L687.0 84.4L688.6 84.2L690.1 84.1L691.6 84.0L693.1 83.8L694.6 83.7L696.1 83.6L697.7 83.5L699.2 83.3L700.7 83.2L702.2 83.1L703.7 83.0L705.3 82.9L706.8 82.8L708.3 82.7L709.8 82.6L711.3 82.5L712.8 82.4L714.4 82.3L715.9 82.2L717.4 82.1L718.9 82.0L720.4 81.9L721.9 81.8L723.5 81.7L725.0 81.6L726.5 81.5L728.0 81.4L729.5 81.4L731.0 81.3L732.5 81.2L734.1 81.1L735.6 81.0L737.1 80.9L738.6 80.8L740.1 80.7L741.6 80.7L743.1 80.6L744.6 80.5L746.1 80.4L747.7 80.3L749.2 80.2L750.7 80.2L752.2 80.1L753.7 80.0L755.2 79.9L756.7 79.9L758.2 79.8L759.7 79.7L761.3 79.6L762.8 79.5L764.3 79.5L765.8 79.4L767.3 79.3L768.8 79.3L770.3 79.2L771.8 79.1L773.3 79.0L774.8 79.0L776.3 78.9L777.8 78.8L779.4 78.8L780.9 78.7L782.4 78.6L783.9 78.5L785.4 78.5L786.9 78.4L788.4 78.3L789.9 78.3L791.4 78.2L792.9 78.1L794.4 78.1L795.9 78.0L797.4 78.0L798.9 77.9L800.4 77.8L801.9 77.8L803.4 77.7L805.0 77.6L806.5 77.6L808.0 77.5L809.5 77.5L811.0 77.4L812.5 77.3L814.0 77.3L815.5 77.2L817.0 77.2L818.5 77.1L820.0 77.0L821.5 77.0L823.0 76.9L824.5 76.9L826.0 76.8L827.5 76.7L829.0 76.7L830.5 76.6L832.0 76.6L833.5 76.5L835.0 76.5L836.5 76.4L838.0 76.3L839.5 76.3L841.0 76.2L842.5 76.2L844.0 76.1L845.5 76.1L847.0 76.0L848.5 76.0L850.0 75.9L851.5 75.8L853.0 75.8L854.5 75.7L856.0 75.7L857.5 75.6L859.0 75.6L860.5 75.5L862.0 75.5L863.5 75.4L865.0 75.4L866.5 75.3L868.0 75.2L869.5 75.2L871.0 75.1L872.5 75.1L874.0 75.0L875.5 75.0L877.0 74.9L878.5 74.9L880.0 74.8L881.5 74.8L883.0 74.7L884.5 74.7L886.0 74.6L887.5 74.5L889.0 74.5L890.5 74.4L892.0 74.4L893.5 74.3L895.0 74.3L896.5 74.2L898.0 74.2L899.5 74.1L901.0 74.1L902.5 74.0L903.9 74.0L905.4 73.9L906.9 73.8L908.4 73.8L909.9 73.7L911.4 73.7L912.9 73.6L914.4 73.6L915.9 73.5L917.4 73.5L918.9 73.4L920.4 73.4L921.9 73.3L923.4 73.3L924.9 73.2L926.4 73.1L927.9 73.1L929.4 73.0L930.9 73.0L932.4 72.9L933.9 72.9L935.4 72.8L936.9 72.8L938.4 72.7L939.8 72.7L941.3 72.6L942.8 72.5L944.3 72.5L945.8 72.4L947.3 72.4L948.8 72.3L950.3 72.3L951.8 72.2L953.3 72.1L954.8 72.1L956.3 72.0L957.8 71.9L959.3 71.9L960.8 71.8L962.3 71.8L963.8 71.7L965.3 71.6L966.8 71.6L968.2 71.5L969.7 71.4L971.2 71.4L972.7 71.3L974.2 71.2L975.7 71.2L977.2 71.1L978.7 71.0L980.2 70.9L981.7 70.9L983.2 70.8L984.7 70.7L986.2 70.7L987.7 70.6L989.2 70.5L990.7 70.4L992.2 70.4L993.6 70.3L995.1 70.2L996.6 70.1L998.1 70.1L999.6 70.0L1001.1 69.9L1002.6 69.8L1002.6 69.8L1001.1 69.9L999.6 70.0L998.1 70.1L996.6 70.1L995.1 70.2L993.6 70.3L992.2 70.4L990.7 70.4L989.2 70.5L987.7 70.6L986.2 70.7L984.7 70.7L983.2 70.8L981.7 70.9L980.2 71.0L978.7 71.1L977.2 71.1L975.7 71.2L974.2 71.3L972.7 71.4L971.2 71.5L969.7 71.5L968.3 71.6L966.8 71.7L965.3 71.8L963.8 71.9L962.3 72.0L960.8 72.0L959.3 72.1L957.8 72.2L956.3 72.3L954.8 72.4L953.3 72.5L951.8 72.5L950.3 72.6L948.8 72.7L947.3 72.8L945.8 72.9L944.4 73.0L942.9 73.1L941.4 73.1L939.9 73.2L938.4 73.3L936.9 73.4L935.4 73.5L933.9 73.5L932.4 73.6L930.9 73.7L929.4 73.8L927.9 73.9L926.4 73.9L924.9 74.0L923.4 74.1L921.9 74.2L920.4 74.3L918.9 74.3L917.4 74.4L916.0 74.5L914.5 74.6L913.0 74.6L911.5 74.7L910.0 74.8L908.5 74.9L907.0 74.9L905.5 75.0L904.0 75.1L902.5 75.2L901.0 75.2L899.5 75.3L898.0 75.4L896.5 75.4L895.0 75.5L893.5 75.6L892.0 75.6L890.5 75.7L889.0 75.8L887.5 75.8L886.0 75.9L884.5 75.9L883.0 76.0L881.5 76.1L880.0 76.1L878.5 76.2L877.0 76.2L875.5 76.3L874.0 76.3L872.5 76.4L871.1 76.4L869.6 76.5L868.1 76.6L866.6 76.6L865.1 76.7L863.6 76.7L862.1 76.8L860.6 76.8L859.1 76.9L857.6 76.9L856.1 77.0L854.6 77.1L853.1 77.1L851.6 77.2L850.1 77.2L848.6 77.3L847.1 77.3L845.6 77.4L844.1 77.5L842.6 77.5L841.1 77.6L839.6 77.6L838.1 77.7L836.6 77.8L835.1 77.8L833.6 77.9L832.1 77.9L830.6 78.0L829.1 78.1L827.6 78.1L826.1 78.2L824.5 78.2L823.0 78.3L821.5 78.4L820.0 78.4L818.5 78.5L817.0 78.6L815.5 78.6L814.0 78.7L812.5 78.8L811.0 78.8L809.5 78.9L808.0 79.0L806.5 79.0L805.0 79.1L803.5 79.2L802.0 79.2L800.5 79.3L799.0 79.4L797.5 79.4L796.0 79.5L794.5 79.6L793.0 79.6L791.5 79.7L790.0 79.8L788.5 79.9L787.0 79.9L785.4 80.0L783.9 80.1L782.4 80.1L780.9 80.2L779.4 80.3L777.9 80.4L776.4 80.4L774.9 80.5L773.4 80.6L771.9 80.7L770.4 80.7L768.9 80.8L767.4 80.9L765.9 81.0L764.4 81.1L762.8 81.1L761.3 81.2L759.8 81.3L758.3 81.4L756.8 81.5L755.3 81.5L753.8 81.6L752.3 81.7L750.8 81.8L749.3 81.9L747.7 82.0L746.2 82.0L744.7 82.1L743.2 82.2L741.7 82.3L740.2 82.4L738.7 82.5L737.2 82.6L735.7 82.7L734.1 82.7L732.6 82.8L731.1 82.9L729.6 83.0L728.1 83.1L726.6 83.2L725.1 83.3L723.6 83.4L722.0 83.5L720.5 83.6L719.0 83.7L717.5 83.8L716.0 83.9L714.5 84.0L713.0 84.1L711.4 84.2L709.9 84.3L708.4 84.4L706.9 84.5L705.4 84.6L703.9 84.7L702.3 84.8L700.8 84.9L699.3 85.0L697.8 85.2L696.3 85.3L694.8 85.4L693.3 85.5L691.7 85.7L690.2 85.8L688.7 85.9L687.2 86.1L685.7 86.2L684.2 86.4L682.7 86.5L681.2 86.7L679.7 86.8L678.1 87.0L676.6 87.2L675.1 87.3L673.6 87.5L672.1 87.7L670.6 87.9L669.1 88.1L667.6 88.3L666.1 88.5L664.6 88.7L663.1 88.9L661.7 89.1L660.2 89.3L658.7 89.6L657.2 89.8L655.7 90.0L654.2 90.2L652.7 90.5L651.2 90.7L649.8 91.0L648.3 91.2L646.8 91.5L645.3 91.7L643.8 92.0L642.4 92.2L640.9 92.5L639.4 92.8L637.9 93.1L636.5 93.4L635.0 93.7L633.5 94.0L632.1 94.3L630.6 94.6L629.2 95.0L627.7 95.3L626.3 95.7L624.8 96.0L623.4 96.4L621.9 96.8L620.5 97.2L619.1 97.6L617.6 98.0L616.2 98.4L614.8 98.9L613.3 99.3L611.9 99.8L610.5 100.3L609.1 100.7L607.7 101.2L606.3 101.7L604.9 102.2L603.5 102.7L602.1 103.3L600.7 103.8L599.3 104.3L597.9 104.9L596.5 105.5L595.2 106.0L593.8 106.6L592.4 107.2L591.0 107.8L589.7 108.5L588.3 109.1L587.0 109.7L585.6 110.4L584.3 111.0L582.9 111.7L581.6 112.4L580.3 113.1L578.9 113.8L577.6 114.5L576.3 115.2L575.0 115.9L573.7 116.7L572.4 117.4L571.0 118.2L569.7 118.9L568.4 119.7L567.1 120.4L565.8 121.2L564.5 122.0L563.3 122.8L562.0 123.6L560.7 124.4L559.4 125.2L558.1 126.0L556.8 126.8L555.5 127.6L554.3 128.4L553.0 129.2L551.7 130.0L550.4 130.8L549.2 131.6L547.9 132.5L546.6 133.3L545.4 134.1L544.1 134.9L542.8 135.8L541.6 136.6L540.3 137.4L539.0 138.2L537.8 139.1L536.5 139.9L535.2 140.7L533.9 141.5L532.7 142.4L531.4 143.2L530.1 144.0L528.9 144.8L527.6 145.6L526.3 146.5L525.1 147.3L523.8 148.1L522.5 148.9L521.2 149.7L520.0 150.5L518.7 151.3L517.4 152.1L516.1 152.9L514.9 153.7L513.6 154.5L512.3 155.3L511.0 156.1L509.8 156.9L508.5 157.7L507.2 158.5L505.9 159.2L504.6 160.0L503.3 160.8L502.0 161.6L500.8 162.3L499.5 163.1L498.2 163.9L496.9 164.6L495.6 165.4L494.3 166.1L493.0 166.9L491.7 167.6L490.4 168.4L489.1 169.1L487.8 169.8L486.5 170.6L485.2 171.3L483.9 172.0L482.6 172.7L481.2 173.4L479.9 174.1L478.6 174.8L477.3 175.5L476.0 176.2L474.6 176.9L473.3 177.6L472.0 178.3L470.7 178.9L469.3 179.6L468.0 180.3L466.7 180.9L465.3 181.6L464.0 182.2L462.6 182.8L461.3 183.5L459.9 184.1L458.6 184.7L457.2 185.4L455.9 186.0L454.5 186.6L453.2 187.2L451.8 187.8L450.4 188.4L449.1 189.0L447.7 189.6L446.3 190.1L445.0 190.7L443.6 191.3L442.2 191.9L440.8 192.4L439.5 193.0L438.1 193.6L436.7 194.1L435.3 194.7L433.9 195.2L432.5 195.8L431.1 196.3L429.7 196.8L428.4 197.4L427.0 197.9L425.6 198.4L424.2 198.9L422.8 199.5L421.4 200.0L420.0 200.5L418.6 201.0L417.2 201.5L415.8 202.0L414.3 202.5L412.9 203.0L411.5 203.6L410.1 204.1L408.7 204.6L407.3 205.1L405.9 205.6L404.5 206.1L403.1 206.6L401.7 207.1L400.3 207.6L398.9 208.1L397.4 208.6L396.0 209.1L394.6 209.6L393.2 210.1L391.8 210.6L390.4 211.1L389.0 211.6L387.5 212.1L386.1 212.6L384.7 213.1L383.3 213.6L381.9 214.1L380.5 214.6L379.1 215.1L377.6 215.6L376.2 216.1L374.8 216.6L373.4 217.1L372.0 217.6L370.5 218.1L369.1 218.6L367.7 219.1L366.3 219.6L364.9 220.1L363.4 220.6L362.0 221.1L360.6 221.6L359.2 222.1L357.8 222.6L356.3 223.1L354.9 223.6L353.5 224.1L352.1 224.6L350.6 225.0L349.2 225.5L347.8 226.0L346.4 226.5L345.0 227.0L343.5 227.5L342.1 228.0L340.7 228.5L339.3 229.0L337.8 229.5L336.4 230.0L335.0 230.4L333.6 230.9L332.2 231.4L330.7 231.9L329.3 232.4L327.9 232.9L326.5 233.4L325.1 233.9L323.6 234.4L322.2 234.9L320.8 235.4L319.4 235.9L318.0 236.4L316.6 236.9L315.1 237.5L313.7 238.0L312.3 238.5L310.9 239.0L309.5 239.6L308.1 240.1L306.7 240.6L305.3 241.2L303.9 241.7L302.5 242.3L301.1 242.8L299.7 243.4L298.3 244.0L296.9 244.5L295.5 245.1L294.1 245.7L292.7 246.2L291.4 246.8L290.0 247.4L288.6 248.0L287.2 248.6L285.8 249.2L284.5 249.8L283.1 250.4L281.7 251.0L280.3 251.6L279.0 252.3L277.6 252.9L276.2 253.5L274.9 254.2L273.5 254.8L272.1 255.4L270.8 256.1L269.4 256.7L268.1 257.4L266.7 258.1L265.4 258.7L264.0 259.4L262.7 260.1L261.3 260.8L260.0 261.5L258.7 262.2L257.3 262.8L256.0 263.5L254.6 264.2L253.3 264.9L251.9 265.5L250.5 266.2L249.2 266.9L247.8 267.6L246.5 268.3L245.1 269.0L243.8 269.7L242.4 270.4L241.1 271.1L239.8 271.8L238.5 272.6L237.2 273.3L235.9 274.1L234.6 274.9L233.3 275.7L232.1 276.6L230.9 277.4L229.6 278.3L228.4 279.2L227.3 280.1L226.1 281.1L225.0 282.0L223.9 283.0L222.8 284.0L221.7 285.0L220.6 286.0L219.6 287.1L218.6 288.2L217.6 289.2L216.6 290.4L215.7 291.5L214.8 292.6L213.9 293.8L213.0 295.0L212.2 296.2L211.3 297.4L210.5 298.6L209.8 299.9L209.0 301.2L208.3 302.5L207.6 303.8L207.0 305.1L206.3 306.4L205.7 307.7L205.1 309.1L204.6 310.5L204.1 311.8L203.6 313.2L203.1 314.6L202.7 316.0L202.2 317.5L201.9 318.9L201.5 320.4L201.2 321.8L200.9 323.3L200.7 324.7L200.4 326.2L200.3 327.7L200.1 329.2L200.2 330.7L200.1 332.2L200.1 333.7L200.1 335.2L200.1 336.8L200.1 338.3L200.2 339.8L200.2 341.3L200.3 342.8L200.3 344.4L200.3 345.9L200.2 347.4L200.1 348.9L200.1 350.4L200.0 352.0L199.8 353.5L199.7 355.0L199.6 356.5L199.4 358.0L199.2 359.5L199.1 361.0L198.9 362.5L198.7 364.0L198.5 365.5L198.4 367.0L198.2 368.5L198.0 370.0L197.9 371.5L197.7 373.0L197.6 374.5L197.5 376.0L197.4 377.4L197.3 378.9L197.3 380.4L197.2 381.9L197.1 383.4L197.1 384.9L196.9 386.4L196.8 387.9L196.7 389.4L196.6 390.9L196.4 392.4L196.3 393.9L196.1 395.4L195.9 396.9L195.8 398.4L195.6 399.8L195.4 401.3L195.2 402.8L195.1 404.3L194.9 405.8L194.7 407.3L194.6 408.8L194.4 410.3L194.3 411.8L194.2 413.3L194.0 414.8L193.9 416.3L193.8 417.8L193.8 419.3L193.7 420.8L193.7 422.3L193.6 423.8L193.5 425.3L193.5 426.8L193.4 428.3L193.4 429.8L193.4 431.3L193.3 432.8L193.3 434.3L193.3 435.8L193.2 437.3L193.2 438.8L193.2 440.3L193.2 441.9L193.1 443.4L193.1 444.9L193.1 446.4L193.1 447.9L193.1 449.4L193.1 450.9L193.1 452.4L193.1 453.9L193.1 455.4L193.1 456.9L193.1 458.4L193.1 459.9L193.1 461.4L193.1 462.9L193.1 464.5L193.1 466.0L193.1 467.5L193.1 469.0L193.2 470.5L193.2 472.0L193.2 473.5L193.2 475.0L193.2 476.5L193.3 478.0L193.3 479.5L193.3 481.0L193.4 482.5L193.4 484.1Z" fill="#f00"/><path d="M193.4 484.1L193.4 482.5L193.3 481.0L193.3 479.5L193.3 478.0L193.2 476.5L193.2 475.0L193.2 473.5L193.2 472.0L193.2 470.5L193.1 469.0L193.1 467.5L193.1 466.0L193.1 464.5L193.1 462.9L193.1 461.4L193.1 459.9L193.1 458.4L193.1 456.9L193.1 455.4L193.1 453.9L193.1 452.4L193.1 450.9L193.1 449.4L193.1 447.9L193.1 446.4L193.1 444.9L193.1 443.4L193.2 441.9L193.2 440.3L193.2 438.8L193.2 437.3L193.3 435.8L193.3 434.3L193.3 432.8L193.4 431.3L193.4 429.8L193.4 428.3L193.5 426.8L193.5 425.3L193.6 423.8L193.7 422.3L193.7 420.8L193.8 419.3L193.8 417.8L193.9 416.3L193.9 414.8L193.9 413.3L193.9 411.8L193.9 410.3L193.9 408.8L193.9 407.3L193.9 405.8L193.9 404.3L193.9 402.8L193.8 401.3L193.8 399.8L193.8 398.3L193.8 396.8L193.8 395.3L193.7 393.8L193.7 392.3L193.7 390.8L193.7 389.3L193.7 387.8L193.7 386.3L193.7 384.8L193.7 383.3L193.7 381.8L193.8 380.3L193.8 378.8L193.9 377.3L193.9 375.9L193.9 374.4L193.9 372.9L193.9 371.4L193.9 369.9L193.9 368.4L193.8 366.9L193.8 365.4L193.8 363.9L193.7 362.4L193.7 360.9L193.7 359.4L193.6 357.9L193.6 356.4L193.6 354.9L193.5 353.4L193.5 351.9L193.5 350.4L193.5 348.9L193.5 347.3L193.5 345.8L193.5 344.3L193.5 342.8L193.4 341.2L193.4 339.7L193.3 338.1L193.3 336.5L193.3 335.0L193.3 333.4L193.4 331.8L193.5 330.1L193.4 328.5L193.5 326.9L193.7 325.3L194.0 323.6L194.3 322.0L194.6 320.4L195.0 318.8L195.4 317.2L195.8 315.6L196.2 314.1L196.7 312.5L197.3 311.0L197.8 309.5L198.4 308.0L199.1 306.5L199.7 305.0L200.4 303.5L201.1 302.1L201.9 300.7L202.7 299.3L203.5 297.9L204.3 296.5L205.2 295.2L206.1 293.8L207.0 292.5L208.0 291.2L209.0 290.0L210.0 288.7L211.0 287.5L212.1 286.3L213.2 285.1L214.3 284.0L215.4 282.9L216.5 281.8L217.7 280.7L218.9 279.6L220.1 278.6L221.3 277.6L222.5 276.6L223.7 275.6L225.0 274.7L226.3 273.7L227.5 272.8L228.8 271.9L230.1 271.0L231.4 270.2L232.8 269.3L234.1 268.5L235.5 267.8L236.8 267.0L238.2 266.2L239.6 265.5L240.9 264.8L242.3 264.1L243.7 263.4L245.1 262.7L246.5 262.0L247.9 261.3L249.3 260.6L250.6 259.9L252.0 259.3L253.4 258.6L254.8 257.9L256.1 257.2L257.5 256.6L258.9 255.9L260.2 255.2L261.6 254.5L263.0 253.8L264.4 253.2L265.7 252.5L267.1 251.9L268.5 251.2L269.9 250.6L271.3 249.9L272.7 249.3L274.0 248.7L275.4 248.1L276.8 247.4L278.2 246.8L279.6 246.2L281.0 245.6L282.4 245.0L283.8 244.4L285.2 243.8L286.6 243.3L288.0 242.7L289.4 242.1L290.8 241.5L292.2 241.0L293.6 240.4L295.1 239.8L296.5 239.3L297.9 238.7L299.3 238.2L300.7 237.6L302.1 237.1L303.5 236.6L305.0 236.0L306.4 235.5L307.8 235.0L309.2 234.5L310.6 233.9L312.1 233.4L313.5 232.9L314.9 232.4L316.3 231.9L317.8 231.4L319.2 230.9L320.6 230.4L322.0 229.9L323.5 229.4L324.9 228.9L326.3 228.4L327.7 227.9L329.2 227.4L330.6 226.9L332.0 226.4L333.5 225.9L334.9 225.4L336.3 225.0L337.8 224.5L339.2 224.0L340.6 223.5L342.1 223.1L343.5 222.6L344.9 222.1L346.4 221.6L347.8 221.2L349.2 220.7L350.7 220.3L352.1 219.8L353.5 219.3L355.0 218.9L356.4 218.4L357.8 217.9L359.3 217.5L360.7 217.0L362.1 216.6L363.6 216.1L365.0 215.7L366.4 215.2L367.9 214.7L369.3 214.3L370.7 213.8L372.2 213.4L373.6 212.9L375.0 212.5L376.5 212.0L377.9 211.5L379.3 211.1L380.7 210.6L382.2 210.2L383.6 209.7L385.0 209.2L386.4 208.8L387.9 208.3L389.3 207.9L390.7 207.4L392.1 206.9L393.6 206.5L395.0 206.0L396.4 205.5L397.8 205.0L399.2 204.6L400.6 204.1L402.1 203.6L403.5 203.1L404.9 202.6L406.3 202.2L407.7 201.7L409.1 201.2L410.5 200.7L411.9 200.2L413.3 199.7L414.7 199.2L416.1 198.7L417.5 198.2L418.9 197.7L420.3 197.2L421.7 196.6L423.1 196.1L424.5 195.6L425.9 195.1L427.3 194.6L428.7 194.0L430.1 193.5L431.4 193.0L432.8 192.4L434.2 191.9L435.6 191.3L437.0 190.8L438.3 190.2L439.7 189.7L441.1 189.1L442.5 188.6L443.8 188.0L445.2 187.4L446.6 186.8L447.9 186.3L449.3 185.7L450.6 185.1L452.0 184.5L453.3 183.9L454.7 183.3L456.0 182.7L457.4 182.1L458.7 181.5L460.1 180.9L461.4 180.2L462.8 179.6L464.1 179.0L465.4 178.3L466.8 177.7L468.1 177.0L469.4 176.4L470.7 175.7L472.0 175.1L473.4 174.4L474.7 173.7L476.0 173.0L477.3 172.4L478.6 171.7L479.9 171.0L481.3 170.3L482.6 169.6L483.9 168.9L485.2 168.2L486.5 167.4L487.8 166.7L489.1 166.0L490.4 165.3L491.7 164.5L493.0 163.8L494.3 163.1L495.6 162.3L496.8 161.6L498.1 160.8L499.4 160.1L500.7 159.3L502.0 158.5L503.3 157.8L504.6 157.0L505.9 156.2L507.1 155.5L508.4 154.7L509.7 153.9L511.0 153.1L512.3 152.4L513.5 151.6L514.8 150.8L516.1 150.0L517.4 149.2L518.7 148.4L519.9 147.6L521.2 146.8L522.5 146.0L523.8 145.2L525.0 144.4L526.3 143.6L527.6 142.8L528.8 142.0L530.1 141.2L531.4 140.3L532.7 139.5L533.9 138.7L535.2 137.9L536.5 137.1L537.7 136.3L539.0 135.5L540.3 134.6L541.6 133.8L542.8 133.0L544.1 132.2L545.4 131.4L546.7 130.5L547.9 129.7L549.2 128.9L550.5 128.1L551.8 127.3L553.1 126.5L554.4 125.7L555.6 124.9L556.9 124.1L558.2 123.3L559.5 122.5L560.8 121.7L562.1 120.9L563.4 120.1L564.7 119.3L566.0 118.6L567.4 117.8L568.7 117.1L570.0 116.3L571.3 115.6L572.6 114.8L574.0 114.1L575.3 113.4L576.6 112.6L578.0 111.9L579.3 111.2L580.7 110.5L582.0 109.9L583.4 109.2L584.7 108.5L586.1 107.9L587.5 107.2L588.8 106.6L590.2 106.0L591.6 105.3L593.0 104.7L594.4 104.2L595.8 103.6L597.2 103.0L598.6 102.4L600.0 101.9L601.4 101.4L602.8 100.8L604.2 100.3L605.6 99.8L607.0 99.3L608.5 98.8L609.9 98.3L611.3 97.9L612.7 97.4L614.2 97.0L615.6 96.5L617.1 96.1L618.5 95.7L619.9 95.3L621.4 94.9L622.8 94.5L624.3 94.1L625.8 93.7L627.2 93.4L628.7 93.0L630.2 92.7L631.6 92.4L633.1 92.1L634.6 91.8L636.1 91.5L637.5 91.2L639.0 90.9L640.5 90.6L642.0 90.3L643.5 90.1L645.0 89.8L646.4 89.6L647.9 89.3L649.4 89.1L650.9 88.9L652.4 88.6L653.9 88.4L655.4 88.2L656.9 87.9L658.4 87.7L659.9 87.5L661.4 87.3L662.9 87.1L664.4 86.9L665.9 86.7L667.4 86.5L668.9 86.3L670.4 86.1L671.9 85.9L673.4 85.8L674.9 85.6L676.5 85.4L678.0 85.3L679.5 85.1L681.0 84.9L682.5 84.8L684.0 84.6L685.5 84.5L687.0 84.4L688.6 84.2L690.1 84.1L691.6 84.0L693.1 83.8L694.6 83.7L696.1 83.6L697.7 83.5L699.2 83.3L700.7 83.2L702.2 83.1L703.7 83.0L705.3 82.9L706.8 82.8L708.3 82.7L709.8 82.6L711.3 82.5L712.8 82.4L714.4 82.3L715.9 82.2L717.4 82.1L718.9 82.0L720.4 81.9L721.9 81.8L723.5 81.7L725.0 81.6L726.5 81.5L728.0 81.4L729.5 81.4L731.0 81.3L732.5 81.2L734.1 81.1L735.6 81.0L737.1 80.9L738.6 80.8L740.1 80.7L741.6 80.7L743.1 80.6L744.6 80.5L746.1 80.4L747.7 80.3L749.2 80.2L750.7 80.2L752.2 80.1L753.7 80.0L755.2 79.9L756.7 79.9L758.2 79.8L759.7 79.7L761.3 79.6L762.8 79.5L764.3 79.5L765.8 79.4L767.3 79.3L768.8 79.3L770.3 79.2L771.8 79.1L773.3 79.0L774.8 79.0L776.3 78.9L777.8 78.8L779.4 78.8L780.9 78.7L782.4 78.6L783.9 78.5L785.4 78.5L786.9 78.4L788.4 78.3L789.9 78.3L791.4 78.2L792.9 78.1L794.4 78.1L795.9 78.0L797.4 78.0L798.9 77.9L800.4 77.8L801.9 77.8L803.4 77.7L805.0 77.6L806.5 77.6L808.0 77.5L809.5 77.5L811.0 77.4L812.5 77.3L814.0 77.3L815.5 77.2L817.0 77.2L818.5 77.1L820.0 77.0L821.5 77.0L823.0 76.9L824.5 76.9L826.0 76.8L827.5 76.7L829.0 76.7L830.5 76.6L832.0 76.6L833.5 76.5L835.0 76.5L836.5 76.4L838.0 76.3L839.5 76.3L841.0 76.2L842.5 76.2L844.0 76.1L845.5 76.1L847.0 76.0L848.5 76.0L850.0 75.9L851.5 75.8L853.0 75.8L854.5 75.7L856.0 75.7L857.5 75.6L859.0 75.6L860.5 75.5L862.0 75.5L863.5 75.4L865.0 75.4L866.5 75.3L868.0 75.2L869.5 75.2L871.0 75.1L872.5 75.1L874.0 75.0L875.5 75.0L877.0 74.9L878.5 74.9L880.0 74.8L881.5 74.8L883.0 74.7L884.5 74.7L886.0 74.6L887.5 74.5L889.0 74.5L890.5 74.4L892.0 74.4L893.5 74.3L895.0 74.3L896.5 74.2L898.0 74.2L899.5 74.1L901.0 74.1L902.5 74.0L903.9 74.0L905.4 73.9L906.9 73.8L908.4 73.8L909.9 73.7L911.4 73.7L912.9 73.6L914.4 73.6L915.9 73.5L917.4 73.5L918.9 73.4L920.4 73.4L921.9 73.3L923.4 73.3L924.9 73.2L926.4 73.1L927.9 73.1L929.4 73.0L930.9 73.0L932.4 72.9L933.9 72.9L935.4 72.8L936.9 72.8L938.4 72.7L939.8 72.7L941.3 72.6L942.8 72.5L944.3 72.5L945.8 72.4L947.3 72.4L948.8 72.3L950.3 72.3L951.8 72.2L953.3 72.1L954.8 72.1L956.3 72.0L957.8 71.9L959.3 71.9L960.8 71.8L962.3 71.8L963.8 71.7L965.3 71.6L966.8 71.6L968.2 71.5L969.7 71.4L971.2 71.4L972.7 71.3L974.2 71.2L975.7 71.2L977.2 71.1L978.7 71.0L980.2 70.9L981.7 70.9L983.2 70.8L984.7 70.7L986.2 70.7L987.7 70.6L989.2 70.5L990.7 70.4L992.2 70.4L993.6 70.3L995.1 70.2L996.6 70.1L998.1 70.1L999.6 70.0L1001.1 69.9L1002.6 69.8L1002.6 69.8L1001.1 69.9L999.6 70.0L998.1 70.1L996.6 70.1L995.1 70.2L993.6 70.3L992.2 70.4L990.7 70.4L989.2 70.5L987.7 70.6L986.2 70.7L984.7 70.7L983.2 70.8L981.7 70.9L980.2 70.9L978.7 71.0L977.2 71.1L975.7 71.2L974.2 71.2L972.7 71.3L971.2 71.4L969.7 71.4L968.2 71.5L966.8 71.6L965.3 71.6L963.8 71.7L962.3 71.8L960.8 71.8L959.3 71.9L957.8 72.0L956.3 72.0L954.8 72.1L953.3 72.2L951.8 72.2L950.3 72.3L948.8 72.3L947.3 72.4L945.8 72.5L944.3 72.5L942.8 72.6L941.3 72.6L939.8 72.7L938.4 72.8L936.9 72.8L935.4 72.9L933.9 72.9L932.4 73.0L930.9 73.0L929.4 73.1L927.9 73.2L926.4 73.2L924.9 73.3L923.4 73.3L921.9 73.4L920.4 73.4L918.9 73.5L917.4 73.5L915.9 73.6L914.4 73.7L912.9 73.7L911.4 73.8L909.9 73.8L908.4 73.9L906.9 73.9L905.4 74.0L904.0 74.0L902.5 74.1L901.0 74.1L899.5 74.2L898.0 74.3L896.5 74.3L895.0 74.4L893.5 74.4L892.0 74.5L890.5 74.5L889.0 74.6L887.5 74.6L886.0 74.7L884.5 74.8L883.0 74.8L881.5 74.9L880.0 74.9L878.5 75.0L877.0 75.0L875.5 75.1L874.0 75.1L872.5 75.2L871.0 75.2L869.5 75.3L868.0 75.3L866.5 75.4L865.0 75.5L863.5 75.5L862.0 75.6L860.5 75.6L859.0 75.7L857.5 75.7L856.0 75.8L854.5 75.8L853.0 75.9L851.5 75.9L850.0 76.0L848.5 76.1L847.0 76.1L845.5 76.2L844.0 76.2L842.5 76.3L841.0 76.3L839.5 76.4L838.0 76.5L836.5 76.5L835.0 76.6L833.5 76.6L832.0 76.7L830.5 76.7L829.0 76.8L827.5 76.9L826.0 76.9L824.5 77.0L823.0 77.0L821.5 77.1L820.0 77.2L818.5 77.2L817.0 77.3L815.5 77.3L814.0 77.4L812.5 77.5L811.0 77.5L809.5 77.6L808.0 77.6L806.5 77.7L805.0 77.8L803.5 77.8L801.9 77.9L800.4 78.0L798.9 78.0L797.4 78.1L795.9 78.2L794.4 78.2L792.9 78.3L791.4 78.4L789.9 78.4L788.4 78.5L786.9 78.6L785.4 78.6L783.9 78.7L782.4 78.8L780.9 78.8L779.4 78.9L777.9 79.0L776.3 79.1L774.8 79.1L773.3 79.2L771.8 79.3L770.3 79.3L768.8 79.4L767.3 79.5L765.8 79.6L764.3 79.6L762.8 79.7L761.3 79.8L759.8 79.9L758.2 80.0L756.7 80.0L755.2 80.1L753.7 80.2L752.2 80.3L750.7 80.3L749.2 80.4L747.7 80.5L746.2 80.6L744.6 80.7L743.1 80.8L741.6 80.8L740.1 80.9L738.6 81.0L737.1 81.1L735.6 81.2L734.1 81.3L732.5 81.4L731.0 81.5L729.5 81.5L728.0 81.6L726.5 81.7L725.0 81.8L723.5 81.9L722.0 82.0L720.4 82.1L718.9 82.2L717.4 82.3L715.9 82.4L714.4 82.5L712.9 82.6L711.3 82.7L709.8 82.8L708.3 82.9L706.8 83.0L705.3 83.1L703.7 83.2L702.2 83.3L700.7 83.4L699.2 83.5L697.7 83.7L696.2 83.8L694.6 83.9L693.1 84.0L691.6 84.2L690.1 84.3L688.6 84.4L687.1 84.6L685.6 84.7L684.0 84.9L682.5 85.0L681.0 85.2L679.5 85.3L678.0 85.5L676.5 85.7L675.0 85.8L673.5 86.0L672.0 86.2L670.4 86.4L668.9 86.6L667.4 86.7L665.9 86.9L664.4 87.2L662.9 87.4L661.4 87.6L659.9 87.8L658.4 88.0L656.9 88.2L655.5 88.5L654.0 88.7L652.5 88.9L651.0 89.2L649.5 89.4L648.0 89.7L646.5 89.9L645.0 90.2L643.5 90.4L642.1 90.7L640.6 91.0L639.1 91.2L637.6 91.5L636.1 91.8L634.7 92.1L633.2 92.4L631.7 92.8L630.3 93.1L628.8 93.4L627.3 93.8L625.9 94.1L624.4 94.5L623.0 94.9L621.5 95.3L620.1 95.7L618.6 96.1L617.2 96.5L615.7 96.9L614.3 97.4L612.9 97.8L611.4 98.3L610.0 98.7L608.6 99.2L607.2 99.7L605.7 100.2L604.3 100.7L602.9 101.2L601.5 101.7L600.1 102.3L598.7 102.8L597.3 103.4L595.9 104.0L594.5 104.5L593.1 105.1L591.8 105.7L590.4 106.3L589.0 107.0L587.6 107.6L586.3 108.2L584.9 108.9L583.5 109.6L582.2 110.2L580.8 110.9L579.5 111.6L578.2 112.3L576.8 113.0L575.5 113.8L574.2 114.5L572.8 115.2L571.5 116.0L570.2 116.7L568.9 117.5L567.6 118.2L566.3 119.0L565.0 119.8L563.7 120.5L562.4 121.3L561.1 122.1L559.8 122.9L558.5 123.7L557.2 124.5L555.9 125.3L554.6 126.1L553.3 126.9L552.1 127.7L550.8 128.5L549.5 129.3L548.2 130.2L546.9 131.0L545.7 131.8L544.4 132.6L543.1 133.4L541.9 134.3L540.6 135.1L539.3 135.9L538.0 136.7L536.8 137.5L535.5 138.4L534.2 139.2L533.0 140.0L531.7 140.8L530.4 141.6L529.1 142.4L527.9 143.3L526.6 144.1L525.3 144.9L524.1 145.7L522.8 146.5L521.5 147.3L520.2 148.1L519.0 148.9L517.7 149.7L516.4 150.5L515.1 151.3L513.9 152.1L512.6 152.9L511.3 153.7L510.0 154.4L508.7 155.2L507.5 156.0L506.2 156.8L504.9 157.6L503.6 158.3L502.3 159.1L501.0 159.9L499.8 160.6L498.5 161.4L497.2 162.1L495.9 162.9L494.6 163.6L493.3 164.4L492.0 165.1L490.7 165.9L489.4 166.6L488.1 167.3L486.8 168.0L485.5 168.8L484.2 169.5L482.9 170.2L481.6 170.9L480.3 171.6L479.0 172.3L477.6 173.0L476.3 173.7L475.0 174.4L473.7 175.0L472.4 175.7L471.1 176.4L469.7 177.1L468.4 177.7L467.1 178.4L465.7 179.0L464.4 179.7L463.1 180.3L461.7 180.9L460.4 181.5L459.1 182.2L457.7 182.8L456.4 183.4L455.0 184.0L453.7 184.6L452.3 185.2L450.9 185.8L449.6 186.4L448.2 187.0L446.9 187.6L445.5 188.1L444.1 188.7L442.8 189.3L441.4 189.9L440.0 190.4L438.6 191.0L437.3 191.5L435.9 192.1L434.5 192.6L433.1 193.2L431.7 193.7L430.4 194.2L429.0 194.8L427.6 195.3L426.2 195.8L424.8 196.4L423.4 196.9L422.0 197.4L420.6 197.9L419.2 198.4L417.8 198.9L416.4 199.4L415.0 199.9L413.6 200.4L412.2 200.9L410.8 201.4L409.4 201.9L408.0 202.4L406.6 202.9L405.2 203.4L403.7 203.9L402.3 204.4L400.9 204.9L399.5 205.3L398.1 205.8L396.7 206.3L395.2 206.8L393.8 207.2L392.4 207.7L391.0 208.2L389.6 208.7L388.1 209.1L386.7 209.6L385.3 210.1L383.9 210.5L382.4 211.0L381.0 211.5L379.6 211.9L378.2 212.4L376.7 212.9L375.3 213.3L373.9 213.8L372.4 214.2L371.0 214.7L369.6 215.2L368.1 215.6L366.7 216.1L365.3 216.5L363.9 217.0L362.4 217.5L361.0 217.9L359.6 218.4L358.1 218.8L356.7 219.3L355.3 219.8L353.8 220.2L352.4 220.7L351.0 221.2L349.5 221.6L348.1 222.1L346.7 222.6L345.2 223.0L343.8 223.5L342.4 224.0L340.9 224.5L339.5 224.9L338.1 225.4L336.6 225.9L335.2 226.4L333.8 226.9L332.4 227.3L330.9 227.8L329.5 228.3L328.1 228.8L326.6 229.3L325.2 229.8L323.8 230.3L322.4 230.8L320.9 231.3L319.5 231.8L318.1 232.3L316.7 232.8L315.3 233.3L313.8 233.8L312.4 234.4L311.0 234.9L309.6 235.4L308.2 235.9L306.7 236.5L305.3 237.0L303.9 237.5L302.5 238.1L301.1 238.6L299.7 239.2L298.3 239.7L296.9 240.3L295.4 240.8L294.0 241.4L292.6 242.0L291.2 242.5L289.8 243.1L288.4 243.7L287.0 244.3L285.6 244.8L284.2 245.4L282.8 246.0L281.4 246.6L280.1 247.2L278.7 247.8L277.3 248.5L275.9 249.1L274.5 249.7L273.1 250.3L271.7 251.0L270.4 251.6L269.0 252.2L267.6 252.9L266.2 253.5L264.9 254.2L263.5 254.9L262.1 255.5L260.8 256.2L259.4 256.9L258.0 257.6L256.7 258.3L255.3 259.0L253.9 259.6L252.6 260.3L251.2 261.0L249.8 261.7L248.4 262.3L247.1 263.0L245.7 263.7L244.3 264.4L242.9 265.1L241.5 265.8L240.2 266.5L238.8 267.3L237.5 268.0L236.1 268.8L234.8 269.6L233.4 270.4L232.1 271.2L230.8 272.0L229.5 272.9L228.2 273.8L227.0 274.7L225.7 275.6L224.5 276.6L223.3 277.5L222.1 278.5L220.9 279.6L219.7 280.6L218.6 281.6L217.5 282.7L216.3 283.8L215.3 284.9L214.2 286.1L213.1 287.2L212.1 288.4L211.1 289.6L210.1 290.9L209.2 292.1L208.3 293.4L207.4 294.7L206.5 296.0L205.7 297.3L204.9 298.7L204.1 300.1L203.3 301.4L202.6 302.8L201.9 304.3L201.3 305.7L200.6 307.1L200.0 308.6L199.5 310.1L198.9 311.6L198.4 313.1L197.9 314.6L197.5 316.1L197.1 317.7L196.7 319.2L196.3 320.8L196.0 322.3L195.8 323.9L195.5 325.5L195.3 327.1L195.1 328.7L195.2 330.3L195.2 331.9L195.1 333.5L195.1 335.0L195.1 336.6L195.1 338.2L195.2 339.7L195.2 341.3L195.3 342.8L195.3 344.3L195.3 345.8L195.2 347.4L195.2 348.9L195.2 350.4L195.2 351.9L195.2 353.4L195.2 354.9L195.2 356.4L195.2 357.9L195.2 359.4L195.1 360.9L195.1 362.4L195.1 363.9L195.1 365.4L195.1 366.9L195.1 368.4L195.0 369.9L195.0 371.4L195.0 372.9L194.9 374.4L194.9 375.9L194.9 377.4L194.8 378.9L194.8 380.4L194.7 381.8L194.7 383.3L194.7 384.8L194.6 386.3L194.6 387.8L194.5 389.3L194.5 390.8L194.5 392.3L194.5 393.8L194.4 395.3L194.4 396.8L194.4 398.3L194.3 399.8L194.3 401.3L194.3 402.8L194.2 404.3L194.2 405.8L194.1 407.3L194.1 408.8L194.1 410.3L194.0 411.8L194.0 413.3L193.9 414.8L193.9 416.3L193.8 417.8L193.8 419.3L193.7 420.8L193.7 422.3L193.6 423.8L193.5 425.3L193.5 426.8L193.4 428.3L193.4 429.8L193.4 431.3L193.3 432.8L193.3 434.3L193.3 435.8L193.2 437.3L193.2 438.8L193.2 440.3L193.2 441.9L193.1 443.4L193.1 444.9L193.1 446.4L193.1 447.9L193.1 449.4L193.1 450.9L193.1 452.4L193.1 453.9L193.1 455.4L193.1 456.9L193.1 458.4L193.1 459.9L193.1 461.4L193.1 462.9L193.1 464.5L193.1 466.0L193.1 467.5L193.1 469.0L193.2 470.5L193.2 472.0L193.2 473.5L193.2 475.0L193.2 476.5L193.3 478.0L193.3 479.5L193.3 481.0L193.4 482.5L193.4 484.1Z" fill="#000"/><line x1="195.7" y1="58.8" x2="195.7" y2="168" stroke="#00f" stroke-width="4.2"/></g><text transform="translate(194.7,848.1) scale(1,1.07)" font-size="40" text-anchor="middle" font-family="Liberation Sans, sans-serif" font-weight="bold">0</text><text transform="translate(299.8,848.1) scale(1,1.07)" font-size="40" text-anchor="middle" font-family="Liberation Sans, sans-serif" font-weight="bold">30</text><text transform="translate(405.0,848.1) scale(1,1.07)" font-size="40" text-anchor="middle" font-family="Liberation Sans, sans-serif" font-weight="bold">60</text><text transform="translate(510.1,848.1) scale(1,1.07)" font-size="40" text-anchor="middle" font-family="Liberation Sans, sans-serif" font-weight="bold">90</text><text transform="translate(615.2,848.1) scale(1,1.07)" font-size="40" text-anchor="middle" font-family="Liberation Sans, sans-serif" font-weight="bold">120</text><text transform="translate(720.3,848.1) scale(1,1.07)" font-size="40" text-anchor="middle" font-family="Liberation Sans, sans-serif" font-weight="bold">150</text><text transform="translate(825.5,848.1) scale(1,1.07)" font-size="40" text-anchor="middle" font-family="Liberation Sans, sans-serif" font-weight="bold">180</text><text transform="translate(930.6,848.1) scale(1,1.07)" font-size="40" text-anchor="middle" font-family="Liberation Sans, sans-serif" font-weight="bold">210</text><text transform="translate(1035.7,848.1) scale(1,1.07)" font-size="40" text-anchor="middle" font-family="Liberation Sans, sans-serif" font-weight="bold">240</text><text transform="translate(1140.9,848.1) scale(1,1.07)" font-size="40" text-anchor="middle" font-family="Liberation Sans, sans-serif" font-weight="bold">270</text><text transform="translate(1246.0,848.1) scale(1,1.07)" font-size="40" text-anchor="middle" font-family="Liberation Sans, sans-serif" font-weight="bold">300</text><text transform="translate(168.6,802.8) scale(1,1.07)" font-size="40" text-anchor="end" font-family="Liberation Sans, sans-serif" font-weight="bold">2.0</text><text transform="translate(168.6,660.5) scale(1,1.07)" font-size="40" text-anchor="end" font-family="Liberation Sans, sans-serif" font-weight="bold">2.5</text><text transform="translate(168.6,518.2) scale(1,1.07)" font-size="40" text-anchor="end" font-family="Liberation Sans, sans-serif" font-weight="bold">3.0</text><text transform="translate(168.6,375.9) scale(1,1.07)" font-size="40" text-anchor="end" font-family="Liberation Sans, sans-serif" font-weight="bold">3.5</text><text transform="translate(168.6,233.6) scale(1,1.07)" font-size="40" text-anchor="end" font-family="Liberation Sans, sans-serif" font-weight="bold">4.0</text><text transform="translate(168.6,91.3) scale(1,1.07)" font-size="40" text-anchor="end" font-family="Liberation Sans, sans-serif" font-weight="bold">4.5</text><text x="290.2" y="931.5" font-size="67.8" font-family="Liberation Sans, sans-serif" font-weight="bold">Specific capacity (mAh g<tspan font-size="40" dy="-33">-1</tspan><tspan dy="33">)</tspan></text><text transform="translate(59,760) rotate(-90)" font-size="68.4" font-family="Liberation Sans, sans-serif" font-weight="bold">Voltage / V (vs. Li / Li<tspan font-size="40" dy="-33">+</tspan><tspan dy="33">)</tspan></text><line x1="213.8" y1="638" x2="304" y2="638" stroke="#000" stroke-width="5.5"/><text x="316" y="651.6" font-size="40" letter-spacing="0.35" font-family="Liberation Sans, sans-serif" font-weight="bold">Pristine OLO</text><line x1="213.8" y1="689" x2="304" y2="689" stroke="#f00" stroke-width="5.5"/><text x="316" y="702.6" font-size="40" letter-spacing="0.35" font-family="Liberation Sans, sans-serif" font-weight="bold">1 wt.% PEDOT:PSS coated OLO</text><line x1="213.8" y1="739.2" x2="304" y2="739.2" stroke="#00f" stroke-width="5.5"/><text x="316" y="752.8" font-size="40" letter-spacing="0.35" font-family="Liberation Sans, sans-serif" font-weight="bold">2.5 wt.% PEDOT:PSS coated OLO</text><path d="M475.2 96.6 L486.2 90.9 L492.3 90.9 L492.3 126.7 L500.4 126.7 L500.4 132 L475.3 132 L475.3 126.7 L484.2 126.7 L484.2 98.6 L476.6 101.6 Z" fill="#000"/><text x="503.2" y="116" font-size="37.8" font-family="Liberation Sans, sans-serif" font-weight="bold">st</text><text x="808.8" y="226" font-size="59.2" font-family="Liberation Sans, sans-serif" font-weight="bold">2</text><text x="842.2" y="209" font-size="39.5" font-family="Liberation Sans, sans-serif" font-weight="bold">nd</text></svg>
</body></html>
